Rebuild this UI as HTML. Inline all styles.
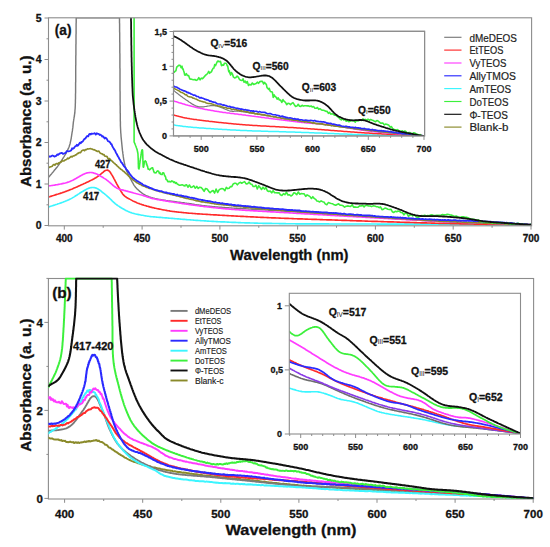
<!DOCTYPE html>
<html><head><meta charset="utf-8"><style>
html,body{margin:0;padding:0;background:#fff;}
svg{display:block;font-family:"Liberation Sans",sans-serif;}
</style></head><body>
<svg width="550" height="547" viewBox="0 0 550 547">
<rect width="550" height="547" fill="#fff"/>
<clipPath id="ca"><rect x="48.5" y="17.8" width="483.1" height="208.0"/></clipPath>
<clipPath id="cai"><rect x="173.5" y="31.3" width="251" height="104.6"/></clipPath>
<clipPath id="cb"><rect x="48.4" y="277.4" width="485.2" height="221.3"/></clipPath>
<clipPath id="cbi"><rect x="289.3" y="293.3" width="231.2" height="140.4"/></clipPath>
<g clip-path="url(#ca)">
<path d="M48.6,177.2 49.2,176.4 49.9,175.7 50.5,174.9 51.2,174.2 51.9,173.4 52.5,172.6 53.2,171.9 53.8,171.1 54.4,170.3 55.1,169.6 55.7,168.8 56.3,168.0 57.0,167.2 57.6,166.4 58.2,165.6 58.7,164.8 59.3,164.0 59.9,163.1 60.4,162.3 61.0,161.5 61.5,160.6 62.1,159.8 62.6,158.9 63.1,158.1 63.7,157.2 64.2,156.4 64.7,155.5 65.2,154.6 65.7,153.8 66.2,152.9 66.7,152.0 67.1,151.1 67.6,150.2 68.0,149.3 68.4,148.4 68.8,147.5 69.2,146.5 69.5,145.6 69.8,144.6 70.1,143.7 70.3,142.7 70.5,141.7 70.7,140.8 70.9,139.8 71.1,138.8 71.3,137.8 71.4,136.8 71.6,135.8 71.7,134.8 71.9,133.8 72.0,132.8 72.2,131.9 72.4,130.9 72.5,129.9 72.6,128.9 72.8,127.9 72.9,126.9 73.0,125.9 73.1,124.9 73.2,123.9 73.3,122.9 73.4,121.9 73.6,120.9 73.7,119.9 73.9,118.9 74.0,117.9 74.2,117.0 74.4,116.0 74.5,115.0 74.6,114.0 74.8,113.0 74.9,112.0 74.9,111.0 75.0,110.0 75.1,109.0 75.2,108.0 75.2,107.0 75.3,106.0 75.3,105.0 75.3,104.0 75.4,103.0 75.4,102.0 75.4,101.0 75.4,100.0 75.5,99.0 75.5,98.0 75.5,97.0 75.5,96.0 75.5,95.0 75.5,94.0 75.6,93.0 75.6,92.0 75.6,91.0 75.6,90.0 75.6,89.0 75.6,88.0 75.6,87.0 75.6,85.9 75.6,84.9 75.6,83.9 75.6,82.9 75.7,81.9 75.7,80.9 75.7,79.9 75.7,78.9 75.7,77.9 75.7,76.9 75.7,75.9 75.7,74.9 75.7,73.9 75.7,72.9 75.7,71.9 75.7,70.9 75.7,69.9 75.7,68.9 75.7,67.9 75.7,66.9 75.7,65.9 75.8,64.9 75.8,63.9 75.8,62.9 75.8,61.9 75.8,60.9 75.8,59.9 75.8,58.9 75.8,57.9 75.8,56.9 75.8,55.9 75.9,54.9 75.9,53.9 75.9,52.9 75.9,51.9 75.9,50.9 75.9,49.9 75.9,48.9 75.9,47.9 75.9,46.9 75.9,45.9 75.9,44.9 76.0,43.9 76.0,42.9 76.0,41.9 76.0,40.9 76.0,39.8 76.0,38.8 76.0,37.8 76.0,36.8 76.0,35.8 76.0,34.8 76.1,33.8 76.1,32.8 76.1,31.8 76.1,30.8 76.1,29.8 76.1,28.8 76.1,27.8 76.1,26.8 76.1,25.8 76.1,24.8 76.1,23.8 76.2,22.8 76.2,21.8 76.2,20.8 76.2,19.8 76.2,18.8 76.2,17.8 L119.5,17.8 119.5,18.8 119.5,19.8 119.5,20.8 119.5,21.8 119.5,22.8 119.6,23.8 119.6,24.8 119.6,25.8 119.6,26.8 119.6,27.8 119.6,28.8 119.6,29.8 119.6,30.8 119.6,31.8 119.7,32.8 119.7,33.8 119.7,34.8 119.7,35.8 119.7,36.8 119.7,37.8 119.7,38.8 119.7,39.8 119.7,40.8 119.7,41.8 119.8,42.8 119.8,43.8 119.8,44.8 119.8,45.8 119.8,46.8 119.8,47.8 119.8,48.8 119.8,49.8 119.8,50.8 119.8,51.8 119.8,52.8 119.9,53.9 119.9,54.9 119.9,55.9 119.9,56.9 119.9,57.9 119.9,58.9 119.9,59.9 119.9,60.9 119.9,61.9 119.9,62.9 119.9,63.9 119.9,64.9 119.9,65.9 119.9,66.9 119.9,67.9 120.0,68.9 120.0,69.9 120.0,70.9 120.0,71.9 120.0,72.9 120.0,73.9 120.0,74.9 120.0,75.9 120.0,76.9 120.0,77.9 120.0,78.9 120.0,79.9 120.0,80.9 120.0,81.9 120.0,82.9 120.0,83.9 120.0,84.9 120.0,85.9 120.0,86.9 120.0,87.9 120.0,88.9 120.0,89.9 120.0,90.9 120.1,91.9 120.1,92.9 120.1,93.9 120.1,94.9 120.1,95.9 120.1,96.9 120.1,97.9 120.1,98.9 120.1,99.9 120.1,100.9 120.1,101.9 120.1,102.9 120.1,103.9 120.1,104.9 120.2,105.9 120.2,106.9 120.2,107.9 120.2,108.9 120.2,109.9 120.2,110.9 120.2,111.9 120.2,112.9 120.3,113.9 120.3,114.9 120.3,115.9 120.3,116.9 120.3,117.9 120.3,118.9 120.3,119.9 120.3,120.9 120.4,121.9 120.4,123.0 120.4,124.0 120.4,125.0 120.4,126.0 120.5,127.0 120.5,128.0 120.6,129.0 120.6,130.0 120.7,131.0 120.7,132.0 120.8,133.0 120.9,134.0 121.0,135.0 121.0,136.0 121.1,136.9 121.2,137.9 121.3,138.9 121.4,139.9 121.5,140.9 121.6,141.9 121.7,142.9 121.8,143.9 121.9,144.9 122.0,145.9 122.1,146.9 122.2,147.9 122.3,148.9 122.4,149.9 122.5,150.9 122.7,151.9 122.8,152.9 122.9,153.9 123.1,154.9 123.2,155.9 123.3,156.9 123.5,157.8 123.6,158.8 123.8,159.8 124.0,160.8 124.2,161.8 124.4,162.8 124.6,163.8 124.8,164.7 125.0,165.7 125.3,166.7 125.6,167.6 125.9,168.6 126.2,169.5 126.5,170.5 126.9,171.4 127.3,172.3 127.7,173.2 128.1,174.1 128.6,175.0 129.0,175.9 129.5,176.8 130.0,177.7 130.4,178.6 130.9,179.5 131.4,180.4 131.8,181.3 132.3,182.1 132.8,183.0 133.3,183.9 133.8,184.8 134.3,185.6 134.9,186.4 135.5,187.2 136.2,187.9 136.9,188.7 137.6,189.4 138.3,190.0 139.1,190.7 139.8,191.4 140.6,192.0 141.4,192.6 142.2,193.2 143.0,193.8 143.9,194.3 144.8,194.8 145.6,195.3 146.5,195.7 147.5,196.1 148.4,196.5 149.3,196.9 150.3,197.2 151.2,197.5 152.2,197.8 153.1,198.1 154.1,198.3 155.1,198.6 156.1,198.8 157.0,199.0 158.0,199.2 159.0,199.4 160.0,199.5 161.0,199.7 162.0,199.9 162.9,200.0 163.9,200.2 164.9,200.3 165.9,200.5 166.9,200.6 167.9,200.8 168.9,200.9 169.9,201.0 170.9,201.2 171.9,201.3 172.9,201.4 173.9,201.5 174.9,201.7 175.8,201.8 176.8,201.9 177.8,202.1 178.8,202.2 179.8,202.3 180.8,202.4 181.8,202.6 182.8,202.7 183.8,202.8 184.8,203.0 185.8,203.1 186.8,203.3 187.8,203.4 188.7,203.5 189.7,203.7 190.7,203.8 191.7,204.0 192.7,204.2 193.7,204.3 194.7,204.5 195.7,204.6 196.7,204.8 197.7,204.9 198.7,205.0 199.6,205.2 200.6,205.3 201.6,205.4 202.6,205.6 203.6,205.7 204.6,205.8 205.6,205.9 206.6,206.0 207.6,206.1 208.6,206.2 209.6,206.3 210.6,206.4 211.6,206.5 212.6,206.6 213.6,206.7 214.6,206.8 215.6,206.9 216.6,206.9 217.6,207.0 218.6,207.1 219.6,207.2 220.6,207.3 221.6,207.3 222.6,207.4 223.6,207.5 224.6,207.5 225.6,207.6 226.6,207.7 227.6,207.7 228.6,207.8 229.6,207.9 230.6,207.9 231.6,208.0 232.6,208.1 233.6,208.1 234.6,208.2 235.6,208.3 236.6,208.3 237.6,208.4 238.6,208.4 239.6,208.5 240.6,208.5 241.6,208.6 242.6,208.7 243.6,208.7 244.6,208.8 245.6,208.8 246.6,208.9 247.6,208.9 248.6,209.0 249.6,209.1 250.6,209.1 251.6,209.2 252.6,209.2 253.6,209.3 254.6,209.3 255.6,209.4 256.6,209.5 257.6,209.5 258.6,209.6 259.6,209.6 260.6,209.7 261.6,209.7 262.6,209.8 263.6,209.9 264.6,209.9 265.6,210.0 266.6,210.0 267.6,210.1 268.6,210.2 269.6,210.2 270.5,210.3 271.5,210.3 272.5,210.4 273.5,210.5 274.5,210.5 275.5,210.6 276.5,210.6 277.5,210.7 278.5,210.8 279.5,210.8 280.5,210.9 281.5,211.0 282.5,211.0 283.5,211.1 284.5,211.1 285.5,211.2 286.5,211.3 287.5,211.3 288.5,211.4 289.5,211.5 290.5,211.5 291.5,211.6 292.5,211.7 293.5,211.7 294.5,211.8 295.5,211.9 296.5,211.9 297.5,212.0 298.5,212.1 299.5,212.1 300.5,212.2 301.5,212.3 302.5,212.3 303.5,212.4 304.5,212.5 305.5,212.5 306.5,212.6 307.5,212.7 308.5,212.7 309.5,212.8 310.5,212.9 311.5,212.9 312.5,213.0 313.5,213.1 314.5,213.2 315.5,213.2 316.5,213.3 317.5,213.4 318.5,213.4 319.5,213.5 320.5,213.6 321.5,213.6 322.5,213.7 323.5,213.8 324.5,213.8 325.5,213.9 326.5,214.0 327.5,214.1 328.5,214.1 329.5,214.2 330.5,214.3 331.5,214.3 332.5,214.4 333.5,214.5 334.5,214.5 335.5,214.6 336.5,214.7 337.5,214.7 338.5,214.8 339.5,214.9 340.5,215.0 341.5,215.0 342.5,215.1 343.5,215.2 344.5,215.2 345.5,215.3 346.5,215.4 347.5,215.4 348.5,215.5 349.5,215.6 350.5,215.7 351.5,215.7 352.5,215.8 353.5,215.9 354.5,215.9 355.5,216.0 356.5,216.1 357.5,216.1 358.5,216.2 359.5,216.3 360.5,216.3 361.5,216.4 362.5,216.5 363.5,216.6 364.5,216.6 365.5,216.7 366.5,216.8 367.5,216.8 368.5,216.9 369.5,217.0 370.5,217.0 371.5,217.1 372.5,217.2 373.5,217.2 374.5,217.3 375.5,217.4 376.5,217.4 377.5,217.5 378.5,217.6 379.5,217.6 380.5,217.7 381.5,217.8 382.5,217.9 383.5,217.9 384.5,218.0 385.5,218.1 386.5,218.1 387.5,218.2 388.5,218.3 389.5,218.3 390.5,218.4 391.5,218.5 392.5,218.5 393.4,218.6 394.4,218.7 395.4,218.7 396.4,218.8 397.4,218.9 398.4,218.9 399.4,219.0 400.4,219.1 401.4,219.1 402.4,219.2 403.4,219.3 404.4,219.3 405.4,219.4 406.4,219.5 407.4,219.5 408.4,219.6 409.4,219.6 410.4,219.7 411.4,219.8 412.4,219.8 413.4,219.9 414.4,220.0 415.4,220.0 416.4,220.1 417.4,220.2 418.4,220.2 419.4,220.3 420.4,220.3 421.4,220.4 422.4,220.5 423.4,220.5 424.4,220.6 425.4,220.7 426.4,220.7 427.4,220.8 428.4,220.8 429.4,220.9 430.4,221.0 431.4,221.0 432.4,221.1 433.4,221.1 434.4,221.2 435.4,221.2 436.4,221.3 437.4,221.4 438.4,221.4 439.4,221.5 440.4,221.5 441.4,221.6 442.4,221.6 443.4,221.7 444.4,221.7 445.4,221.8 446.4,221.8 447.4,221.9 448.4,221.9 449.4,222.0 450.4,222.0 451.4,222.1 452.4,222.1 453.4,222.2 454.4,222.2 455.4,222.3 456.4,222.3 457.4,222.4 458.4,222.4 459.4,222.5 460.4,222.5 461.4,222.5 462.4,222.6 463.4,222.6 464.4,222.7 465.4,222.7 466.4,222.8 467.4,222.8 468.4,222.8 469.4,222.9 470.4,222.9 471.4,222.9 472.4,223.0 473.4,223.0 474.4,223.1 475.4,223.1 476.4,223.1 477.4,223.2 478.4,223.2 479.4,223.2 480.4,223.3 481.4,223.3 482.4,223.3 483.4,223.4 484.5,223.4 485.5,223.4 486.5,223.5 487.5,223.5 488.5,223.5 489.5,223.6 490.5,223.6 491.5,223.6 492.5,223.7 493.5,223.7 494.5,223.7 495.5,223.7 496.5,223.8 497.5,223.8 498.5,223.8 499.5,223.9 500.5,223.9 501.5,223.9 502.5,223.9 503.5,224.0 504.5,224.0 505.5,224.0 506.5,224.1 507.5,224.1 508.5,224.1 509.5,224.1 510.5,224.2 511.5,224.2 512.5,224.2 513.5,224.2 514.5,224.3 515.5,224.3 516.5,224.3 517.5,224.3 518.5,224.4 519.5,224.4 520.5,224.4 521.5,224.4 522.5,224.5 523.5,224.5 524.5,224.5 525.5,224.5 526.5,224.6 527.5,224.6 528.5,224.6 529.5,224.7 530.5,224.7" fill="none" stroke="#7a7a7a" stroke-width="1.43" stroke-linejoin="round" stroke-linecap="round" />
<path d="M48.6,206.9 49.6,206.6 50.5,206.3 51.5,206.0 52.4,205.7 53.4,205.4 54.3,205.1 55.3,204.8 56.2,204.5 57.2,204.2 58.1,203.8 59.1,203.5 60.0,203.2 61.0,202.9 61.9,202.5 62.8,202.2 63.8,201.8 64.7,201.5 65.6,201.1 66.6,200.7 67.5,200.3 68.4,199.9 69.3,199.5 70.2,199.1 71.1,198.6 72.0,198.1 72.8,197.6 73.7,197.1 74.5,196.6 75.4,196.0 76.2,195.5 77.1,195.0 77.9,194.4 78.8,193.9 79.6,193.3 80.4,192.8 81.3,192.3 82.1,191.7 83.0,191.2 83.8,190.7 84.7,190.2 85.6,189.7 86.5,189.3 87.4,188.8 88.3,188.4 89.2,188.1 90.2,187.8 91.2,187.6 92.2,187.5 93.2,187.5 94.2,187.6 95.2,187.8 96.1,188.1 97.0,188.5 97.9,188.9 98.8,189.5 99.6,190.0 100.4,190.6 101.2,191.2 101.9,191.9 102.7,192.5 103.5,193.1 104.3,193.7 105.1,194.3 105.9,195.0 106.6,195.6 107.4,196.3 108.1,197.0 108.9,197.6 109.6,198.3 110.3,199.0 111.0,199.7 111.7,200.4 112.4,201.1 113.2,201.8 113.9,202.5 114.7,203.1 115.4,203.8 116.2,204.4 117.0,205.0 117.8,205.6 118.7,206.1 119.5,206.7 120.3,207.2 121.2,207.8 122.0,208.3 122.9,208.8 123.8,209.3 124.7,209.8 125.5,210.2 126.4,210.7 127.3,211.1 128.2,211.5 129.2,211.9 130.1,212.3 131.0,212.6 132.0,213.0 132.9,213.2 133.9,213.5 134.9,213.8 135.8,214.0 136.8,214.2 137.8,214.4 138.8,214.6 139.8,214.8 140.7,215.0 141.7,215.2 142.7,215.3 143.7,215.5 144.7,215.7 145.7,215.9 146.7,216.0 147.6,216.2 148.6,216.3 149.6,216.5 150.6,216.6 151.6,216.7 152.6,216.8 153.6,216.9 154.6,216.9 155.6,217.0 156.6,217.1 157.6,217.2 158.6,217.3 159.6,217.3 160.6,217.4 161.6,217.5 162.6,217.6 163.6,217.7 164.6,217.8 165.6,217.8 166.6,217.9 167.6,218.0 168.6,218.1 169.6,218.2 170.5,218.3 171.5,218.4 172.5,218.4 173.5,218.5 174.5,218.6 175.5,218.7 176.5,218.8 177.5,218.9 178.5,218.9 179.5,219.0 180.5,219.1 181.5,219.2 182.5,219.3 183.5,219.3 184.5,219.4 185.5,219.5 186.5,219.6 187.5,219.7 188.5,219.7 189.5,219.8 190.5,219.9 191.5,220.0 192.5,220.0 193.5,220.1 194.5,220.2 195.5,220.3 196.5,220.3 197.5,220.4 198.5,220.5 199.5,220.5 200.5,220.6 201.5,220.7 202.5,220.7 203.5,220.8 204.5,220.9 205.5,220.9 206.5,221.0 207.5,221.1 208.5,221.1 209.5,221.2 210.5,221.2 211.5,221.3 212.4,221.3 213.4,221.4 214.4,221.5 215.4,221.5 216.4,221.6 217.4,221.6 218.4,221.7 219.4,221.7 220.4,221.8 221.4,221.8 222.4,221.8 223.4,221.9 224.4,221.9 225.4,222.0 226.4,222.0 227.4,222.1 228.4,222.1 229.4,222.2 230.4,222.2 231.4,222.3 232.4,222.3 233.4,222.3 234.4,222.4 235.4,222.4 236.4,222.5 237.4,222.5 238.4,222.6 239.4,222.6 240.4,222.6 241.4,222.7 242.4,222.7 243.4,222.7 244.4,222.8 245.4,222.8 246.4,222.8 247.4,222.9 248.4,222.9 249.4,222.9 250.4,223.0 251.4,223.0 252.4,223.0 253.4,223.0 254.4,223.1 255.4,223.1 256.4,223.1 257.4,223.1 258.4,223.2 259.4,223.2 260.4,223.2 261.4,223.2 262.4,223.3 263.4,223.3 264.4,223.3 265.4,223.3 266.4,223.3 267.4,223.4 268.4,223.4 269.4,223.4 270.4,223.4 271.4,223.4 272.4,223.5 273.4,223.5 274.4,223.5 275.4,223.5 276.4,223.5 277.4,223.5 278.4,223.5 279.4,223.6 280.4,223.6 281.4,223.6 282.4,223.6 283.4,223.6 284.4,223.6 285.4,223.6 286.4,223.7 287.4,223.7 288.4,223.7 289.4,223.7 290.4,223.7 291.4,223.7 292.4,223.7 293.4,223.7 294.4,223.7 295.4,223.8 296.4,223.8 297.4,223.8 298.4,223.8 299.4,223.8 300.4,223.8 301.4,223.8 302.4,223.8 303.4,223.8 304.4,223.8 305.4,223.8 306.4,223.8 307.4,223.8 308.4,223.9 309.4,223.9 310.4,223.9 311.4,223.9 312.4,223.9 313.4,223.9 314.4,223.9 315.4,223.9 316.4,223.9 317.4,223.9 318.4,223.9 319.4,223.9 320.4,223.9 321.4,223.9 322.4,223.9 323.4,223.9 324.4,223.9 325.4,223.9 326.4,223.9 327.4,223.9 328.4,223.9 329.4,224.0 330.4,224.0 331.4,224.0 332.4,224.0 333.4,224.0 334.4,224.0 335.4,224.0 336.4,224.0 337.4,224.0 338.4,224.0 339.4,224.0 340.4,224.0 341.4,224.0 342.4,224.0 343.4,224.0 344.4,224.0 345.4,224.0 346.4,224.0 347.4,224.0 348.4,224.0 349.4,224.0 350.4,224.0 351.4,224.0 352.4,224.0 353.4,224.0 354.4,224.0 355.4,224.0 356.4,224.0 357.5,224.0 358.5,224.0 359.5,224.0 360.5,224.0 361.5,224.0 362.5,224.0 363.5,224.0 364.5,224.0 365.5,224.0 366.5,224.0 367.5,224.0 368.5,224.0 369.5,224.0 370.5,224.0 371.5,224.0 372.5,224.0 373.5,224.0 374.5,224.0 375.5,224.0 376.5,224.0 377.5,224.1 378.5,224.1 379.5,224.1 380.5,224.1 381.5,224.1 382.5,224.1 383.5,224.1 384.5,224.1 385.5,224.1 386.5,224.1 387.5,224.1 388.5,224.1 389.5,224.1 390.5,224.1 391.5,224.1 392.5,224.1 393.5,224.1 394.5,224.1 395.5,224.1 396.5,224.1 397.5,224.1 398.5,224.1 399.5,224.1 400.5,224.1 401.5,224.1 402.5,224.1 403.5,224.1 404.5,224.1 405.5,224.1 406.5,224.1 407.5,224.1 408.5,224.1 409.5,224.1 410.5,224.1 411.5,224.1 412.5,224.1 413.5,224.1 414.5,224.1 415.5,224.1 416.5,224.1 417.5,224.1 418.5,224.1 419.5,224.1 420.5,224.1 421.5,224.1 422.5,224.1 423.5,224.1 424.5,224.1 425.5,224.1 426.5,224.1 427.5,224.1 428.5,224.2 429.5,224.2 430.5,224.2 431.5,224.2 432.5,224.2 433.5,224.2 434.5,224.2 435.5,224.2 436.5,224.2 437.5,224.2 438.5,224.2 439.5,224.2 440.5,224.2 441.5,224.2 442.5,224.2 443.5,224.2 444.5,224.2 445.5,224.2 446.5,224.2 447.5,224.2 448.5,224.2 449.5,224.3 450.5,224.3 451.5,224.3 452.5,224.3 453.5,224.3 454.5,224.3 455.5,224.3 456.5,224.3 457.5,224.3 458.5,224.3 459.5,224.3 460.5,224.3 461.5,224.3 462.5,224.3 463.5,224.4 464.5,224.4 465.5,224.4 466.5,224.4 467.5,224.4 468.5,224.4 469.5,224.4 470.5,224.4 471.5,224.4 472.5,224.4 473.5,224.4 474.5,224.4 475.5,224.5 476.5,224.5 477.5,224.5 478.5,224.5 479.5,224.5 480.5,224.5 481.5,224.5 482.5,224.5 483.5,224.5 484.5,224.5 485.5,224.5 486.5,224.6 487.5,224.6 488.5,224.6 489.5,224.6 490.5,224.6 491.5,224.6 492.5,224.6 493.5,224.6 494.5,224.6 495.5,224.6 496.5,224.6 497.5,224.7 498.5,224.7 499.5,224.7 500.5,224.7 501.5,224.7 502.5,224.7 503.5,224.7 504.5,224.7 505.5,224.7 506.5,224.8 507.5,224.8 508.5,224.8 509.5,224.8 510.5,224.8 511.5,224.8 512.5,224.8 513.5,224.8 514.5,224.8 515.5,224.8 516.5,224.9 517.5,224.9 518.5,224.9 519.5,224.9 520.5,224.9 521.5,224.9 522.5,224.9 523.5,224.9 524.5,224.9 525.5,225.0 526.5,225.0 527.5,225.0 528.5,225.0 529.5,225.0 530.5,225.0" fill="none" stroke="#3cf5ff" stroke-width="1.65" stroke-linejoin="round" stroke-linecap="round" />
<path d="M48.6,197.0 49.6,196.7 50.5,196.4 51.5,196.1 52.4,195.8 53.4,195.5 54.3,195.2 55.3,194.9 56.2,194.6 57.2,194.3 58.2,194.0 59.1,193.7 60.1,193.4 61.0,193.1 62.0,192.8 62.9,192.4 63.9,192.1 64.8,191.8 65.7,191.4 66.7,191.1 67.6,190.7 68.6,190.4 69.5,190.0 70.4,189.6 71.3,189.3 72.3,188.9 73.2,188.5 74.1,188.1 75.0,187.7 76.0,187.3 76.9,186.9 77.8,186.5 78.7,186.1 79.6,185.7 80.5,185.3 81.4,184.8 82.3,184.4 83.3,184.0 84.2,183.6 85.1,183.2 86.0,182.7 86.9,182.3 87.8,181.9 88.7,181.5 89.6,181.0 90.5,180.6 91.4,180.1 92.3,179.7 93.2,179.2 94.1,178.7 94.9,178.2 95.8,177.7 96.6,177.2 97.5,176.6 98.3,176.0 99.1,175.4 99.9,174.8 100.7,174.2 101.4,173.6 102.2,172.9 103.0,172.3 103.7,171.6 104.5,171.0 105.4,170.5 106.3,170.2 107.3,170.1 108.2,170.4 109.1,171.0 109.8,171.7 110.4,172.5 110.9,173.4 111.5,174.2 112.0,175.1 112.5,175.9 113.0,176.8 113.5,177.7 113.9,178.6 114.4,179.4 114.9,180.3 115.3,181.2 115.8,182.1 116.3,183.0 116.7,183.9 117.2,184.7 117.7,185.6 118.2,186.5 118.7,187.4 119.2,188.2 119.7,189.1 120.2,190.0 120.7,190.8 121.2,191.7 121.8,192.5 122.3,193.4 122.9,194.2 123.5,194.9 124.2,195.7 125.0,196.3 125.8,196.9 126.6,197.5 127.5,198.0 128.4,198.5 129.3,198.9 130.1,199.4 131.0,199.9 131.9,200.4 132.8,200.9 133.7,201.3 134.6,201.7 135.5,202.1 136.4,202.5 137.3,202.9 138.3,203.3 139.2,203.6 140.1,204.0 141.1,204.3 142.0,204.6 143.0,204.9 143.9,205.2 144.9,205.5 145.9,205.8 146.8,206.1 147.8,206.3 148.8,206.6 149.7,206.9 150.7,207.1 151.7,207.4 152.6,207.6 153.6,207.8 154.6,208.1 155.6,208.3 156.5,208.5 157.5,208.7 158.5,208.9 159.5,209.1 160.5,209.3 161.5,209.5 162.4,209.7 163.4,209.9 164.4,210.0 165.4,210.2 166.4,210.4 167.4,210.6 168.4,210.7 169.3,210.9 170.3,211.1 171.3,211.2 172.3,211.4 173.3,211.5 174.3,211.6 175.3,211.8 176.3,211.9 177.3,212.0 178.3,212.1 179.3,212.2 180.3,212.3 181.3,212.4 182.3,212.5 183.3,212.6 184.3,212.7 185.2,212.8 186.2,212.9 187.2,213.0 188.2,213.1 189.2,213.2 190.2,213.2 191.2,213.3 192.2,213.4 193.2,213.5 194.2,213.5 195.2,213.6 196.2,213.7 197.2,213.8 198.2,213.8 199.2,213.9 200.2,214.0 201.2,214.0 202.2,214.1 203.2,214.2 204.2,214.2 205.2,214.3 206.2,214.4 207.2,214.4 208.2,214.5 209.2,214.5 210.2,214.6 211.2,214.7 212.2,214.7 213.2,214.8 214.2,214.8 215.2,214.9 216.2,214.9 217.2,215.0 218.2,215.1 219.2,215.1 220.2,215.2 221.2,215.2 222.2,215.3 223.2,215.3 224.2,215.4 225.2,215.5 226.2,215.5 227.2,215.6 228.2,215.6 229.2,215.7 230.2,215.7 231.2,215.8 232.2,215.8 233.2,215.9 234.2,216.0 235.2,216.0 236.2,216.1 237.2,216.1 238.2,216.2 239.2,216.2 240.2,216.3 241.2,216.3 242.2,216.4 243.2,216.4 244.2,216.5 245.2,216.5 246.2,216.6 247.2,216.6 248.2,216.7 249.2,216.7 250.2,216.8 251.2,216.8 252.2,216.9 253.2,216.9 254.2,217.0 255.2,217.0 256.2,217.1 257.2,217.1 258.2,217.2 259.2,217.2 260.2,217.3 261.2,217.3 262.2,217.4 263.2,217.4 264.2,217.5 265.2,217.5 266.2,217.5 267.2,217.6 268.2,217.6 269.2,217.7 270.2,217.7 271.2,217.8 272.2,217.8 273.2,217.8 274.2,217.9 275.2,217.9 276.2,218.0 277.2,218.0 278.2,218.0 279.2,218.1 280.2,218.1 281.2,218.2 282.2,218.2 283.2,218.2 284.2,218.3 285.2,218.3 286.2,218.4 287.2,218.4 288.2,218.4 289.2,218.5 290.2,218.5 291.2,218.5 292.2,218.6 293.2,218.6 294.2,218.7 295.2,218.7 296.2,218.7 297.2,218.8 298.2,218.8 299.2,218.8 300.2,218.9 301.2,218.9 302.2,218.9 303.3,219.0 304.3,219.0 305.3,219.1 306.3,219.1 307.3,219.1 308.3,219.2 309.3,219.2 310.3,219.2 311.3,219.3 312.3,219.3 313.3,219.3 314.3,219.4 315.3,219.4 316.3,219.4 317.3,219.5 318.3,219.5 319.3,219.5 320.3,219.6 321.3,219.6 322.3,219.6 323.3,219.7 324.3,219.7 325.3,219.7 326.3,219.8 327.3,219.8 328.3,219.8 329.3,219.9 330.3,219.9 331.3,219.9 332.3,220.0 333.3,220.0 334.3,220.0 335.3,220.1 336.3,220.1 337.3,220.1 338.3,220.2 339.3,220.2 340.3,220.2 341.3,220.3 342.3,220.3 343.3,220.3 344.3,220.4 345.3,220.4 346.3,220.4 347.3,220.5 348.3,220.5 349.3,220.5 350.3,220.6 351.3,220.6 352.3,220.6 353.3,220.7 354.3,220.7 355.3,220.7 356.3,220.8 357.3,220.8 358.3,220.8 359.3,220.9 360.3,220.9 361.3,220.9 362.3,221.0 363.3,221.0 364.3,221.0 365.3,221.1 366.3,221.1 367.3,221.1 368.3,221.2 369.3,221.2 370.3,221.2 371.3,221.3 372.3,221.3 373.3,221.3 374.3,221.4 375.3,221.4 376.3,221.4 377.3,221.4 378.3,221.5 379.3,221.5 380.3,221.5 381.3,221.6 382.3,221.6 383.3,221.6 384.3,221.7 385.3,221.7 386.3,221.7 387.3,221.8 388.3,221.8 389.3,221.8 390.3,221.9 391.3,221.9 392.3,221.9 393.3,221.9 394.3,222.0 395.3,222.0 396.3,222.0 397.3,222.1 398.3,222.1 399.3,222.1 400.3,222.2 401.3,222.2 402.3,222.2 403.3,222.2 404.3,222.3 405.3,222.3 406.3,222.3 407.3,222.4 408.3,222.4 409.3,222.4 410.4,222.5 411.4,222.5 412.4,222.5 413.4,222.5 414.4,222.6 415.4,222.6 416.4,222.6 417.4,222.7 418.4,222.7 419.4,222.7 420.4,222.8 421.4,222.8 422.4,222.8 423.4,222.8 424.4,222.9 425.4,222.9 426.4,222.9 427.4,223.0 428.4,223.0 429.4,223.0 430.4,223.0 431.4,223.1 432.4,223.1 433.4,223.1 434.4,223.1 435.4,223.2 436.4,223.2 437.4,223.2 438.4,223.3 439.4,223.3 440.4,223.3 441.4,223.3 442.4,223.4 443.4,223.4 444.4,223.4 445.4,223.4 446.4,223.5 447.4,223.5 448.4,223.5 449.4,223.5 450.4,223.6 451.4,223.6 452.4,223.6 453.4,223.6 454.4,223.7 455.4,223.7 456.4,223.7 457.4,223.7 458.4,223.7 459.4,223.8 460.4,223.8 461.4,223.8 462.4,223.8 463.4,223.9 464.4,223.9 465.4,223.9 466.4,223.9 467.4,223.9 468.4,224.0 469.4,224.0 470.4,224.0 471.4,224.0 472.4,224.0 473.4,224.0 474.4,224.1 475.4,224.1 476.4,224.1 477.4,224.1 478.4,224.1 479.4,224.2 480.4,224.2 481.4,224.2 482.4,224.2 483.4,224.2 484.4,224.2 485.4,224.3 486.4,224.3 487.4,224.3 488.4,224.3 489.4,224.3 490.4,224.3 491.4,224.4 492.4,224.4 493.4,224.4 494.5,224.4 495.5,224.4 496.5,224.4 497.5,224.4 498.5,224.5 499.5,224.5 500.5,224.5 501.5,224.5 502.5,224.5 503.5,224.5 504.5,224.5 505.5,224.6 506.5,224.6 507.5,224.6 508.5,224.6 509.5,224.6 510.5,224.6 511.5,224.6 512.5,224.6 513.5,224.7 514.5,224.7 515.5,224.7 516.5,224.7 517.5,224.7 518.5,224.7 519.5,224.7 520.5,224.8 521.5,224.8 522.5,224.8 523.5,224.8 524.5,224.8 525.5,224.8 526.5,224.8 527.5,224.9 528.5,224.9 529.5,224.9 530.5,224.9" fill="none" stroke="#ff2a2a" stroke-width="1.65" stroke-linejoin="round" stroke-linecap="round" />
<path d="M48.6,186.0 49.6,185.8 50.6,185.7 51.6,185.5 52.6,185.4 53.5,185.2 54.5,185.1 55.5,184.9 56.5,184.7 57.5,184.6 58.5,184.4 59.5,184.2 60.5,184.0 61.4,183.9 62.4,183.6 63.4,183.4 64.4,183.2 65.4,183.0 66.3,182.7 67.3,182.4 68.2,182.1 69.2,181.8 70.1,181.4 71.0,181.0 72.0,180.6 72.8,180.2 73.7,179.7 74.6,179.2 75.5,178.7 76.4,178.2 77.2,177.7 78.1,177.2 79.0,176.7 79.8,176.2 80.7,175.7 81.6,175.3 82.5,174.8 83.4,174.3 84.3,173.9 85.2,173.5 86.1,173.2 87.1,172.9 88.1,172.7 89.1,172.6 90.1,172.5 91.1,172.5 92.1,172.6 93.1,172.8 94.0,173.1 95.0,173.4 95.9,173.7 96.8,174.1 97.7,174.5 98.6,175.0 99.5,175.5 100.4,176.0 101.2,176.5 102.1,177.0 103.0,177.5 103.8,178.1 104.7,178.6 105.5,179.1 106.3,179.7 107.1,180.3 107.9,180.9 108.7,181.6 109.5,182.2 110.2,182.9 111.0,183.5 111.7,184.2 112.5,184.9 113.2,185.5 114.0,186.1 114.8,186.8 115.6,187.3 116.5,187.9 117.3,188.3 118.3,188.7 119.2,189.1 120.1,189.4 121.1,189.7 122.1,189.9 123.1,190.1 124.0,190.4 125.0,190.6 126.0,190.9 126.9,191.1 127.9,191.4 128.9,191.7 129.8,191.9 130.8,192.2 131.8,192.4 132.8,192.7 133.7,193.0 134.7,193.2 135.7,193.5 136.6,193.7 137.6,194.0 138.6,194.2 139.5,194.5 140.5,194.8 141.5,195.0 142.4,195.3 143.4,195.6 144.3,195.9 145.3,196.2 146.2,196.5 147.2,196.9 148.1,197.2 149.1,197.5 150.0,197.8 151.0,198.1 152.0,198.4 152.9,198.6 153.9,198.8 154.9,199.0 155.9,199.2 156.9,199.4 157.8,199.6 158.8,199.8 159.8,199.9 160.8,200.1 161.8,200.3 162.8,200.4 163.8,200.6 164.8,200.8 165.7,200.9 166.7,201.1 167.7,201.2 168.7,201.4 169.7,201.6 170.7,201.7 171.7,201.9 172.7,202.0 173.7,202.2 174.7,202.4 175.6,202.5 176.6,202.7 177.6,202.8 178.6,203.0 179.6,203.1 180.6,203.3 181.6,203.4 182.6,203.6 183.6,203.7 184.6,203.9 185.5,204.0 186.5,204.1 187.5,204.3 188.5,204.4 189.5,204.6 190.5,204.7 191.5,204.9 192.5,205.0 193.5,205.1 194.5,205.3 195.5,205.4 196.5,205.5 197.5,205.7 198.4,205.8 199.4,205.9 200.4,206.1 201.4,206.2 202.4,206.3 203.4,206.4 204.4,206.6 205.4,206.7 206.4,206.8 207.4,206.9 208.4,207.0 209.4,207.1 210.4,207.3 211.4,207.4 212.4,207.5 213.4,207.6 214.4,207.7 215.4,207.8 216.4,207.9 217.4,208.0 218.4,208.1 219.4,208.2 220.3,208.3 221.3,208.4 222.3,208.5 223.3,208.6 224.3,208.7 225.3,208.8 226.3,208.8 227.3,208.9 228.3,209.0 229.3,209.1 230.3,209.2 231.3,209.3 232.3,209.3 233.3,209.4 234.3,209.5 235.3,209.6 236.3,209.7 237.3,209.7 238.3,209.8 239.3,209.9 240.3,209.9 241.3,210.0 242.3,210.1 243.3,210.1 244.3,210.2 245.3,210.3 246.3,210.3 247.3,210.4 248.3,210.5 249.3,210.5 250.3,210.6 251.3,210.6 252.3,210.7 253.3,210.8 254.3,210.8 255.3,210.9 256.3,210.9 257.3,211.0 258.3,211.1 259.3,211.1 260.3,211.2 261.3,211.2 262.3,211.3 263.3,211.3 264.3,211.4 265.3,211.5 266.3,211.5 267.3,211.6 268.3,211.6 269.3,211.7 270.3,211.8 271.3,211.8 272.3,211.9 273.3,211.9 274.3,212.0 275.3,212.0 276.3,212.1 277.3,212.2 278.3,212.2 279.3,212.3 280.3,212.3 281.3,212.4 282.3,212.4 283.3,212.5 284.3,212.6 285.3,212.6 286.3,212.7 287.3,212.7 288.3,212.8 289.3,212.9 290.3,212.9 291.3,213.0 292.3,213.0 293.3,213.1 294.3,213.2 295.3,213.2 296.3,213.3 297.3,213.3 298.3,213.4 299.3,213.5 300.3,213.5 301.3,213.6 302.3,213.6 303.3,213.7 304.3,213.8 305.3,213.8 306.3,213.9 307.3,213.9 308.3,214.0 309.3,214.0 310.3,214.1 311.3,214.2 312.3,214.2 313.3,214.3 314.3,214.3 315.3,214.4 316.3,214.5 317.3,214.5 318.3,214.6 319.3,214.6 320.3,214.7 321.3,214.7 322.3,214.8 323.3,214.9 324.3,214.9 325.3,215.0 326.3,215.0 327.3,215.1 328.3,215.2 329.3,215.2 330.3,215.3 331.3,215.3 332.3,215.4 333.3,215.4 334.3,215.5 335.3,215.6 336.3,215.6 337.3,215.7 338.3,215.7 339.3,215.8 340.3,215.8 341.3,215.9 342.3,216.0 343.3,216.0 344.3,216.1 345.3,216.1 346.3,216.2 347.3,216.3 348.3,216.3 349.3,216.4 350.3,216.4 351.3,216.5 352.3,216.5 353.3,216.6 354.3,216.7 355.3,216.7 356.3,216.8 357.3,216.8 358.3,216.9 359.3,216.9 360.3,217.0 361.3,217.0 362.3,217.1 363.3,217.2 364.3,217.2 365.3,217.3 366.4,217.3 367.4,217.4 368.4,217.4 369.4,217.5 370.4,217.6 371.4,217.6 372.4,217.7 373.4,217.7 374.4,217.8 375.4,217.8 376.4,217.9 377.4,218.0 378.4,218.0 379.4,218.1 380.4,218.1 381.4,218.2 382.4,218.2 383.4,218.3 384.4,218.3 385.4,218.4 386.4,218.5 387.4,218.5 388.4,218.6 389.4,218.6 390.4,218.7 391.4,218.7 392.4,218.8 393.4,218.8 394.4,218.9 395.4,219.0 396.4,219.0 397.4,219.1 398.4,219.1 399.4,219.2 400.4,219.2 401.4,219.3 402.4,219.3 403.4,219.4 404.4,219.4 405.4,219.5 406.4,219.6 407.4,219.6 408.4,219.7 409.4,219.7 410.4,219.8 411.4,219.8 412.4,219.9 413.4,219.9 414.4,220.0 415.4,220.0 416.4,220.1 417.4,220.1 418.4,220.2 419.4,220.2 420.4,220.3 421.4,220.4 422.4,220.4 423.4,220.5 424.4,220.5 425.4,220.6 426.4,220.6 427.4,220.7 428.4,220.7 429.4,220.8 430.4,220.8 431.4,220.9 432.4,220.9 433.4,221.0 434.4,221.0 435.4,221.1 436.4,221.1 437.4,221.2 438.4,221.2 439.4,221.3 440.4,221.3 441.4,221.4 442.4,221.4 443.4,221.5 444.4,221.5 445.4,221.6 446.4,221.6 447.4,221.7 448.4,221.7 449.4,221.7 450.4,221.8 451.4,221.8 452.4,221.9 453.4,221.9 454.4,222.0 455.4,222.0 456.4,222.1 457.4,222.1 458.4,222.1 459.4,222.2 460.4,222.2 461.4,222.3 462.4,222.3 463.4,222.4 464.4,222.4 465.4,222.4 466.4,222.5 467.4,222.5 468.4,222.6 469.4,222.6 470.4,222.6 471.4,222.7 472.4,222.7 473.4,222.8 474.4,222.8 475.4,222.8 476.4,222.9 477.4,222.9 478.4,222.9 479.4,223.0 480.4,223.0 481.4,223.1 482.4,223.1 483.4,223.1 484.4,223.2 485.4,223.2 486.4,223.2 487.4,223.3 488.4,223.3 489.4,223.3 490.4,223.4 491.4,223.4 492.4,223.5 493.4,223.5 494.4,223.5 495.5,223.6 496.5,223.6 497.5,223.6 498.5,223.7 499.5,223.7 500.5,223.7 501.5,223.8 502.5,223.8 503.5,223.8 504.5,223.9 505.5,223.9 506.5,223.9 507.5,223.9 508.5,224.0 509.5,224.0 510.5,224.0 511.5,224.1 512.5,224.1 513.5,224.1 514.5,224.2 515.5,224.2 516.5,224.2 517.5,224.3 518.5,224.3 519.5,224.3 520.5,224.4 521.5,224.4 522.5,224.4 523.5,224.5 524.5,224.5 525.5,224.5 526.5,224.6 527.5,224.6 528.5,224.6 529.5,224.7 530.5,224.7" fill="none" stroke="#ff3cff" stroke-width="1.65" stroke-linejoin="round" stroke-linecap="round" />
<path d="M48.6,167.3 49.5,167.3 50.4,166.7 51.3,166.6 52.2,166.2 53.1,164.9 54.0,164.4 54.9,165.2 55.8,163.9 56.7,163.5 57.7,164.1 58.6,162.9 59.5,163.0 60.4,162.1 61.3,161.9 62.2,160.8 63.1,161.0 64.0,160.9 64.9,160.0 65.8,159.9 66.7,159.4 67.6,158.1 68.5,158.7 69.4,158.0 70.3,157.1 71.2,156.3 72.1,157.0 73.0,156.0 73.9,155.9 74.7,155.6 75.6,154.9 76.5,154.7 77.4,153.4 78.2,153.5 79.1,152.5 80.0,152.8 80.9,152.2 81.8,150.7 82.7,150.3 83.6,150.0 84.6,150.7 85.5,149.6 86.5,149.6 87.4,148.9 88.4,149.0 89.4,148.7 90.4,148.6 91.4,149.0 92.4,149.1 93.4,149.8 94.3,149.7 95.3,150.4 96.2,150.7 97.1,151.3 98.0,151.3 98.9,151.1 99.7,152.6 100.6,153.3 101.4,153.7 102.2,153.9 103.0,154.6 103.9,154.5 104.7,156.0 105.5,156.2 106.3,156.4 107.1,156.6 107.9,158.3 108.7,159.1 109.5,158.5 110.3,159.8 111.1,160.3 111.8,160.8 112.6,161.6 113.3,162.4 114.1,163.1 114.8,163.5 115.5,164.4 116.3,164.8 117.0,165.8 117.7,166.3 118.5,167.2 119.2,167.9 120.0,168.4 120.7,169.2 121.5,169.6 122.3,170.2 123.0,171.0 123.8,171.4 124.6,172.2 125.3,172.9 126.1,173.6 126.8,174.1 127.5,174.8 128.3,175.8 129.0,176.2 129.8,177.2 130.5,177.8 131.3,178.3 132.0,178.9 132.8,179.6 133.6,180.3 134.4,180.9 135.2,181.4 136.0,182.0 136.8,182.7 137.7,183.1 138.6,183.6 139.4,184.2 140.3,184.4 141.2,184.9 142.1,185.6 143.0,185.8 143.9,186.3 144.9,186.4 145.8,187.0 146.7,187.4 147.7,187.5 148.6,188.1 149.6,188.4 150.5,188.5 151.5,189.0 152.4,189.3 153.4,189.7 154.3,189.8 155.3,190.3 156.2,190.6 157.2,190.6 158.2,190.9 159.1,191.4 160.1,191.8 161.1,191.7 162.0,192.1 163.0,192.4 164.0,192.6 164.9,192.8 165.9,193.1 166.9,193.4 167.8,193.7 168.8,193.8 169.8,194.1 170.7,194.5 171.7,194.5 172.7,194.9 173.7,195.2 174.6,195.3 175.6,195.5 176.6,196.0 177.5,196.0 178.5,196.2 179.5,196.5 180.5,196.9 181.4,196.9 182.4,197.2 183.4,197.4 184.4,197.9 185.3,198.0 186.3,198.4 187.3,198.3 188.2,198.6 189.2,199.0 190.2,199.3 191.2,199.4 192.1,199.5 193.1,199.7 194.1,200.1 195.1,200.2 196.0,200.7 197.0,200.9 198.0,200.9 199.0,201.1 200.0,201.5 200.9,201.6 201.9,201.9 202.9,201.9 203.9,202.0 204.9,202.2 205.9,202.5 206.9,202.5 207.9,202.7 208.8,202.8 209.8,203.0 210.8,203.1 211.8,203.5 212.8,203.3 213.8,203.4 214.8,203.9 215.8,204.0 216.8,204.1 217.8,204.0 218.8,204.4 219.8,204.5 220.8,204.3 221.8,204.6 222.8,204.8 223.7,204.9 224.7,204.9 225.7,204.9 226.7,205.1 227.7,205.1 228.7,205.2 229.7,205.5 230.7,205.5 231.7,205.8 232.7,205.6 233.7,206.1 234.7,206.1 235.7,206.3 236.7,206.4 237.7,206.5 238.7,206.5 239.7,206.4 240.7,206.8 241.7,206.7 242.7,206.8 243.7,207.1 244.7,207.1 245.6,207.2 246.6,207.5 247.6,207.4 248.6,207.4 249.6,207.5 250.6,207.8 251.6,207.8 252.6,208.0 253.6,207.9 254.6,207.9 255.6,208.2 256.6,208.4 257.6,208.2 258.6,208.5 259.6,208.7 260.6,208.7 261.6,208.8 262.6,208.6 263.6,208.9 264.6,209.1 265.6,208.8 266.6,209.0 267.6,209.1 268.6,209.3 269.6,209.3 270.6,209.4 271.6,209.6 272.6,209.4 273.6,209.5 274.6,209.6 275.6,209.7 276.6,209.8 277.6,210.2 278.6,210.2 279.6,210.0 280.6,210.3 281.6,210.3 282.6,210.3 283.6,210.4 284.6,210.6 285.6,210.7 286.6,210.7 287.6,210.7 288.6,210.8 289.6,210.8 290.6,211.1 291.6,211.2 292.5,211.1 293.5,211.1 294.5,211.2 295.5,211.4 296.5,211.5 297.5,211.7 298.5,211.6 299.5,211.8 300.5,211.8 301.5,211.8 302.5,211.9 303.5,212.0 304.5,212.2 305.5,212.1 306.5,212.3 307.5,212.3 308.5,212.3 309.5,212.5 310.5,212.6 311.5,212.4 312.5,212.6 313.5,212.7 314.5,213.0 315.5,213.0 316.5,212.9 317.5,213.2 318.5,213.2 319.5,213.1 320.5,213.2 321.5,213.1 322.5,213.5 323.5,213.5 324.5,213.7 325.5,213.7 326.5,213.7 327.5,213.8 328.5,213.8 329.5,213.7 330.5,214.0 331.5,213.8 332.5,213.9 333.5,214.2 334.5,214.0 335.5,214.1 336.5,214.2 337.5,214.6 338.5,214.4 339.5,214.4 340.5,214.8 341.5,214.5 342.5,214.9 343.5,214.9 344.5,215.0 345.5,215.1 346.5,215.1 347.5,215.2 348.5,215.0 349.5,215.3 350.5,215.3 351.5,215.5 352.5,215.3 353.5,215.6 354.5,215.7 355.5,215.5 356.5,215.6 357.5,215.8 358.5,216.0 359.5,215.8 360.5,215.9 361.5,215.9 362.5,216.2 363.5,216.3 364.5,216.2 365.5,216.3 366.5,216.3 367.5,216.4 368.5,216.5 369.5,216.4 370.5,216.6 371.5,216.9 372.5,216.7 373.5,216.9 374.5,216.8 375.5,217.1 376.5,217.1 377.5,217.2 378.5,217.2 379.5,217.2 380.5,217.4 381.5,217.5 382.5,217.3 383.5,217.3 384.5,217.7 385.5,217.8 386.5,217.7 387.5,217.7 388.5,217.9 389.5,217.8 390.5,217.9 391.5,217.9 392.5,218.1 393.5,218.1 394.5,218.1 395.5,218.4 396.5,218.5 397.5,218.3 398.5,218.5 399.5,218.5 400.5,218.7 401.5,218.7 402.5,218.6 403.5,218.7 404.5,218.7 405.5,218.9 406.5,218.9 407.5,218.9 408.5,219.0 409.5,219.1 410.5,219.3 411.5,219.1 412.5,219.5 413.5,219.4 414.4,219.5 415.4,219.5 416.4,219.7 417.4,219.8 418.4,219.7 419.4,219.8 420.4,219.9 421.4,220.0 422.4,219.9 423.4,220.1 424.4,220.3 425.4,220.1 426.4,220.1 427.4,220.2 428.4,220.4 429.4,220.5 430.4,220.6 431.4,220.6 432.4,220.5 433.4,220.5 434.4,220.6 435.4,220.6 436.4,220.9 437.4,221.0 438.4,221.1 439.4,220.9 440.4,221.2 441.4,221.0 442.4,221.1 443.4,221.3 444.4,221.1 445.4,221.1 446.4,221.5 447.4,221.3 448.4,221.4 449.4,221.5 450.4,221.6 451.4,221.4 452.4,221.6 453.4,221.7 454.4,221.8 455.4,221.7 456.4,221.9 457.4,222.1 458.4,221.9 459.4,222.0 460.4,221.9 461.4,222.0 462.4,222.2 463.4,222.1 464.4,222.4 465.4,222.5 466.4,222.2 467.4,222.6 468.4,222.4 469.4,222.6 470.4,222.6 471.5,222.5 472.5,222.7 473.5,222.7 474.5,222.8 475.5,222.6 476.5,222.9 477.5,223.0 478.5,222.9 479.5,222.9 480.5,222.8 481.5,223.0 482.5,223.0 483.5,223.1 484.5,223.2 485.5,223.2 486.5,223.0 487.5,223.3 488.5,223.3 489.5,223.2 490.5,223.5 491.5,223.4 492.5,223.2 493.5,223.6 494.5,223.3 495.5,223.4 496.5,223.6 497.5,223.6 498.5,223.6 499.5,223.7 500.5,223.7 501.5,223.6 502.5,223.6 503.5,223.6 504.5,223.9 505.5,224.0 506.5,223.9 507.5,224.0 508.5,223.9 509.5,223.9 510.5,224.0 511.5,224.2 512.5,223.9 513.5,224.1 514.5,224.0 515.5,224.3 516.5,224.2 517.5,224.2 518.5,224.2 519.5,224.3 520.5,224.5 521.5,224.3 522.5,224.5 523.5,224.3 524.5,224.4 525.5,224.4 526.5,224.4 527.5,224.7 528.5,224.7 529.5,224.5 530.5,224.6" fill="none" stroke="#8a8a2a" stroke-width="1.65" stroke-linejoin="round" stroke-linecap="round" />
<path d="M48.6,157.0 49.6,156.4 50.5,156.7 51.5,156.0 52.4,155.5 53.4,155.9 54.4,156.6 55.3,156.1 56.3,155.8 57.2,154.4 58.2,154.8 59.2,153.9 60.1,153.4 61.1,153.0 62.0,152.9 63.0,154.0 63.9,153.5 64.9,153.1 65.8,152.8 66.7,151.2 67.7,151.1 68.6,151.3 69.5,151.1 70.4,150.8 71.2,150.4 72.1,148.3 72.9,148.8 73.7,148.3 74.5,147.4 75.3,146.1 76.1,146.1 76.9,144.7 77.6,145.7 78.4,145.0 79.2,143.7 80.0,142.6 80.8,143.2 81.5,141.9 82.3,141.8 83.0,141.1 83.8,139.8 84.5,138.9 85.2,138.6 86.0,137.6 86.7,136.4 87.5,136.0 88.3,136.4 89.1,134.3 90.0,133.8 90.9,134.5 91.8,133.5 92.8,133.8 93.8,133.5 94.8,133.2 95.8,134.6 96.8,133.2 97.7,133.9 98.7,133.8 99.6,135.0 100.5,134.7 101.4,135.4 102.3,136.6 103.1,136.3 103.9,137.4 104.7,138.6 105.5,137.7 106.3,138.2 107.0,139.2 107.8,141.0 108.5,141.4 109.2,141.4 109.8,142.3 110.4,142.8 111.0,144.1 111.6,144.1 112.2,146.0 112.7,146.9 113.2,147.8 113.7,148.5 114.2,149.5 114.7,149.9 115.2,150.9 115.7,152.2 116.1,152.9 116.6,153.7 117.1,154.8 117.5,155.5 118.0,156.5 118.5,157.1 118.9,158.0 119.4,159.0 119.9,159.7 120.4,160.7 120.9,161.8 121.4,162.4 122.0,163.0 122.6,163.9 123.1,164.8 123.7,165.9 124.3,166.5 124.9,167.2 125.5,167.9 126.1,169.2 126.7,169.7 127.3,170.4 127.9,171.1 128.5,171.9 129.1,172.8 129.6,173.9 130.2,174.4 130.8,175.2 131.5,176.2 132.1,176.8 132.9,177.8 133.6,178.1 134.4,178.9 135.2,179.6 136.0,180.0 136.8,180.9 137.7,181.2 138.5,181.6 139.3,182.3 140.2,182.6 141.0,183.3 141.9,183.7 142.7,184.6 143.6,185.0 144.5,185.3 145.4,185.6 146.3,186.1 147.2,186.5 148.1,186.9 149.0,187.3 149.9,188.0 150.9,188.0 151.8,188.3 152.8,189.1 153.7,189.2 154.7,189.8 155.6,189.8 156.6,190.3 157.5,190.4 158.5,190.8 159.5,191.0 160.4,191.1 161.4,191.2 162.4,191.5 163.4,192.0 164.3,192.3 165.3,192.5 166.3,192.4 167.3,192.8 168.2,193.1 169.2,193.2 170.2,193.5 171.2,193.6 172.2,193.8 173.1,194.0 174.1,194.0 175.1,194.6 176.1,194.8 177.1,194.5 178.0,195.2 179.0,195.4 180.0,195.4 181.0,195.3 182.0,196.0 182.9,195.8 183.9,196.4 184.9,196.5 185.9,196.4 186.8,196.6 187.8,197.1 188.8,197.2 189.8,197.5 190.8,197.8 191.7,197.7 192.7,197.8 193.7,198.5 194.7,198.2 195.7,198.8 196.6,198.7 197.6,199.2 198.6,199.4 199.6,199.6 200.6,199.7 201.5,200.0 202.5,199.9 203.5,200.3 204.5,200.3 205.5,200.8 206.4,200.9 207.4,201.0 208.4,201.2 209.4,201.1 210.4,201.3 211.4,201.7 212.4,201.9 213.3,202.2 214.3,202.3 215.3,202.2 216.3,202.5 217.3,202.8 218.3,202.9 219.3,202.8 220.2,203.3 221.2,203.5 222.2,203.2 223.2,203.6 224.2,203.7 225.2,204.0 226.2,203.9 227.2,204.0 228.2,204.2 229.2,204.6 230.2,204.3 231.2,204.4 232.1,204.8 233.1,205.0 234.1,204.9 235.1,205.0 236.1,205.3 237.1,205.4 238.1,205.1 239.1,205.7 240.1,205.4 241.1,205.6 242.1,205.9 243.1,205.8 244.1,206.1 245.1,205.9 246.1,206.4 247.1,206.1 248.1,206.2 249.1,206.5 250.1,206.5 251.1,206.7 252.0,207.0 253.0,206.9 254.0,206.7 255.0,206.9 256.0,207.1 257.0,207.2 258.0,207.4 259.0,207.4 260.0,207.3 261.0,207.4 262.0,207.8 263.0,207.7 264.0,208.0 265.0,208.2 266.0,208.1 267.0,208.2 268.0,208.2 269.0,208.2 270.0,208.6 271.0,208.4 272.0,208.7 273.0,208.5 274.0,208.9 275.0,208.9 276.0,208.9 277.0,208.9 278.0,208.9 279.0,209.2 279.9,209.1 280.9,209.4 281.9,209.2 282.9,209.2 283.9,209.3 284.9,209.8 285.9,209.5 286.9,210.0 287.9,209.8 288.9,210.0 289.9,209.9 290.9,210.1 291.9,209.9 292.9,210.2 293.9,210.5 294.9,210.2 295.9,210.5 296.9,210.4 297.9,210.5 298.9,210.4 299.9,210.5 300.9,211.0 301.9,211.1 302.9,211.1 303.9,211.2 304.9,211.3 305.9,211.0 306.9,211.3 307.9,211.3 308.9,211.4 309.9,211.7 310.9,211.7 311.9,211.8 312.9,211.5 313.9,211.8 314.9,211.9 315.9,212.0 316.9,212.0 317.9,212.2 318.9,212.0 319.8,212.4 320.8,212.2 321.8,212.3 322.8,212.5 323.8,212.5 324.8,212.4 325.8,212.4 326.8,212.5 327.8,212.7 328.8,213.0 329.8,213.0 330.8,212.8 331.8,212.9 332.8,213.2 333.8,213.0 334.8,213.1 335.8,213.0 336.8,213.1 337.8,213.4 338.8,213.5 339.8,213.6 340.8,213.5 341.8,213.9 342.8,213.8 343.8,213.6 344.8,213.7 345.8,214.2 346.8,214.3 347.8,214.3 348.8,214.2 349.8,214.1 350.8,214.1 351.8,214.3 352.8,214.3 353.8,214.7 354.8,214.8 355.8,214.8 356.8,214.6 357.8,214.7 358.8,214.8 359.8,215.2 360.8,214.9 361.8,215.2 362.8,215.3 363.7,215.3 364.7,215.5 365.7,215.3 366.7,215.5 367.7,215.4 368.7,215.4 369.7,215.4 370.7,215.7 371.7,215.6 372.7,215.7 373.7,216.2 374.7,215.9 375.7,216.3 376.7,216.3 377.7,216.4 378.7,216.4 379.7,216.6 380.7,216.6 381.7,216.6 382.7,216.6 383.7,216.8 384.7,216.8 385.7,216.8 386.7,216.9 387.7,216.8 388.7,217.2 389.7,217.1 390.7,216.9 391.7,217.0 392.7,217.4 393.7,217.2 394.7,217.3 395.7,217.5 396.7,217.7 397.7,217.5 398.7,217.6 399.7,217.7 400.7,217.5 401.7,218.0 402.7,217.6 403.7,218.2 404.7,217.8 405.7,217.9 406.7,218.3 407.7,218.3 408.7,218.1 409.7,218.3 410.7,218.3 411.7,218.5 412.7,218.3 413.7,218.7 414.7,218.8 415.6,218.7 416.6,218.9 417.6,218.9 418.6,218.7 419.6,219.0 420.6,219.1 421.6,219.0 422.6,218.8 423.6,219.1 424.6,219.3 425.6,219.0 426.6,219.3 427.6,219.4 428.6,219.3 429.6,219.1 430.6,219.4 431.6,219.3 432.6,219.6 433.6,219.6 434.6,219.5 435.6,219.8 436.6,219.7 437.6,219.6 438.6,219.9 439.6,220.0 440.6,220.0 441.6,220.1 442.6,220.0 443.6,220.1 444.6,220.0 445.6,220.0 446.6,220.3 447.6,220.0 448.6,219.9 449.6,220.3 450.6,220.2 451.6,220.3 452.6,220.3 453.6,220.2 454.6,220.2 455.6,220.2 456.6,220.5 457.6,220.6 458.6,220.6 459.6,220.3 460.6,220.8 461.6,220.7 462.6,220.6 463.6,220.4 464.6,220.8 465.6,220.8 466.6,220.8 467.6,220.5 468.6,220.9 469.6,220.6 470.6,220.8 471.6,220.7 472.6,220.9 473.6,221.2 474.6,221.1 475.6,221.2 476.6,221.0 477.6,221.1 478.6,221.2 479.6,221.0 480.6,221.2 481.6,221.5 482.6,221.5 483.6,221.6 484.6,221.4 485.6,221.6 486.6,221.7 487.6,221.7 488.6,221.6 489.6,221.6 490.6,221.6 491.6,222.1 492.6,222.1 493.6,221.9 494.6,222.2 495.6,222.1 496.6,222.2 497.6,222.4 498.6,222.2 499.6,222.5 500.6,222.3 501.6,222.5 502.6,222.4 503.6,222.6 504.6,222.6 505.6,223.0 506.6,222.7 507.6,223.1 508.6,222.8 509.6,223.4 510.6,223.0 511.6,223.1 512.5,223.2 513.5,223.6 514.5,223.6 515.5,223.8 516.5,223.6 517.5,223.5 518.5,223.7 519.5,223.8 520.5,224.2 521.5,223.9 522.5,224.0 523.5,224.3 524.5,224.1 525.5,224.6 526.5,224.3 527.5,224.5 528.5,224.6 529.5,224.8 530.5,224.5" fill="none" stroke="#2a2aff" stroke-width="1.81" stroke-linejoin="round" stroke-linecap="round" />
<path d="M134.1,17.8 134.1,142.0 135.0,143.9 135.0,143.9 135.3,144.8 135.7,145.8 136.1,146.7 136.4,147.7 136.8,148.6 137.0,149.6 137.3,150.6 137.5,151.5 137.7,152.5 137.9,153.5 138.0,154.5 138.0,155.5 138.1,156.5 138.1,157.5 138.2,158.5 138.2,159.5 138.3,160.6 138.3,161.6 138.3,162.6 138.3,163.6 138.4,164.6 138.4,165.6 138.4,166.6 138.5,167.6 138.6,168.6 139.0,168.9 139.2,167.9 139.4,166.9 139.5,165.9 139.6,164.9 139.7,163.9 139.9,162.9 140.0,161.9 140.1,160.9 140.3,160.0 140.4,159.0 140.6,158.0 140.8,157.0 140.9,156.0 141.1,155.0 141.2,154.0 141.4,153.0 141.5,152.0 141.7,151.0 141.9,150.0 142.4,149.9 142.6,150.9 142.6,151.9 142.7,152.9 142.7,153.9 142.8,154.9 142.8,155.9 142.8,156.9 142.8,157.9 142.9,158.9 142.9,159.9 142.9,160.9 143.0,162.0 143.0,163.0 143.0,164.0 143.1,165.0 143.1,166.0 143.2,167.0 143.6,167.2 143.8,166.2 143.9,165.2 144.1,164.2 144.2,163.2 144.4,162.2 144.6,161.3 145.3,160.8 145.8,161.6 146.2,162.1 146.5,164.3 146.8,163.9 147.1,165.8 147.4,165.7 147.7,166.9 148.1,169.1 148.6,168.7 149.5,169.8 150.4,169.1 151.1,168.4 151.9,167.9 152.7,167.8 153.1,169.7 153.3,169.5 153.5,170.8 153.8,171.4 154.3,172.6 155.2,172.8 156.0,173.0 156.8,171.5 157.8,170.8 158.7,171.5 159.4,173.4 160.0,172.7 160.6,174.3 161.4,174.5 162.2,174.5 162.5,173.0 163.1,172.8 163.8,173.0 164.2,174.2 164.6,175.5 164.9,176.0 165.2,176.2 165.6,177.0 166.0,179.4 166.4,179.5 167.0,179.9 167.8,181.7 168.8,181.4 169.8,181.6 170.8,181.9 171.8,180.9 172.8,181.3 173.7,182.5 174.6,181.8 175.5,183.3 176.4,182.7 177.3,184.1 178.2,184.5 179.2,185.2 180.1,185.3 181.1,185.0 182.1,184.8 183.0,185.0 184.0,185.8 185.0,186.0 185.0,185.2 186.5,184.7 187.9,187.2 189.4,185.0 190.9,187.4 192.4,186.9 193.8,185.9 195.3,188.2 196.8,186.4 198.2,188.5 199.7,187.2 201.2,187.5 202.7,189.3 204.1,191.3 205.6,188.5 207.1,189.1 208.6,191.1 210.1,192.7 211.6,191.2 213.1,190.5 214.6,193.1 216.1,189.0 217.6,192.5 219.1,189.8 220.5,188.9 222.0,188.5 223.5,188.9 224.9,190.7 226.3,187.4 227.7,188.6 229.1,188.2 230.5,186.5 231.8,186.6 233.2,183.9 234.6,183.3 235.9,183.3 237.3,184.8 238.8,183.2 240.2,182.3 241.7,183.2 243.1,182.4 244.6,181.6 246.1,183.9 247.6,183.7 249.1,182.0 250.5,184.0 251.9,184.3 253.2,186.5 254.6,186.5 255.9,185.2 257.3,188.9 258.7,185.7 260.1,187.5 261.5,189.5 263.0,187.2 264.4,189.1 265.9,187.6 267.3,190.7 268.8,191.5 270.2,191.1 271.7,192.8 273.1,190.7 274.6,192.7 276.0,192.7 277.5,192.9 279.0,192.7 280.4,194.7 281.9,195.5 283.4,193.7 284.9,194.7 286.4,192.2 287.9,195.0 289.4,194.7 290.9,196.0 292.3,195.1 293.9,192.7 295.3,193.3 296.8,194.7 298.3,192.0 299.8,194.2 301.3,193.6 302.8,193.8 304.2,193.9 305.7,196.4 307.1,194.9 308.6,195.7 310.0,196.6 311.4,198.5 312.8,196.7 314.2,198.4 315.6,199.3 316.9,200.9 318.3,201.3 319.7,202.0 321.1,200.8 322.5,201.7 323.9,202.0 325.4,204.1 326.8,204.7 328.3,202.6 329.7,203.1 331.2,203.5 332.7,203.8 334.2,204.8 335.7,205.3 337.1,204.5 338.6,203.8 340.1,205.2 341.6,205.2 343.1,205.8 344.6,207.1 346.1,206.3 347.6,205.9 349.1,206.2 350.6,206.5 352.1,204.7 353.6,207.2 355.1,206.9 356.6,207.3 358.1,207.1 359.6,205.9 361.1,206.0 362.6,205.2 364.1,206.9 365.6,205.3 367.1,205.4 368.6,206.0 370.1,206.0 371.6,206.6 373.1,205.9 374.6,206.0 376.1,206.6 377.6,206.7 379.1,207.7 380.5,206.9 382.0,209.7 383.5,209.2 385.0,208.0 386.5,208.6 387.9,209.2 389.4,209.6 390.9,209.2 392.3,211.7 393.8,212.5 395.2,211.3 396.7,211.8 398.1,211.0 399.6,211.4 401.0,212.5 402.5,212.7 403.9,214.8 405.4,213.1 406.8,213.1 408.3,216.2 409.8,215.3 411.2,214.5 412.7,215.9 414.2,214.6 415.7,216.2 417.2,217.5 418.7,217.1 420.2,216.2 421.7,215.6 423.2,215.7 424.7,215.3 426.2,216.0 427.7,215.6 429.2,215.7 430.7,215.1 432.2,214.9 433.7,215.5 435.2,215.6 436.7,215.4 438.2,215.2 439.7,215.2 441.2,215.1 442.7,214.5 444.2,214.9 445.7,214.7 447.2,214.4 448.7,214.5 450.2,215.0 451.7,215.1 453.2,215.8 454.6,216.4 456.1,216.0 457.6,216.8 459.1,217.1 460.6,217.3 462.1,216.8 463.5,216.9 465.0,217.2 466.5,217.4 468.0,217.7 469.4,218.5 470.9,219.1 472.4,219.3 473.9,219.2 475.3,219.7 476.8,220.3 478.2,219.9 479.6,221.0 481.1,221.7 482.6,221.8 484.1,222.0 485.5,221.9 487.0,221.6 488.5,222.5 490.0,222.1 491.5,222.7 493.0,223.1 494.5,222.5 496.0,222.6 497.5,223.3 499.0,223.2 500.5,222.6 502.0,222.6 503.5,222.7 505.0,223.7 506.5,223.7 508.0,223.0 509.5,223.9 511.0,224.2 512.5,223.9 514.0,223.6 515.5,223.9 517.0,223.5 518.5,223.4 520.0,224.7 521.5,224.4 523.0,224.3 524.5,224.9 526.0,224.4 527.5,225.0 529.0,225.0 530.5,224.4" fill="none" stroke="#3cf03c" stroke-width="1.59" stroke-linejoin="round" stroke-linecap="round" />
<path d="M131.0,17.8 131.0,18.8 131.0,19.8 131.0,20.8 131.1,21.8 131.1,22.8 131.1,23.8 131.1,24.8 131.1,25.8 131.1,26.8 131.1,27.8 131.1,28.8 131.2,29.8 131.2,30.8 131.2,31.8 131.2,32.8 131.2,33.8 131.2,34.8 131.2,35.8 131.2,36.8 131.3,37.8 131.3,38.8 131.3,39.8 131.3,40.8 131.3,41.8 131.3,42.8 131.3,43.8 131.3,44.8 131.4,45.8 131.4,46.8 131.4,47.8 131.4,48.8 131.4,49.8 131.4,50.8 131.5,51.8 131.5,52.8 131.5,53.8 131.5,54.8 131.5,55.8 131.5,56.8 131.6,57.8 131.6,58.8 131.6,59.8 131.6,60.8 131.6,61.8 131.7,62.8 131.7,63.8 131.7,64.8 131.7,65.8 131.8,66.8 131.8,67.8 131.8,68.8 131.8,69.8 131.9,70.8 131.9,71.8 131.9,72.8 131.9,73.8 132.0,74.8 132.0,75.8 132.0,76.8 132.1,77.8 132.1,78.8 132.1,79.8 132.2,80.8 132.2,81.8 132.2,82.8 132.3,83.8 132.3,84.8 132.3,85.8 132.4,86.8 132.4,87.8 132.5,88.8 132.5,89.8 132.5,90.8 132.6,91.8 132.6,92.8 132.7,93.8 132.7,94.8 132.8,95.8 132.9,96.8 133.0,97.8 133.1,98.8 133.2,99.8 133.3,100.8 133.4,101.8 133.5,102.8 133.6,103.8 133.7,104.8 133.9,105.8 134.0,106.8 134.1,107.8 134.2,108.8 134.4,109.7 134.5,110.7 134.7,111.7 134.8,112.7 135.0,113.7 135.1,114.7 135.3,115.7 135.4,116.7 135.6,117.7 135.8,118.6 136.0,119.6 136.1,120.6 136.3,121.6 136.6,122.6 136.8,123.5 137.0,124.5 137.3,125.5 137.5,126.4 137.8,127.4 138.1,128.4 138.4,129.3 138.8,130.3 139.1,131.2 139.4,132.1 139.8,133.1 140.2,134.0 140.6,134.9 141.0,135.8 141.4,136.7 141.9,137.6 142.3,138.5 142.9,139.4 143.4,140.2 144.0,141.0 144.6,141.8 145.2,142.6 145.9,143.4 146.5,144.1 147.2,144.8 148.0,145.5 148.7,146.2 149.4,146.9 150.2,147.5 150.9,148.2 151.7,148.8 152.5,149.4 153.3,150.0 154.1,150.6 155.0,151.2 155.8,151.7 156.7,152.2 157.5,152.7 158.4,153.2 159.3,153.7 160.2,154.1 161.0,154.6 161.9,155.1 162.8,155.6 163.7,156.0 164.6,156.5 165.5,157.0 166.4,157.4 167.2,157.9 168.1,158.3 169.0,158.8 169.9,159.2 170.9,159.6 171.8,160.0 172.7,160.4 173.6,160.8 174.5,161.2 175.5,161.6 176.4,161.9 177.3,162.3 178.3,162.6 179.2,163.0 180.2,163.3 181.1,163.6 182.0,163.9 183.0,164.2 183.9,164.6 184.9,164.9 185.8,165.2 186.8,165.5 187.7,165.8 188.7,166.1 189.6,166.5 190.6,166.8 191.5,167.1 192.5,167.4 193.4,167.7 194.4,168.1 195.3,168.4 196.3,168.7 197.2,169.0 198.2,169.3 199.1,169.7 200.1,170.0 201.0,170.3 202.0,170.6 202.9,170.9 203.9,171.2 204.8,171.5 205.8,171.8 206.7,172.1 207.7,172.4 208.7,172.7 209.6,173.0 210.6,173.2 211.5,173.5 212.5,173.8 213.5,174.0 214.4,174.3 215.4,174.5 216.4,174.8 217.4,175.0 218.3,175.2 219.3,175.4 220.3,175.6 221.3,175.7 222.3,175.9 223.3,176.0 224.3,176.1 225.3,176.2 226.3,176.4 227.3,176.4 228.3,176.5 229.3,176.6 230.3,176.7 231.2,176.8 232.2,176.8 233.2,176.9 234.2,177.0 235.2,177.0 236.2,177.1 237.2,177.2 238.2,177.3 239.2,177.4 240.2,177.5 241.2,177.7 242.2,177.8 243.2,178.0 244.2,178.2 245.1,178.4 246.1,178.6 247.1,178.9 248.0,179.2 249.0,179.5 250.0,179.8 250.9,180.1 251.8,180.4 252.8,180.8 253.7,181.1 254.7,181.5 255.6,181.8 256.5,182.2 257.5,182.5 258.4,182.9 259.3,183.2 260.3,183.6 261.2,183.9 262.2,184.3 263.1,184.6 264.0,185.0 264.9,185.4 265.9,185.8 266.8,186.1 267.7,186.5 268.6,186.9 269.6,187.3 270.5,187.7 271.4,188.0 272.4,188.4 273.3,188.7 274.3,189.0 275.2,189.3 276.2,189.6 277.2,189.8 278.1,190.0 279.1,190.2 280.1,190.3 281.1,190.4 282.1,190.5 283.1,190.6 284.1,190.6 285.1,190.6 286.1,190.6 287.1,190.6 288.1,190.5 289.1,190.5 290.1,190.4 291.1,190.3 292.1,190.2 293.1,190.1 294.1,190.0 295.1,189.9 296.1,189.8 297.1,189.7 298.1,189.6 299.1,189.5 300.1,189.4 301.1,189.3 302.0,189.2 303.0,189.1 304.0,189.0 305.0,188.9 306.0,188.8 307.0,188.8 308.0,188.7 309.0,188.7 310.0,188.7 311.0,188.7 312.0,188.7 313.0,188.7 314.0,188.8 315.0,188.8 316.0,188.9 317.0,189.0 318.0,189.2 319.0,189.4 320.0,189.6 320.9,189.9 321.9,190.2 322.8,190.5 323.8,190.8 324.7,191.2 325.6,191.7 326.5,192.1 327.4,192.6 328.2,193.1 329.1,193.6 329.9,194.1 330.8,194.7 331.6,195.2 332.5,195.7 333.3,196.3 334.2,196.8 335.0,197.3 335.9,197.9 336.7,198.4 337.6,198.9 338.5,199.4 339.4,199.8 340.3,200.3 341.2,200.7 342.1,201.1 343.0,201.4 344.0,201.7 344.9,202.0 345.9,202.2 346.9,202.5 347.9,202.6 348.9,202.8 349.9,203.0 350.8,203.1 351.8,203.2 352.8,203.3 353.8,203.3 354.8,203.4 355.8,203.5 356.8,203.5 357.8,203.5 358.8,203.6 359.8,203.6 360.8,203.6 361.8,203.7 362.8,203.7 363.8,203.7 364.8,203.7 365.8,203.7 366.8,203.8 367.8,203.8 368.8,203.8 369.8,203.8 370.8,203.8 371.8,203.8 372.8,203.8 373.8,203.7 374.8,203.7 375.8,203.6 376.8,203.6 377.8,203.6 378.8,203.6 379.8,203.7 380.8,203.8 381.8,203.9 382.8,204.0 383.8,204.2 384.8,204.4 385.7,204.7 386.7,205.0 387.7,205.2 388.6,205.5 389.6,205.8 390.5,206.2 391.5,206.5 392.4,206.8 393.4,207.1 394.3,207.5 395.3,207.8 396.2,208.1 397.1,208.5 398.1,208.8 399.0,209.2 399.9,209.6 400.9,209.9 401.8,210.3 402.7,210.7 403.6,211.1 404.6,211.5 405.5,211.8 406.4,212.2 407.3,212.6 408.3,213.0 409.2,213.3 410.2,213.6 411.1,214.0 412.1,214.3 413.0,214.6 414.0,214.8 415.0,215.1 415.9,215.3 416.9,215.5 417.9,215.6 418.9,215.8 419.9,215.9 420.9,216.0 421.9,216.1 422.9,216.1 423.9,216.2 424.9,216.2 425.9,216.2 426.9,216.2 427.9,216.2 428.9,216.2 429.9,216.2 430.9,216.2 431.9,216.2 432.9,216.2 433.9,216.2 434.9,216.2 435.9,216.2 436.9,216.2 437.9,216.2 438.9,216.3 439.9,216.3 440.9,216.4 441.9,216.4 442.9,216.5 443.9,216.5 444.9,216.6 445.9,216.7 446.9,216.7 447.9,216.8 448.9,216.9 449.9,216.9 450.9,217.0 451.9,217.1 452.9,217.2 453.9,217.3 454.9,217.3 455.9,217.4 456.9,217.5 457.8,217.6 458.8,217.7 459.8,217.8 460.8,217.9 461.8,218.0 462.8,218.1 463.8,218.2 464.8,218.4 465.8,218.5 466.8,218.6 467.8,218.8 468.8,218.9 469.8,219.1 470.8,219.2 471.7,219.4 472.7,219.5 473.7,219.7 474.7,219.9 475.7,220.0 476.7,220.2 477.7,220.4 478.7,220.5 479.6,220.7 480.6,220.8 481.6,221.0 482.6,221.1 483.6,221.3 484.6,221.4 485.6,221.5 486.6,221.6 487.6,221.7 488.6,221.8 489.6,221.9 490.6,222.0 491.6,222.1 492.6,222.2 493.6,222.3 494.6,222.3 495.6,222.4 496.6,222.5 497.5,222.5 498.5,222.6 499.5,222.7 500.5,222.7 501.5,222.8 502.5,222.9 503.5,222.9 504.5,223.0 505.5,223.1 506.5,223.1 507.5,223.2 508.5,223.3 509.5,223.4 510.5,223.4 511.5,223.5 512.5,223.6 513.5,223.6 514.5,223.7 515.5,223.8 516.5,223.8 517.5,223.9 518.5,223.9 519.5,224.0 520.5,224.1 521.5,224.1 522.5,224.2 523.5,224.3 524.5,224.3 525.5,224.4 526.5,224.4 527.5,224.5 528.5,224.6 529.5,224.6 530.5,224.7" fill="none" stroke="#111111" stroke-width="1.76" stroke-linejoin="round" stroke-linecap="round" />
</g>
<rect x="48.5" y="17.8" width="483.1" height="208.0" fill="none" stroke="#8c8c8c" stroke-width="1.1"/>
<path d="M44.5,225.5H48.5 M46.5,204.8H48.5 M44.5,184.0H48.5 M46.5,163.2H48.5 M44.5,142.5H48.5 M46.5,121.8H48.5 M44.5,101.0H48.5 M46.5,80.2H48.5 M44.5,59.5H48.5 M46.5,38.8H48.5 M44.5,18.0H48.5 M64.3,225.8V229.60000000000002 M103.2,225.8V227.8 M142.1,225.8V229.60000000000002 M181.0,225.8V227.8 M219.9,225.8V229.60000000000002 M258.8,225.8V227.8 M297.6,225.8V229.60000000000002 M336.5,225.8V227.8 M375.4,225.8V229.60000000000002 M414.3,225.8V227.8 M453.2,225.8V229.60000000000002 M492.1,225.8V227.8 M531.0,225.8V229.60000000000002" stroke="#8c8c8c" stroke-width="1" fill="none"/>
<text x="41.7" y="229.2" font-size="10.5" font-weight="bold" text-anchor="end" fill="#111" stroke="#111" stroke-width="0.3" >0</text>
<text x="41.7" y="187.7" font-size="10.5" font-weight="bold" text-anchor="end" fill="#111" stroke="#111" stroke-width="0.3" >1</text>
<text x="41.7" y="146.2" font-size="10.5" font-weight="bold" text-anchor="end" fill="#111" stroke="#111" stroke-width="0.3" >2</text>
<text x="41.7" y="104.7" font-size="10.5" font-weight="bold" text-anchor="end" fill="#111" stroke="#111" stroke-width="0.3" >3</text>
<text x="41.7" y="63.2" font-size="10.5" font-weight="bold" text-anchor="end" fill="#111" stroke="#111" stroke-width="0.3" >4</text>
<text x="41.7" y="21.7" font-size="10.5" font-weight="bold" text-anchor="end" fill="#111" stroke="#111" stroke-width="0.3" >5</text>
<text x="64.3" y="241.8" font-size="10" font-weight="bold" text-anchor="middle" fill="#111" stroke="#111" stroke-width="0.3" >400</text>
<text x="142.1" y="241.8" font-size="10" font-weight="bold" text-anchor="middle" fill="#111" stroke="#111" stroke-width="0.3" >450</text>
<text x="219.9" y="241.8" font-size="10" font-weight="bold" text-anchor="middle" fill="#111" stroke="#111" stroke-width="0.3" >500</text>
<text x="297.6" y="241.8" font-size="10" font-weight="bold" text-anchor="middle" fill="#111" stroke="#111" stroke-width="0.3" >550</text>
<text x="375.4" y="241.8" font-size="10" font-weight="bold" text-anchor="middle" fill="#111" stroke="#111" stroke-width="0.3" >600</text>
<text x="453.2" y="241.8" font-size="10" font-weight="bold" text-anchor="middle" fill="#111" stroke="#111" stroke-width="0.3" >650</text>
<text x="531.0" y="241.8" font-size="10" font-weight="bold" text-anchor="middle" fill="#111" stroke="#111" stroke-width="0.3" >700</text>
<text x="138.5" y="190" font-size="10" font-weight="bold" text-anchor="start" fill="#111" stroke="#111" stroke-width="0.3" ></text>
<text transform="translate(31.3,187) rotate(-90)" font-size="13.8" font-weight="bold" fill="#111" stroke="#111" stroke-width="0.3" textLength="131.5" lengthAdjust="spacingAndGlyphs">Absorbance (a. u.)</text>
<text x="230" y="259.8" font-size="15" font-weight="bold" text-anchor="start" fill="#111" stroke="#111" stroke-width="0.3" textLength="118.5" lengthAdjust="spacingAndGlyphs" >Wavelength (nm)</text>
<text x="54.8" y="35.2" font-size="14" font-weight="bold" text-anchor="start" fill="#111" stroke="#111" stroke-width="0.3" textLength="16.7" lengthAdjust="spacingAndGlyphs" >(a)</text>
<text x="94.9" y="167.6" font-size="10" font-weight="bold" text-anchor="start" fill="#111" stroke="#111" stroke-width="0.3" textLength="15.4" lengthAdjust="spacingAndGlyphs" >427</text>
<text x="83" y="199.7" font-size="10" font-weight="bold" text-anchor="start" fill="#111" stroke="#111" stroke-width="0.3" textLength="16.2" lengthAdjust="spacingAndGlyphs" >417</text>
<path d="M444.2,37.3H461.5" stroke="#7a7a7a" stroke-width="1.15"/>
<text x="469.4" y="41.6" font-size="10.8" font-weight="normal" text-anchor="start" fill="#222" stroke="#222" stroke-width="0.2" textLength="47.5" lengthAdjust="spacingAndGlyphs" >dMeDEOS</text>
<path d="M444.2,50.1H461.5" stroke="#ff2a2a" stroke-width="1.15"/>
<text x="469.4" y="54.4" font-size="10.8" font-weight="normal" text-anchor="start" fill="#222" stroke="#222" stroke-width="0.2" textLength="34" lengthAdjust="spacingAndGlyphs" >EtTEOS</text>
<path d="M444.2,63.0H461.5" stroke="#ff3cff" stroke-width="1.15"/>
<text x="469.4" y="67.3" font-size="10.8" font-weight="normal" text-anchor="start" fill="#222" stroke="#222" stroke-width="0.2" textLength="37" lengthAdjust="spacingAndGlyphs" >VyTEOS</text>
<path d="M444.2,75.8H461.5" stroke="#2a2aff" stroke-width="1.15"/>
<text x="469.4" y="80.1" font-size="10.8" font-weight="normal" text-anchor="start" fill="#222" stroke="#222" stroke-width="0.2" textLength="46.5" lengthAdjust="spacingAndGlyphs" >AllyTMOS</text>
<path d="M444.2,88.6H461.5" stroke="#3cf5ff" stroke-width="1.15"/>
<text x="469.4" y="92.9" font-size="10.8" font-weight="normal" text-anchor="start" fill="#222" stroke="#222" stroke-width="0.2" textLength="41.7" lengthAdjust="spacingAndGlyphs" >AmTEOS</text>
<path d="M444.2,101.5H461.5" stroke="#3cf03c" stroke-width="1.15"/>
<text x="469.4" y="105.8" font-size="10.8" font-weight="normal" text-anchor="start" fill="#222" stroke="#222" stroke-width="0.2" textLength="39" lengthAdjust="spacingAndGlyphs" >DoTEOS</text>
<path d="M444.2,114.3H461.5" stroke="#111111" stroke-width="1.15"/>
<text x="469.4" y="118.6" font-size="10.8" font-weight="normal" text-anchor="start" fill="#222" stroke="#222" stroke-width="0.2" textLength="38.5" lengthAdjust="spacingAndGlyphs" >&#934;-TEOS</text>
<path d="M444.2,127.1H461.5" stroke="#8a8a2a" stroke-width="1.15"/>
<text x="469.4" y="131.4" font-size="10.8" font-weight="normal" text-anchor="start" fill="#222" stroke="#222" stroke-width="0.2" textLength="39" lengthAdjust="spacingAndGlyphs" >Blank-b</text>
<rect x="173.5" y="31.3" width="251.10000000000002" height="104.60000000000001" fill="#fff" stroke="#8c8c8c" stroke-width="1.1"/>
<g clip-path="url(#cai)">
<path d="M173.5,125.0 174.5,125.1 175.5,125.3 176.5,125.4 177.5,125.6 178.5,125.7 179.5,125.8 180.5,126.0 181.4,126.1 182.4,126.2 183.4,126.4 184.4,126.5 185.4,126.6 186.4,126.7 187.4,126.8 188.4,126.9 189.4,127.0 190.4,127.1 191.4,127.2 192.4,127.3 193.4,127.4 194.4,127.5 195.4,127.5 196.4,127.6 197.4,127.7 198.4,127.8 199.4,127.9 200.4,127.9 201.4,128.0 202.4,128.1 203.4,128.1 204.4,128.2 205.4,128.3 206.4,128.4 207.4,128.4 208.4,128.5 209.4,128.6 210.4,128.6 211.4,128.7 212.4,128.8 213.4,128.8 214.4,128.9 215.4,129.0 216.4,129.0 217.4,129.1 218.4,129.2 219.4,129.2 220.4,129.3 221.4,129.3 222.4,129.4 223.4,129.5 224.4,129.5 225.5,129.6 226.5,129.6 227.5,129.7 228.5,129.8 229.5,129.8 230.5,129.9 231.5,129.9 232.5,130.0 233.5,130.0 234.5,130.1 235.5,130.1 236.5,130.2 237.5,130.2 238.5,130.3 239.5,130.3 240.5,130.4 241.5,130.4 242.5,130.5 243.5,130.5 244.5,130.6 245.5,130.6 246.5,130.6 247.5,130.7 248.5,130.7 249.5,130.8 250.5,130.8 251.5,130.8 252.5,130.9 253.5,130.9 254.5,130.9 255.5,131.0 256.5,131.0 257.5,131.0 258.5,131.1 259.5,131.1 260.5,131.1 261.5,131.2 262.5,131.2 263.5,131.2 264.5,131.2 265.5,131.3 266.6,131.3 267.6,131.3 268.6,131.4 269.6,131.4 270.6,131.4 271.6,131.4 272.6,131.5 273.6,131.5 274.6,131.5 275.6,131.6 276.6,131.6 277.6,131.6 278.6,131.6 279.6,131.7 280.6,131.7 281.6,131.7 282.6,131.8 283.6,131.8 284.6,131.8 285.6,131.8 286.6,131.9 287.6,131.9 288.6,131.9 289.6,132.0 290.6,132.0 291.6,132.0 292.6,132.1 293.6,132.1 294.6,132.1 295.6,132.2 296.6,132.2 297.6,132.2 298.6,132.3 299.6,132.3 300.6,132.3 301.7,132.4 302.7,132.4 303.7,132.4 304.7,132.5 305.7,132.5 306.7,132.5 307.7,132.6 308.7,132.6 309.7,132.7 310.7,132.7 311.7,132.7 312.7,132.8 313.7,132.8 314.7,132.9 315.7,132.9 316.7,132.9 317.7,133.0 318.7,133.0 319.7,133.1 320.7,133.1 321.7,133.1 322.7,133.2 323.7,133.2 324.7,133.3 325.7,133.3 326.7,133.3 327.7,133.4 328.7,133.4 329.7,133.5 330.7,133.5 331.7,133.5 332.7,133.6 333.7,133.6 334.7,133.7 335.7,133.7 336.7,133.7 337.7,133.8 338.7,133.8 339.7,133.9 340.8,133.9 341.8,133.9 342.8,134.0 343.8,134.0 344.8,134.1 345.8,134.1 346.8,134.1 347.8,134.2 348.8,134.2 349.8,134.2 350.8,134.3 351.8,134.3 352.8,134.4 353.8,134.4 354.8,134.4 355.8,134.5 356.8,134.5 357.8,134.5 358.8,134.6 359.8,134.6 360.8,134.6 361.8,134.7 362.8,134.7 363.8,134.7 364.8,134.8 365.8,134.8 366.8,134.8 367.8,134.9 368.8,134.9 369.8,134.9 370.8,135.0 371.8,135.0 372.8,135.0 373.8,135.0 374.8,135.1 375.8,135.1 376.9,135.1 377.9,135.1 378.9,135.2 379.9,135.2 380.9,135.2 381.9,135.2 382.9,135.3 383.9,135.3 384.9,135.3 385.9,135.3 386.9,135.4 387.9,135.4 388.9,135.4 389.9,135.4 390.9,135.4 391.9,135.5 392.9,135.5 393.9,135.5 394.9,135.5 395.9,135.5 396.9,135.5 397.9,135.6 398.9,135.6 399.9,135.6 400.9,135.6 401.9,135.6 402.9,135.7 403.9,135.7 404.9,135.7 405.9,135.7 406.9,135.7 407.9,135.7 409.0,135.8 410.0,135.8 411.0,135.8 412.0,135.8 413.0,135.8 414.0,135.8 415.0,135.8 416.0,135.9 417.0,135.9 418.0,135.9 419.0,135.9 420.0,135.9 421.0,135.9 422.0,136.0 423.0,136.0 424.0,136.0" fill="none" stroke="#3cf5ff" stroke-width="1.54" stroke-linejoin="round" stroke-linecap="round" />
<path d="M173.5,115.1 174.5,115.3 175.4,115.6 176.4,115.8 177.4,116.1 178.4,116.3 179.3,116.6 180.3,116.8 181.3,117.0 182.3,117.2 183.2,117.5 184.2,117.7 185.2,117.9 186.2,118.1 187.2,118.3 188.2,118.4 189.1,118.6 190.1,118.8 191.1,118.9 192.1,119.1 193.1,119.2 194.1,119.4 195.1,119.5 196.1,119.6 197.1,119.8 198.1,119.9 199.1,120.0 200.1,120.2 201.1,120.3 202.1,120.4 203.0,120.5 204.0,120.7 205.0,120.8 206.0,120.9 207.0,121.0 208.0,121.1 209.0,121.3 210.0,121.4 211.0,121.5 212.0,121.6 213.0,121.7 214.0,121.8 215.0,122.0 216.0,122.1 217.0,122.2 218.0,122.3 219.0,122.4 220.0,122.5 221.0,122.6 222.0,122.7 223.0,122.8 224.0,122.9 225.0,123.0 226.0,123.1 227.0,123.2 227.9,123.3 228.9,123.4 229.9,123.5 230.9,123.6 231.9,123.7 232.9,123.8 233.9,123.9 234.9,124.0 235.9,124.1 236.9,124.2 237.9,124.2 238.9,124.3 239.9,124.4 240.9,124.5 241.9,124.6 242.9,124.7 243.9,124.7 244.9,124.8 245.9,124.9 246.9,125.0 247.9,125.0 248.9,125.1 249.9,125.2 250.9,125.2 251.9,125.3 252.9,125.4 253.9,125.4 254.9,125.5 255.9,125.6 256.9,125.6 257.9,125.7 258.9,125.7 259.9,125.8 260.9,125.9 261.9,125.9 262.9,126.0 263.9,126.0 264.9,126.1 265.9,126.1 266.9,126.2 267.9,126.2 268.9,126.3 269.9,126.4 270.9,126.4 271.9,126.5 272.9,126.5 273.9,126.6 274.9,126.6 275.9,126.7 276.9,126.7 277.9,126.8 278.9,126.8 279.9,126.9 280.9,127.0 281.9,127.0 282.9,127.1 284.0,127.1 285.0,127.2 286.0,127.2 287.0,127.3 288.0,127.4 289.0,127.4 290.0,127.5 291.0,127.5 292.0,127.6 293.0,127.6 294.0,127.7 295.0,127.8 296.0,127.8 297.0,127.9 298.0,128.0 299.0,128.0 300.0,128.1 301.0,128.2 302.0,128.2 303.0,128.3 304.0,128.4 305.0,128.4 306.0,128.5 307.0,128.6 308.0,128.7 309.0,128.7 310.0,128.8 311.0,128.9 312.0,128.9 313.0,129.0 314.0,129.1 315.0,129.2 316.0,129.2 317.0,129.3 318.0,129.4 319.0,129.5 320.0,129.5 321.0,129.6 322.0,129.7 323.0,129.8 324.0,129.8 325.0,129.9 326.0,130.0 327.0,130.1 328.0,130.1 329.0,130.2 330.0,130.3 331.0,130.4 332.0,130.4 332.9,130.5 333.9,130.6 334.9,130.7 335.9,130.8 336.9,130.8 337.9,130.9 338.9,131.0 339.9,131.1 340.9,131.1 341.9,131.2 342.9,131.3 343.9,131.4 344.9,131.4 345.9,131.5 346.9,131.6 347.9,131.7 348.9,131.7 349.9,131.8 350.9,131.9 351.9,131.9 352.9,132.0 353.9,132.1 354.9,132.2 355.9,132.2 356.9,132.3 357.9,132.4 358.9,132.4 359.9,132.5 360.9,132.6 361.9,132.7 362.9,132.7 363.9,132.8 364.9,132.9 365.9,132.9 366.9,133.0 367.9,133.1 368.9,133.1 369.9,133.2 370.9,133.2 371.9,133.3 372.9,133.4 373.9,133.4 374.9,133.5 375.9,133.5 376.9,133.6 377.9,133.7 378.9,133.7 379.9,133.8 381.0,133.8 382.0,133.9 383.0,133.9 384.0,134.0 385.0,134.1 386.0,134.1 387.0,134.2 388.0,134.2 389.0,134.3 390.0,134.3 391.0,134.4 392.0,134.4 393.0,134.5 394.0,134.5 395.0,134.6 396.0,134.6 397.0,134.7 398.0,134.7 399.0,134.8 400.0,134.8 401.0,134.9 402.0,134.9 403.0,135.0 404.0,135.0 405.0,135.1 406.0,135.1 407.0,135.2 408.0,135.2 409.0,135.3 410.0,135.3 411.0,135.4 412.0,135.4 413.0,135.5 414.0,135.5 415.0,135.6 416.0,135.6 417.0,135.7 418.0,135.7 419.0,135.8 420.0,135.8 421.0,135.8 422.0,135.9 423.0,135.9 424.0,136.0" fill="none" stroke="#ff2a2a" stroke-width="1.54" stroke-linejoin="round" stroke-linecap="round" />
<path d="M173.5,100.9 174.5,101.2 175.4,101.5 176.4,101.8 177.3,102.1 178.3,102.4 179.2,102.7 180.2,103.0 181.2,103.3 182.1,103.6 183.1,103.9 184.0,104.1 185.0,104.4 185.9,104.7 186.9,105.0 187.9,105.3 188.8,105.5 189.8,105.8 190.8,106.1 191.7,106.3 192.7,106.6 193.7,106.8 194.7,107.0 195.6,107.3 196.6,107.5 197.6,107.7 198.6,107.9 199.5,108.1 200.5,108.4 201.5,108.6 202.5,108.8 203.5,109.0 204.4,109.2 205.4,109.4 206.4,109.5 207.4,109.7 208.4,109.9 209.4,110.1 210.3,110.3 211.3,110.5 212.3,110.6 213.3,110.8 214.3,111.0 215.3,111.2 216.3,111.3 217.2,111.5 218.2,111.6 219.2,111.8 220.2,112.0 221.2,112.1 222.2,112.2 223.2,112.4 224.2,112.5 225.2,112.6 226.2,112.8 227.2,112.9 228.2,113.0 229.1,113.1 230.1,113.3 231.1,113.4 232.1,113.5 233.1,113.6 234.1,113.7 235.1,113.9 236.1,114.0 237.1,114.1 238.1,114.2 239.1,114.4 240.1,114.5 241.1,114.6 242.1,114.8 243.1,114.9 244.1,115.0 245.0,115.1 246.0,115.3 247.0,115.4 248.0,115.5 249.0,115.7 250.0,115.8 251.0,115.9 252.0,116.1 253.0,116.2 254.0,116.3 255.0,116.4 256.0,116.6 257.0,116.7 258.0,116.8 258.9,117.0 259.9,117.1 260.9,117.2 261.9,117.4 262.9,117.5 263.9,117.6 264.9,117.8 265.9,117.9 266.9,118.0 267.9,118.1 268.9,118.3 269.9,118.4 270.9,118.5 271.9,118.7 272.8,118.8 273.8,118.9 274.8,119.0 275.8,119.2 276.8,119.3 277.8,119.4 278.8,119.6 279.8,119.7 280.8,119.8 281.8,119.9 282.8,120.1 283.8,120.2 284.8,120.3 285.8,120.5 286.7,120.6 287.7,120.7 288.7,120.8 289.7,121.0 290.7,121.1 291.7,121.2 292.7,121.3 293.7,121.4 294.7,121.6 295.7,121.7 296.7,121.8 297.7,121.9 298.7,122.0 299.7,122.2 300.7,122.3 301.7,122.4 302.7,122.5 303.7,122.6 304.6,122.7 305.6,122.8 306.6,122.9 307.6,123.0 308.6,123.1 309.6,123.2 310.6,123.2 311.6,123.3 312.6,123.4 313.6,123.5 314.6,123.5 315.6,123.6 316.6,123.7 317.6,123.8 318.6,123.8 319.6,123.9 320.6,124.0 321.6,124.0 322.6,124.1 323.6,124.2 324.6,124.3 325.6,124.4 326.6,124.5 327.6,124.6 328.6,124.7 329.6,124.8 330.6,125.0 331.6,125.1 332.6,125.2 333.6,125.4 334.5,125.5 335.5,125.7 336.5,125.8 337.5,126.0 338.5,126.1 339.5,126.3 340.5,126.5 341.5,126.6 342.5,126.8 343.4,127.0 344.4,127.2 345.4,127.3 346.4,127.5 347.4,127.7 348.4,127.9 349.4,128.1 350.3,128.2 351.3,128.4 352.3,128.6 353.3,128.7 354.3,128.9 355.3,129.1 356.3,129.2 357.2,129.4 358.2,129.6 359.2,129.7 360.2,129.9 361.2,130.0 362.2,130.2 363.2,130.3 364.2,130.4 365.2,130.6 366.2,130.7 367.2,130.8 368.2,130.9 369.1,131.1 370.1,131.2 371.1,131.3 372.1,131.4 373.1,131.5 374.1,131.6 375.1,131.7 376.1,131.8 377.1,131.9 378.1,132.0 379.1,132.1 380.1,132.2 381.1,132.3 382.1,132.4 383.1,132.5 384.1,132.6 385.1,132.7 386.1,132.8 387.1,132.9 388.1,132.9 389.1,133.0 390.1,133.1 391.1,133.2 392.1,133.3 393.1,133.4 394.1,133.5 395.1,133.6 396.1,133.7 397.1,133.7 398.1,133.8 399.1,133.9 400.1,134.0 401.0,134.1 402.0,134.2 403.0,134.2 404.0,134.3 405.0,134.4 406.0,134.5 407.0,134.6 408.0,134.7 409.0,134.7 410.0,134.8 411.0,134.9 412.0,135.0 413.0,135.1 414.0,135.2 415.0,135.2 416.0,135.3 417.0,135.4 418.0,135.5 419.0,135.6 420.0,135.7 421.0,135.7 422.0,135.8 423.0,135.9 424.0,136.0" fill="none" stroke="#ff3cff" stroke-width="1.54" stroke-linejoin="round" stroke-linecap="round" />
<path d="M173.5,90.3 174.3,90.9 175.1,91.6 175.8,92.2 176.6,92.8 177.4,93.4 178.2,94.1 179.0,94.7 179.8,95.3 180.6,95.9 181.4,96.5 182.2,97.1 183.0,97.7 183.8,98.2 184.6,98.8 185.5,99.4 186.3,100.0 187.1,100.5 187.9,101.1 188.7,101.7 189.6,102.3 190.4,102.8 191.2,103.4 192.1,103.9 192.9,104.4 193.8,104.9 194.7,105.3 195.6,105.8 196.6,106.1 197.5,106.4 198.5,106.7 199.5,106.8 200.5,106.9 201.5,106.9 202.5,106.9 203.5,106.8 204.5,106.7 205.4,106.5 206.4,106.4 207.4,106.2 208.4,106.0 209.4,105.9 210.4,105.7 211.4,105.6 212.4,105.6 213.4,105.6 214.4,105.7 215.4,105.8 216.4,106.0 217.3,106.2 218.3,106.5 219.3,106.8 220.2,107.1 221.1,107.5 222.1,107.8 223.0,108.2 223.9,108.6 224.8,109.0 225.8,109.4 226.7,109.8 227.6,110.1 228.6,110.5 229.5,110.8 230.5,111.1 231.5,111.2 232.5,111.3 233.5,111.3 234.5,111.2 235.5,111.1 236.5,111.1 237.5,111.2 238.5,111.2 239.4,111.3 240.4,111.5 241.4,111.6 242.4,111.7 243.4,111.9 244.4,112.0 245.4,112.2 246.4,112.3 247.4,112.5 248.4,112.6 249.4,112.8 250.3,112.9 251.3,113.1 252.3,113.3 253.3,113.4 254.3,113.6 255.3,113.8 256.3,113.9 257.3,114.1 258.2,114.2 259.2,114.4 260.2,114.6 261.2,114.7 262.2,114.9 263.2,115.1 264.2,115.2 265.2,115.4 266.2,115.6 267.1,115.7 268.1,115.9 269.1,116.0 270.1,116.2 271.1,116.4 272.1,116.5 273.1,116.7 274.1,116.9 275.0,117.0 276.0,117.2 277.0,117.4 278.0,117.5 279.0,117.7 280.0,117.8 281.0,118.0 282.0,118.2 282.9,118.3 283.9,118.5 284.9,118.6 285.9,118.8 286.9,119.0 287.9,119.1 288.9,119.3 289.9,119.4 290.9,119.6 291.8,119.8 292.8,119.9 293.8,120.1 294.8,120.2 295.8,120.4 296.8,120.5 297.8,120.7 298.8,120.8 299.8,121.0 300.8,121.1 301.7,121.3 302.7,121.4 303.7,121.6 304.7,121.7 305.7,121.8 306.7,122.0 307.7,122.1 308.7,122.3 309.7,122.4 310.7,122.6 311.7,122.7 312.6,122.9 313.6,123.0 314.6,123.2 315.6,123.3 316.6,123.4 317.6,123.6 318.6,123.7 319.6,123.9 320.6,124.0 321.6,124.2 322.6,124.3 323.5,124.4 324.5,124.6 325.5,124.7 326.5,124.9 327.5,125.0 328.5,125.1 329.5,125.3 330.5,125.4 331.5,125.6 332.5,125.7 333.5,125.8 334.5,126.0 335.4,126.1 336.4,126.3 337.4,126.4 338.4,126.5 339.4,126.7 340.4,126.8 341.4,127.0 342.4,127.1 343.4,127.2 344.4,127.4 345.4,127.5 346.4,127.6 347.3,127.8 348.3,127.9 349.3,128.0 350.3,128.2 351.3,128.3 352.3,128.4 353.3,128.6 354.3,128.7 355.3,128.8 356.3,128.9 357.3,129.1 358.3,129.2 359.3,129.3 360.3,129.5 361.2,129.6 362.2,129.7 363.2,129.8 364.2,130.0 365.2,130.1 366.2,130.2 367.2,130.3 368.2,130.4 369.2,130.6 370.2,130.7 371.2,130.8 372.2,130.9 373.2,131.0 374.2,131.1 375.2,131.3 376.2,131.4 377.2,131.5 378.1,131.6 379.1,131.7 380.1,131.8 381.1,131.9 382.1,132.0 383.1,132.1 384.1,132.2 385.1,132.3 386.1,132.4 387.1,132.5 388.1,132.6 389.1,132.7 390.1,132.8 391.1,132.9 392.1,133.0 393.1,133.1 394.1,133.2 395.1,133.3 396.1,133.4 397.1,133.5 398.1,133.6 399.1,133.7 400.1,133.8 401.1,133.9 402.1,134.0 403.1,134.1 404.1,134.2 405.1,134.3 406.1,134.3 407.0,134.4 408.0,134.5 409.0,134.6 410.0,134.7 411.0,134.8 412.0,134.9 413.0,135.0 414.0,135.1 415.0,135.2 416.0,135.3 417.0,135.3 418.0,135.4 419.0,135.5 420.0,135.6 421.0,135.7 422.0,135.8 423.0,135.9 424.0,136.0" fill="none" stroke="#7a7a7a" stroke-width="1.21" stroke-linejoin="round" stroke-linecap="round" />
<path d="M173.5,87.9 174.4,88.4 175.2,89.2 176.1,89.3 177.0,89.9 177.9,90.4 178.7,90.6 179.6,91.4 180.5,92.0 181.3,92.6 182.2,92.5 183.1,93.2 184.0,93.5 184.9,94.5 185.7,94.9 186.6,94.8 187.5,96.1 188.4,96.5 189.3,96.7 190.2,97.1 191.1,97.1 192.1,97.4 193.0,98.2 193.9,98.2 194.8,98.7 195.8,99.1 196.7,99.3 197.7,100.0 198.6,100.3 199.6,100.9 200.5,101.0 201.5,101.4 202.4,101.5 203.4,102.0 204.3,102.1 205.3,102.2 206.3,103.1 207.2,103.3 208.2,103.5 209.2,103.6 210.1,103.6 211.1,103.8 212.1,104.1 213.0,104.2 214.0,105.0 215.0,104.9 216.0,105.5 216.9,105.4 217.9,106.1 218.9,106.3 219.8,105.9 220.8,106.3 221.8,107.1 222.7,107.0 223.7,107.6 224.7,107.4 225.7,107.4 226.6,108.0 227.6,108.4 228.6,108.2 229.6,108.3 230.6,108.7 231.5,109.4 232.5,109.4 233.5,109.1 234.5,109.4 235.5,109.5 236.5,109.6 237.4,110.4 238.4,110.1 239.4,110.6 240.4,110.7 241.4,110.6 242.4,111.3 243.4,111.0 244.3,111.6 245.3,111.3 246.3,111.7 247.3,111.8 248.3,112.0 249.3,112.7 250.3,112.8 251.2,112.6 252.2,113.2 253.2,112.8 254.2,113.2 255.2,113.7 256.2,113.7 257.2,113.5 258.1,114.4 259.1,113.9 260.1,114.1 261.1,114.7 262.1,114.5 263.1,114.7 264.1,114.7 265.0,114.9 266.0,115.4 267.0,115.3 268.0,115.8 269.0,115.8 270.0,116.0 271.0,116.6 272.0,116.4 272.9,116.6 273.9,117.1 274.9,116.7 275.9,116.8 276.9,117.6 277.9,117.7 278.9,117.4 279.9,117.5 280.8,118.1 281.8,118.5 282.8,118.0 283.8,118.8 284.8,118.9 285.8,118.8 286.8,118.9 287.8,118.8 288.8,118.9 289.7,119.8 290.7,119.3 291.7,119.9 292.7,119.7 293.7,120.3 294.7,120.3 295.7,120.2 296.7,120.2 297.7,120.8 298.7,120.4 299.6,120.7 300.6,121.1 301.6,121.5 302.6,121.5 303.6,121.4 304.6,122.0 305.6,121.6 306.6,121.6 307.6,121.9 308.6,122.2 309.6,122.0 310.6,122.3 311.5,122.6 312.5,122.9 313.5,122.7 314.5,123.0 315.5,123.5 316.5,123.7 317.5,123.6 318.5,123.8 319.5,123.8 320.5,123.6 321.5,123.7 322.5,123.8 323.5,124.6 324.5,124.6 325.4,124.9 326.4,124.3 327.4,124.9 328.4,125.0 329.4,125.3 330.4,125.1 331.4,125.8 332.4,125.1 333.4,125.7 334.4,125.9 335.4,126.2 336.4,126.2 337.4,126.3 338.4,126.5 339.4,126.7 340.4,126.4 341.4,126.8 342.3,127.1 343.3,127.2 344.3,126.9 345.3,127.4 346.3,127.6 347.3,127.4 348.3,127.6 349.3,127.5 350.3,127.8 351.3,128.0 352.3,127.7 353.3,128.2 354.3,128.6 355.3,128.7 356.3,128.7 357.3,128.5 358.3,128.9 359.3,128.9 360.2,128.9 361.2,129.4 362.2,128.9 363.2,129.5 364.2,129.1 365.2,129.7 366.2,129.7 367.2,129.6 368.2,130.1 369.2,130.1 370.2,130.3 371.2,130.6 372.2,130.2 373.2,130.2 374.2,130.5 375.2,130.9 376.2,130.7 377.2,130.7 378.2,131.4 379.2,131.4 380.2,131.3 381.1,131.8 382.1,131.4 383.1,131.8 384.1,131.5 385.1,131.8 386.1,132.3 387.1,132.5 388.1,132.5 389.1,132.2 390.1,132.5 391.1,132.4 392.1,132.4 393.1,132.8 394.1,133.1 395.1,133.3 396.1,133.3 397.1,133.6 398.1,133.1 399.1,133.1 400.1,133.5 401.1,133.4 402.1,133.5 403.1,133.8 404.1,134.0 405.1,134.0 406.1,134.0 407.1,134.5 408.1,134.7 409.0,134.4 410.0,134.2 411.0,134.3 412.0,135.1 413.0,134.5 414.0,135.1 415.0,135.1 416.0,135.0 417.0,135.5 418.0,135.0 419.0,135.2 420.0,135.5 421.0,135.3 422.0,136.1 423.0,135.7 424.0,135.7" fill="none" stroke="#8a8a2a" stroke-width="1.54" stroke-linejoin="round" stroke-linecap="round" />
<path d="M173.5,86.0 174.4,86.5 175.3,87.0 176.2,87.0 177.1,87.3 178.0,88.0 179.0,88.4 179.9,89.2 180.8,89.5 181.7,89.9 182.6,90.3 183.5,90.8 184.4,90.8 185.3,91.4 186.2,91.6 187.2,92.6 188.1,92.3 189.0,93.3 189.9,93.1 190.8,94.0 191.8,94.1 192.7,94.6 193.6,95.3 194.6,95.0 195.5,95.4 196.4,96.4 197.4,96.5 198.3,96.5 199.2,97.6 200.2,97.9 201.1,97.6 202.1,98.1 203.0,98.3 204.0,98.7 204.9,99.3 205.8,99.3 206.8,100.0 207.7,99.9 208.7,100.3 209.6,101.1 210.6,101.1 211.5,101.4 212.5,101.9 213.5,102.1 214.4,102.3 215.4,102.3 216.3,103.2 217.3,103.7 218.2,104.0 219.2,104.0 220.2,104.0 221.1,104.3 222.1,104.8 223.1,105.1 224.0,104.9 225.0,105.3 226.0,105.6 226.9,106.0 227.9,106.5 228.9,106.5 229.9,106.4 230.8,107.2 231.8,107.1 232.8,107.4 233.8,107.4 234.7,107.8 235.7,108.0 236.7,108.5 237.7,108.2 238.7,108.8 239.6,108.7 240.6,109.3 241.6,108.9 242.6,109.3 243.6,109.6 244.6,110.0 245.6,109.6 246.5,110.1 247.5,110.1 248.5,110.3 249.5,110.6 250.5,111.1 251.5,110.8 252.5,111.3 253.5,110.8 254.5,111.6 255.5,111.2 256.5,111.2 257.5,111.8 258.5,112.1 259.5,111.5 260.5,111.9 261.4,112.4 262.4,112.2 263.4,112.3 264.4,112.3 265.4,112.5 266.4,113.2 267.4,113.6 268.3,113.8 269.3,113.6 270.3,113.5 271.3,113.9 272.3,114.5 273.3,114.7 274.2,114.8 275.2,114.7 276.2,115.1 277.2,115.3 278.2,115.6 279.1,115.6 280.1,116.3 281.1,116.5 282.1,116.1 283.1,116.4 284.0,117.1 285.0,116.8 286.0,117.6 287.0,117.4 288.0,117.8 288.9,118.0 289.9,117.8 290.9,118.0 291.9,118.2 292.9,118.7 293.9,118.9 294.9,118.6 295.9,119.3 296.9,119.1 297.8,119.1 298.8,119.4 299.8,119.9 300.8,119.7 301.8,119.8 302.8,120.2 303.8,120.3 304.8,120.2 305.8,120.0 306.8,120.2 307.8,120.6 308.8,120.6 309.8,120.5 310.8,120.4 311.8,120.5 312.8,120.8 313.8,120.8 314.8,120.4 315.8,121.1 316.8,121.4 317.8,121.4 318.8,121.6 319.8,121.8 320.8,121.6 321.8,122.0 322.8,121.9 323.7,121.8 324.7,122.2 325.7,122.4 326.7,123.1 327.7,123.1 328.7,123.2 329.6,123.5 330.6,123.3 331.6,123.8 332.6,124.2 333.6,124.1 334.5,124.2 335.5,124.6 336.5,124.7 337.5,125.2 338.5,125.0 339.4,125.1 340.4,125.5 341.4,126.0 342.4,126.2 343.4,126.3 344.4,126.7 345.4,126.4 346.4,126.3 347.4,126.8 348.3,126.9 349.3,126.8 350.3,127.3 351.3,127.2 352.3,127.2 353.3,127.4 354.3,128.0 355.3,127.3 356.3,127.7 357.3,127.8 358.3,127.8 359.3,128.1 360.3,128.0 361.3,128.7 362.3,128.5 363.3,128.7 364.3,128.4 365.3,128.8 366.3,129.0 367.3,129.3 368.3,129.0 369.3,129.2 370.3,129.7 371.3,129.8 372.3,129.4 373.2,129.8 374.2,130.1 375.2,129.9 376.2,130.3 377.2,130.4 378.2,130.8 379.2,130.5 380.2,130.8 381.2,130.6 382.2,131.0 383.2,130.8 384.2,131.1 385.2,131.1 386.2,131.2 387.2,131.2 388.2,131.4 389.2,131.8 390.2,131.6 391.2,131.6 392.2,132.3 393.2,132.0 394.1,132.7 395.1,132.5 396.1,132.5 397.1,133.0 398.1,133.1 399.1,132.8 400.1,132.8 401.1,133.3 402.1,133.6 403.1,133.5 404.1,133.8 405.1,133.6 406.1,133.9 407.1,133.7 408.1,134.0 409.1,134.1 410.1,134.2 411.1,134.3 412.1,134.8 413.1,134.4 414.0,134.5 415.0,134.7 416.0,135.4 417.0,135.2 418.0,134.9 419.0,135.7 420.0,135.8 421.0,135.9 422.0,135.6 423.0,136.1 424.0,135.8" fill="none" stroke="#2a2aff" stroke-width="1.65" stroke-linejoin="round" stroke-linecap="round" />
<path d="M173.5,71.5 174.3,72.2 175.1,71.2 175.9,70.8 176.7,67.2 177.6,66.4 178.7,65.3 179.9,65.2 181.1,67.7 182.0,66.2 182.6,69.0 183.1,68.9 183.5,70.5 184.1,72.2 184.7,75.0 185.4,75.1 186.3,73.7 187.4,75.5 188.6,75.6 189.8,78.9 191.0,79.1 192.3,79.4 193.6,79.7 194.9,79.5 196.2,80.4 197.5,79.8 198.8,77.6 200.1,79.8 201.3,78.1 202.5,78.7 203.7,77.4 204.8,76.1 205.8,75.0 206.8,74.4 207.7,73.1 208.7,71.4 209.6,73.3 210.5,72.2 211.4,72.0 212.2,69.9 213.1,68.3 213.9,68.1 214.7,64.6 215.5,65.7 216.3,63.8 217.2,61.7 218.1,61.0 219.3,61.8 220.4,61.3 221.0,63.3 221.3,65.2 221.7,65.6 222.7,64.8 223.6,65.2 224.5,63.2 225.7,63.2 226.6,64.0 227.2,65.8 227.7,65.8 228.3,69.4 228.8,71.8 229.3,70.7 229.9,73.2 230.6,75.1 231.4,72.6 232.4,73.9 233.5,77.2 234.6,77.9 235.9,77.5 237.1,76.0 238.4,77.4 239.6,79.6 240.8,80.2 242.0,80.5 243.0,78.8 244.1,82.2 245.2,81.0 246.2,83.1 247.3,81.5 248.5,85.4 249.7,84.4 251.0,85.0 252.3,83.0 253.6,84.4 254.9,83.9 256.1,83.5 257.3,82.2 258.6,83.3 259.9,81.6 261.2,81.4 262.4,81.2 263.6,83.9 264.6,82.4 265.5,83.8 266.3,84.2 267.0,87.6 267.8,88.3 268.5,89.3 269.3,88.4 270.1,91.0 270.8,91.7 271.6,91.7 272.4,92.4 273.2,97.4 274.1,94.8 275.1,96.5 276.1,97.2 277.1,99.2 278.2,97.8 279.4,100.0 280.6,100.1 281.8,102.5 283.0,99.6 284.2,101.4 285.5,102.4 286.7,104.7 288.0,103.3 289.2,103.5 290.5,104.6 291.8,103.4 293.0,102.6 294.3,104.7 295.6,106.5 296.9,106.1 298.2,104.3 299.5,106.2 300.8,106.4 302.1,105.3 303.4,106.1 304.7,105.8 306.0,105.7 307.3,105.9 308.6,105.9 309.8,106.4 311.1,106.0 312.4,107.0 313.7,106.6 314.9,108.3 316.2,108.3 317.4,107.5 318.7,109.4 319.9,108.7 321.2,109.7 322.4,110.3 323.6,110.3 324.8,110.7 326.0,111.4 327.2,111.3 328.4,113.3 329.6,112.3 330.8,114.2 332.0,113.6 333.2,114.3 334.4,115.1 335.5,115.0 336.6,115.8 337.8,116.9 338.9,117.7 340.1,119.1 341.3,119.9 342.5,118.5 343.7,120.0 345.0,119.5 346.2,121.2 347.5,120.5 348.8,121.8 350.1,121.3 351.4,120.6 352.7,120.4 354.0,120.9 355.3,122.1 356.6,120.5 357.9,121.0 359.1,120.4 360.4,120.0 361.6,120.5 362.9,118.9 364.1,119.7 365.4,119.4 366.7,119.9 368.0,119.2 369.3,120.2 370.6,119.5 371.9,120.0 373.1,120.4 374.4,121.2 375.6,121.7 376.9,120.5 378.1,121.0 379.4,122.2 380.6,123.2 381.8,123.1 383.0,123.1 384.2,124.9 385.4,124.1 386.6,124.3 387.8,124.8 388.9,125.3 390.1,127.2 391.3,126.5 392.5,128.3 393.7,129.1 394.9,129.8 396.1,129.9 397.4,129.6 398.6,130.4 399.9,131.2 401.1,131.3 402.4,130.8 403.6,132.0 404.9,131.0 406.2,131.7 407.4,133.4 408.7,132.6 410.0,132.5 411.3,133.8 412.5,133.4 413.8,132.8 415.1,133.2 416.3,133.9 417.6,134.3 418.9,135.8 420.2,134.7 421.5,136.1 422.7,136.4 424.0,135.8" fill="none" stroke="#3cf03c" stroke-width="1.59" stroke-linejoin="round" stroke-linecap="round" />
<path d="M173.5,35.9 174.4,36.4 175.3,36.9 176.1,37.3 177.0,37.8 177.9,38.3 178.8,38.8 179.6,39.3 180.5,39.8 181.3,40.3 182.2,40.9 183.0,41.5 183.8,42.0 184.7,42.6 185.5,43.2 186.3,43.8 187.1,44.4 187.9,45.0 188.7,45.6 189.5,46.1 190.3,46.7 191.2,47.3 192.0,47.8 192.8,48.4 193.7,48.9 194.5,49.4 195.4,49.9 196.3,50.4 197.1,50.9 198.0,51.4 198.9,51.9 199.8,52.3 200.7,52.8 201.6,53.2 202.5,53.6 203.4,54.0 204.4,54.3 205.3,54.7 206.3,54.9 207.3,55.2 208.3,55.3 209.3,55.5 210.2,55.6 211.2,55.7 212.2,55.8 213.2,55.9 214.2,56.0 215.2,56.2 216.2,56.3 217.2,56.6 218.2,56.8 219.1,57.1 220.1,57.4 221.0,57.7 222.0,58.1 222.9,58.5 223.8,58.9 224.6,59.4 225.5,60.0 226.3,60.5 227.1,61.2 227.8,61.9 228.5,62.6 229.2,63.3 229.8,64.1 230.5,64.9 231.1,65.7 231.7,66.4 232.3,67.2 233.0,68.0 233.6,68.8 234.3,69.5 235.0,70.2 235.7,70.9 236.5,71.5 237.3,72.2 238.1,72.8 238.9,73.3 239.7,73.9 240.6,74.4 241.4,74.9 242.3,75.4 243.2,75.8 244.2,76.2 245.1,76.5 246.1,76.8 247.1,77.0 248.0,77.2 249.0,77.3 250.0,77.3 251.0,77.3 252.0,77.2 253.0,77.1 254.0,77.0 255.0,76.8 256.0,76.7 257.0,76.5 258.0,76.3 259.0,76.2 260.0,76.0 261.0,75.8 261.9,75.7 262.9,75.6 263.9,75.5 264.9,75.5 265.9,75.5 266.9,75.6 267.9,75.8 268.9,76.0 269.8,76.4 270.7,76.9 271.6,77.4 272.4,78.0 273.1,78.6 273.9,79.3 274.6,80.0 275.3,80.7 276.0,81.4 276.7,82.2 277.4,82.9 278.1,83.6 278.8,84.3 279.5,85.1 280.2,85.8 280.9,86.5 281.6,87.2 282.3,87.9 283.0,88.6 283.7,89.3 284.4,90.0 285.1,90.7 285.8,91.4 286.6,92.1 287.3,92.8 288.0,93.5 288.8,94.2 289.5,94.8 290.3,95.5 291.1,96.1 291.9,96.7 292.8,97.2 293.6,97.7 294.5,98.1 295.5,98.5 296.4,98.9 297.3,99.2 298.3,99.4 299.3,99.6 300.3,99.8 301.3,100.0 302.3,100.2 303.2,100.3 304.2,100.4 305.2,100.5 306.2,100.5 307.2,100.5 308.2,100.5 309.2,100.5 310.2,100.4 311.2,100.4 312.2,100.3 313.3,100.3 314.3,100.3 315.3,100.4 316.2,100.5 317.2,100.7 318.2,100.9 319.2,101.2 320.1,101.5 321.0,101.9 321.9,102.3 322.8,102.8 323.7,103.3 324.6,103.8 325.4,104.4 326.2,105.0 327.0,105.6 327.8,106.2 328.5,106.9 329.2,107.6 329.9,108.3 330.6,109.1 331.2,109.8 331.9,110.6 332.6,111.3 333.3,112.0 334.0,112.8 334.7,113.5 335.4,114.1 336.2,114.7 337.0,115.3 337.9,115.9 338.7,116.4 339.6,116.9 340.5,117.3 341.4,117.7 342.3,118.1 343.3,118.5 344.2,118.8 345.2,119.1 346.1,119.4 347.1,119.6 348.1,119.8 349.1,120.0 350.1,120.1 351.1,120.2 352.1,120.3 353.1,120.3 354.1,120.3 355.1,120.2 356.1,120.2 357.1,120.1 358.1,120.1 359.1,120.0 360.1,120.0 361.1,120.0 362.1,120.1 363.1,120.1 364.1,120.3 365.1,120.5 366.0,120.8 367.0,121.1 367.9,121.5 368.8,121.8 369.7,122.2 370.7,122.6 371.6,123.0 372.5,123.4 373.5,123.8 374.4,124.1 375.3,124.4 376.3,124.7 377.2,125.1 378.2,125.4 379.1,125.7 380.1,126.0 381.1,126.3 382.0,126.6 383.0,126.9 383.9,127.2 384.9,127.5 385.8,127.8 386.8,128.1 387.7,128.4 388.7,128.7 389.7,129.0 390.6,129.3 391.6,129.5 392.6,129.8 393.5,130.1 394.5,130.3 395.5,130.6 396.4,130.8 397.4,131.0 398.4,131.2 399.4,131.4 400.4,131.7 401.3,131.9 402.3,132.1 403.3,132.2 404.3,132.4 405.3,132.6 406.2,132.8 407.2,133.0 408.2,133.2 409.2,133.4 410.2,133.6 411.2,133.7 412.2,133.9 413.1,134.1 414.1,134.3 415.1,134.5 416.1,134.6 417.1,134.8 418.1,135.0 419.1,135.2 420.0,135.3 421.0,135.5 422.0,135.7 423.0,135.8 424.0,136.0" fill="none" stroke="#111111" stroke-width="1.76" stroke-linejoin="round" stroke-linecap="round" />
</g>
<rect x="173.5" y="31.3" width="251.10000000000002" height="104.60000000000001" fill="none" stroke="#8c8c8c" stroke-width="1.1"/>
<path d="M169.5,135.9H173.5 M171.5,128.9H173.5 M171.5,122.0H173.5 M171.5,115.0H173.5 M171.5,108.1H173.5 M169.5,101.1H173.5 M171.5,94.1H173.5 M171.5,87.2H173.5 M171.5,80.2H173.5 M171.5,73.3H173.5 M169.5,66.3H173.5 M171.5,59.3H173.5 M171.5,52.4H173.5 M171.5,45.4H173.5 M171.5,38.5H173.5 M169.5,31.5H173.5 M178.9,135.9V137.9 M190.1,135.9V137.9 M201.2,135.9V139.9 M212.3,135.9V137.9 M223.5,135.9V137.9 M234.6,135.9V137.9 M245.8,135.9V137.9 M256.9,135.9V139.9 M268.0,135.9V137.9 M279.2,135.9V137.9 M290.3,135.9V137.9 M301.5,135.9V137.9 M312.6,135.9V139.9 M323.7,135.9V137.9 M334.9,135.9V137.9 M346.0,135.9V137.9 M357.2,135.9V137.9 M368.3,135.9V139.9 M379.4,135.9V137.9 M390.6,135.9V137.9 M401.7,135.9V137.9 M412.9,135.9V137.9 M424.0,135.9V139.9" stroke="#8c8c8c" stroke-width="1" fill="none"/>
<text x="167" y="139.2" font-size="9" font-weight="bold" text-anchor="end" fill="#111" stroke="#111" stroke-width="0.3" >0</text>
<text x="167" y="104.4" font-size="9" font-weight="bold" text-anchor="end" fill="#111" stroke="#111" stroke-width="0.3" >0,5</text>
<text x="167" y="69.6" font-size="9" font-weight="bold" text-anchor="end" fill="#111" stroke="#111" stroke-width="0.3" >1</text>
<text x="167" y="34.8" font-size="9" font-weight="bold" text-anchor="end" fill="#111" stroke="#111" stroke-width="0.3" >1,5</text>
<text x="201.2" y="152.2" font-size="9" font-weight="bold" text-anchor="middle" fill="#111" stroke="#111" stroke-width="0.3" >500</text>
<text x="256.9" y="152.2" font-size="9" font-weight="bold" text-anchor="middle" fill="#111" stroke="#111" stroke-width="0.3" >550</text>
<text x="312.6" y="152.2" font-size="9" font-weight="bold" text-anchor="middle" fill="#111" stroke="#111" stroke-width="0.3" >600</text>
<text x="368.3" y="152.2" font-size="9" font-weight="bold" text-anchor="middle" fill="#111" stroke="#111" stroke-width="0.3" >650</text>
<text x="424.0" y="152.2" font-size="9" font-weight="bold" text-anchor="middle" fill="#111" stroke="#111" stroke-width="0.3" >700</text>
<text x="210.4" y="47.3" font-size="10.2" font-weight="bold" fill="#111" stroke="#111" stroke-width="0.3">Q<tspan font-size="6.2" font-weight="normal" stroke-width="0" dy="0.8">IV</tspan><tspan dy="-0.8">=516</tspan></text>
<text x="252.6" y="69.6" font-size="10.2" font-weight="bold" fill="#111" stroke="#111" stroke-width="0.3">Q<tspan font-size="6.2" font-weight="normal" stroke-width="0" dy="0.8">III</tspan><tspan dy="-0.8">=560</tspan></text>
<text x="301.8" y="91.3" font-size="10.2" font-weight="bold" fill="#111" stroke="#111" stroke-width="0.3">Q<tspan font-size="6.2" font-weight="normal" stroke-width="0" dy="0.8">II</tspan><tspan dy="-0.8">=603</tspan></text>
<text x="358" y="113.6" font-size="10.2" font-weight="bold" fill="#111" stroke="#111" stroke-width="0.3">Q<tspan font-size="6.2" font-weight="normal" stroke-width="0" dy="0.8">I</tspan><tspan dy="-0.8">=650</tspan></text>
<rect x="48.4" y="278.5" width="485.20000000000005" height="220.5" fill="none" stroke="#8c8c8c" stroke-width="1.1"/>
<g clip-path="url(#cb)">
<path d="M48.5,437.6 49.5,438.3 50.5,438.4 51.4,438.5 52.4,438.4 53.4,439.2 54.4,439.4 55.4,439.4 56.3,439.6 57.3,439.5 58.3,439.5 59.3,440.0 60.3,440.4 61.2,440.1 62.2,441.0 63.2,440.7 64.2,440.9 65.2,440.8 66.1,442.0 67.1,441.9 68.1,442.2 69.1,442.1 70.1,441.6 71.1,442.1 72.1,442.3 73.1,442.1 74.1,443.0 75.1,442.5 76.1,442.3 77.1,443.0 78.1,442.3 79.1,443.1 80.1,442.5 81.1,442.5 82.1,442.2 83.1,442.2 84.0,441.8 85.0,441.5 86.0,442.1 87.0,441.3 88.0,441.6 89.0,440.9 89.9,441.5 90.9,441.2 91.9,440.9 92.9,440.8 93.9,440.5 94.9,440.6 95.9,440.0 96.9,440.5 97.9,441.0 98.9,440.6 99.8,441.6 100.7,441.9 101.6,441.9 102.5,442.4 103.4,443.0 104.2,443.5 105.0,444.7 105.8,444.7 106.6,444.9 107.4,445.6 108.2,446.8 109.0,447.6 109.9,447.7 110.7,448.2 111.5,448.8 112.3,449.5 113.2,449.8 114.0,450.5 114.8,451.1 115.6,451.7 116.5,452.1 117.3,452.6 118.1,453.2 119.0,454.0 119.8,454.3 120.6,455.0 121.5,455.4 122.3,455.8 123.2,456.3 124.1,457.1 124.9,457.6 125.8,457.9 126.7,458.5 127.6,459.0 128.5,459.5 129.4,460.0 130.3,460.2 131.2,460.8 132.2,461.2 133.1,461.4 134.0,461.9 135.0,462.0 135.9,462.3 136.8,462.6 137.8,463.2 138.7,463.2 139.7,463.5 140.6,464.1 141.6,464.4 142.6,464.5 143.5,464.9 144.5,464.9 145.4,465.3 146.4,465.5 147.4,465.8 148.3,466.0 149.3,466.2 150.3,466.5 151.3,467.0 152.2,467.3 153.2,467.4 154.2,467.5 155.2,467.6 156.1,468.1 157.1,468.2 158.1,468.4 159.1,468.4 160.1,468.6 161.0,469.1 162.0,469.3 163.0,469.5 164.0,469.6 165.0,469.7 165.9,469.9 166.9,470.2 167.9,470.2 168.9,470.4 169.9,470.5 170.9,470.9 171.9,470.7 172.8,471.2 173.8,471.4 174.8,471.2 175.8,471.6 176.8,471.8 177.8,472.0 178.8,472.0 179.8,472.0 180.8,472.2 181.8,472.6 182.7,472.7 183.7,472.6 184.7,472.7 185.7,472.8 186.7,472.9 187.7,473.2 188.7,473.2 189.7,473.7 190.7,473.7 191.7,473.6 192.7,473.9 193.6,474.0 194.6,474.2 195.6,474.2 196.6,474.3 197.6,474.4 198.6,474.6 199.6,474.9 200.6,474.9 201.6,474.8 202.6,475.2 203.6,475.4 204.6,475.5 205.6,475.6 206.6,475.4 207.5,475.7 208.5,475.7 209.5,476.1 210.5,476.0 211.5,476.3 212.5,476.3 213.5,476.6 214.5,476.5 215.5,476.5 216.5,476.8 217.5,476.9 218.5,477.2 219.5,477.1 220.5,477.3 221.5,477.4 222.4,477.7 223.4,477.5 224.4,477.8 225.4,477.8 226.4,478.0 227.4,478.2 228.4,478.1 229.4,478.3 230.4,478.3 231.4,478.4 232.4,478.3 233.4,478.7 234.4,478.9 235.4,478.7 236.4,478.8 237.4,479.2 238.4,478.9 239.4,479.0 240.4,479.1 241.4,479.5 242.4,479.5 243.4,479.5 244.4,479.7 245.4,479.5 246.3,479.9 247.3,479.9 248.3,480.0 249.3,480.1 250.3,480.2 251.3,480.2 252.3,480.3 253.3,480.5 254.3,480.6 255.3,480.8 256.3,481.0 257.3,481.1 258.3,481.1 259.3,481.1 260.3,481.3 261.3,481.4 262.3,481.6 263.3,481.8 264.3,481.6 265.2,481.8 266.2,482.0 267.2,482.2 268.2,482.3 269.2,482.4 270.2,482.5 271.2,482.6 272.2,482.7 273.2,482.9 274.2,482.9 275.2,483.0 276.2,483.0 277.2,483.3 278.2,483.2 279.2,483.4 280.2,483.6 281.2,483.8 282.2,483.9 283.1,483.6 284.1,483.8 285.1,483.9 286.1,484.1 287.1,484.1 288.1,484.3 289.1,484.2 290.1,484.4 291.1,484.8 292.1,484.8 293.1,484.8 294.1,484.7 295.1,485.2 296.1,485.1 297.1,485.0 298.1,485.2 299.1,485.4 300.1,485.5 301.1,485.4 302.1,485.8 303.1,485.6 304.1,485.6 305.1,486.0 306.1,485.8 307.1,486.1 308.1,485.9 309.1,486.2 310.0,486.1 311.0,486.2 312.0,486.5 313.0,486.4 314.0,486.5 315.0,486.6 316.0,486.5 317.0,486.5 318.0,486.7 319.0,486.7 320.0,486.7 321.0,487.1 322.0,486.8 323.0,487.1 324.0,487.2 325.0,487.2 326.0,487.0 327.0,487.2 328.0,487.1 329.0,487.4 330.0,487.5 331.0,487.3 332.0,487.3 333.0,487.6 334.0,487.5 335.0,487.6 336.0,487.7 337.0,487.9 338.0,487.8 339.0,487.7 340.0,488.1 341.0,488.1 342.0,488.1 343.0,487.9 344.0,488.0 345.0,488.2 346.0,488.3 347.0,488.2 348.0,488.5 349.0,488.6 350.0,488.7 351.0,488.7 352.0,488.4 353.0,488.7 354.0,488.6 355.0,488.9 356.0,488.9 357.0,489.0 358.0,488.8 359.0,488.8 360.0,489.2 361.0,489.2 362.0,489.2 363.0,489.2 364.0,489.4 365.0,489.3 366.0,489.3 367.0,489.4 368.0,489.4 369.0,489.6 370.0,489.8 371.0,489.5 372.0,489.5 373.0,489.8 374.0,489.9 375.0,489.8 376.0,489.8 377.0,489.8 378.0,489.9 379.0,490.1 380.0,490.2 381.0,490.3 382.0,490.1 383.0,490.2 384.0,490.5 385.0,490.4 386.0,490.4 387.0,490.6 388.0,490.7 389.0,490.6 390.0,490.5 391.0,490.9 392.0,490.7 393.0,490.7 393.9,490.8 394.9,491.0 395.9,491.1 396.9,490.9 397.9,491.2 398.9,491.2 399.9,491.1 400.9,491.4 401.9,491.5 402.9,491.6 403.9,491.5 404.9,491.4 405.9,491.7 406.9,491.8 407.9,491.7 408.9,491.9 409.9,492.0 410.9,491.8 411.9,492.1 412.9,492.1 413.9,492.1 414.9,491.8 415.9,492.0 416.9,492.2 417.9,492.3 418.9,492.4 419.9,492.4 420.9,492.2 421.9,492.6 422.9,492.5 423.9,492.7 424.9,492.5 425.9,492.8 426.9,492.7 427.9,492.9 428.9,492.9 429.9,493.0 430.9,492.9 431.9,492.8 432.9,493.0 433.9,492.9 434.9,493.1 435.9,493.3 436.9,493.2 437.9,493.1 438.9,493.2 439.9,493.4 440.9,493.5 441.9,493.3 442.9,493.6 443.9,493.5 444.9,493.5 445.9,493.9 446.9,493.8 447.9,494.0 448.9,493.9 449.9,493.8 450.9,493.9 451.9,494.0 452.9,494.2 453.9,494.3 454.9,494.3 455.9,494.3 456.9,494.2 457.9,494.3 458.9,494.4 459.9,494.5 460.9,494.4 461.9,494.6 462.9,494.6 463.9,494.5 464.9,494.9 465.9,494.8 466.9,495.0 467.9,495.0 468.9,495.0 469.9,495.2 470.9,495.0 471.9,495.1 472.9,495.0 473.9,495.3 474.9,495.3 475.9,495.4 476.9,495.6 477.9,495.3 478.9,495.4 479.9,495.6 480.9,495.7 481.9,495.6 482.9,495.5 483.9,495.7 484.9,495.9 485.9,495.9 486.8,495.9 487.8,495.9 488.8,496.1 489.8,496.1 490.8,496.2 491.8,496.3 492.8,496.3 493.8,496.3 494.8,496.3 495.8,496.5 496.8,496.6 497.8,496.7 498.8,496.4 499.8,496.8 500.8,496.8 501.8,496.6 502.8,496.7 503.8,496.9 504.8,496.8 505.8,497.1 506.8,496.9 507.8,497.1 508.8,497.0 509.8,497.0 510.8,497.1 511.8,497.3 512.8,497.4 513.8,497.3 514.8,497.5 515.8,497.4 516.8,497.6 517.8,497.5 518.8,497.5 519.8,497.6 520.8,497.6 521.8,497.9 522.8,497.8 523.8,497.8 524.8,498.1 525.8,498.1 526.8,497.9 527.8,498.2 528.8,498.2 529.8,498.2 530.8,498.3 531.8,498.5 532.8,498.3" fill="none" stroke="#8a8a2a" stroke-width="1.98" stroke-linejoin="round" stroke-linecap="round" />
<path d="M48.5,430.8 49.5,430.7 50.5,430.6 51.5,430.5 52.5,430.5 53.5,430.4 54.5,430.3 55.5,430.3 56.5,430.2 57.5,430.1 58.5,430.0 59.5,429.8 60.4,429.7 61.4,429.5 62.4,429.4 63.4,429.1 64.4,428.9 65.3,428.6 66.3,428.3 67.2,427.9 68.1,427.4 68.9,426.9 69.8,426.4 70.6,425.8 71.4,425.1 72.1,424.5 72.8,423.8 73.5,423.1 74.2,422.3 74.8,421.5 75.4,420.8 76.1,420.0 76.7,419.2 77.3,418.4 77.9,417.6 78.4,416.8 79.0,415.9 79.6,415.1 80.2,414.3 80.8,413.5 81.3,412.7 81.9,411.9 82.5,411.1 83.1,410.3 83.7,409.4 84.2,408.6 84.8,407.8 85.3,406.9 85.8,406.0 86.3,405.2 86.8,404.3 87.3,403.4 87.8,402.6 88.3,401.7 88.8,400.8 89.3,400.0 89.8,399.1 90.4,398.3 91.0,397.6 91.8,396.9 92.6,396.3 93.6,396.1 94.6,396.2 95.4,396.7 96.2,397.4 96.8,398.2 97.3,399.0 97.8,399.9 98.3,400.8 98.7,401.7 99.1,402.6 99.5,403.5 99.9,404.4 100.3,405.3 100.7,406.3 101.1,407.2 101.5,408.1 102.0,409.0 102.3,409.9 102.7,410.8 103.1,411.8 103.5,412.7 103.8,413.6 104.1,414.6 104.5,415.5 104.8,416.5 105.1,417.4 105.5,418.4 105.8,419.3 106.1,420.3 106.4,421.2 106.8,422.1 107.1,423.1 107.4,424.0 107.8,425.0 108.2,425.9 108.5,426.8 108.9,427.7 109.3,428.7 109.7,429.6 110.2,430.5 110.6,431.4 111.0,432.3 111.5,433.2 111.9,434.1 112.3,435.0 112.8,435.9 113.2,436.8 113.7,437.6 114.2,438.5 114.7,439.4 115.2,440.3 115.7,441.1 116.3,441.9 116.8,442.8 117.4,443.6 118.0,444.4 118.7,445.1 119.3,445.9 120.0,446.7 120.7,447.4 121.4,448.1 122.1,448.8 122.8,449.5 123.6,450.1 124.3,450.8 125.1,451.5 125.8,452.1 126.6,452.7 127.4,453.3 128.2,453.9 129.0,454.5 129.8,455.1 130.6,455.7 131.5,456.3 132.3,456.8 133.1,457.4 134.0,457.9 134.8,458.5 135.6,459.0 136.5,459.5 137.4,460.0 138.2,460.5 139.1,461.0 140.0,461.5 140.8,462.0 141.7,462.5 142.6,462.9 143.5,463.4 144.4,463.8 145.3,464.3 146.2,464.7 147.1,465.2 148.0,465.6 148.9,466.0 149.8,466.4 150.7,466.9 151.6,467.3 152.5,467.6 153.5,468.0 154.4,468.4 155.3,468.7 156.3,469.1 157.2,469.4 158.2,469.8 159.1,470.1 160.1,470.4 161.0,470.7 162.0,470.9 162.9,471.2 163.9,471.5 164.9,471.7 165.9,472.0 166.8,472.2 167.8,472.4 168.8,472.6 169.8,472.8 170.7,473.0 171.7,473.2 172.7,473.4 173.7,473.5 174.7,473.7 175.7,473.8 176.7,474.0 177.7,474.1 178.6,474.2 179.6,474.4 180.6,474.5 181.6,474.6 182.6,474.7 183.6,474.8 184.6,474.9 185.6,475.0 186.6,475.1 187.6,475.2 188.6,475.3 189.6,475.3 190.6,475.4 191.6,475.5 192.6,475.6 193.6,475.7 194.6,475.7 195.6,475.8 196.6,475.9 197.6,476.0 198.6,476.1 199.6,476.1 200.6,476.2 201.6,476.3 202.6,476.4 203.6,476.4 204.6,476.5 205.5,476.6 206.5,476.7 207.5,476.8 208.5,476.8 209.5,476.9 210.5,477.0 211.5,477.1 212.5,477.2 213.5,477.3 214.5,477.4 215.5,477.5 216.5,477.6 217.5,477.7 218.5,477.8 219.5,477.9 220.5,478.0 221.5,478.1 222.5,478.2 223.5,478.3 224.5,478.4 225.5,478.5 226.5,478.6 227.4,478.7 228.4,478.8 229.4,478.9 230.4,479.0 231.4,479.1 232.4,479.2 233.4,479.3 234.4,479.4 235.4,479.5 236.4,479.6 237.4,479.7 238.4,479.8 239.4,479.9 240.4,480.0 241.4,480.1 242.4,480.2 243.4,480.3 244.4,480.4 245.4,480.5 246.4,480.6 247.4,480.7 248.3,480.8 249.3,480.9 250.3,481.0 251.3,481.1 252.3,481.2 253.3,481.3 254.3,481.4 255.3,481.6 256.3,481.7 257.3,481.8 258.3,481.9 259.3,482.0 260.3,482.1 261.3,482.2 262.3,482.3 263.3,482.4 264.3,482.5 265.3,482.6 266.2,482.7 267.2,482.9 268.2,483.0 269.2,483.1 270.2,483.2 271.2,483.3 272.2,483.4 273.2,483.5 274.2,483.6 275.2,483.7 276.2,483.8 277.2,483.9 278.2,484.0 279.2,484.1 280.2,484.2 281.2,484.3 282.2,484.4 283.2,484.5 284.2,484.6 285.1,484.7 286.1,484.8 287.1,484.9 288.1,485.0 289.1,485.1 290.1,485.2 291.1,485.3 292.1,485.4 293.1,485.5 294.1,485.5 295.1,485.6 296.1,485.7 297.1,485.8 298.1,485.9 299.1,485.9 300.1,486.0 301.1,486.1 302.1,486.1 303.1,486.2 304.1,486.3 305.1,486.3 306.1,486.4 307.1,486.4 308.1,486.5 309.1,486.5 310.1,486.5 311.1,486.6 312.1,486.6 313.1,486.6 314.1,486.6 315.1,486.6 316.1,486.7 317.1,486.7 318.1,486.7 319.1,486.7 320.1,486.7 321.1,486.8 322.1,486.8 323.1,486.8 324.1,486.8 325.1,486.9 326.1,486.9 327.1,486.9 328.1,487.0 329.1,487.0 330.1,487.1 331.1,487.1 332.1,487.1 333.1,487.2 334.1,487.2 335.1,487.3 336.1,487.3 337.1,487.4 338.1,487.4 339.1,487.4 340.1,487.5 341.1,487.5 342.1,487.6 343.1,487.6 344.1,487.7 345.1,487.7 346.1,487.8 347.1,487.8 348.1,487.9 349.1,488.0 350.1,488.0 351.1,488.1 352.1,488.1 353.1,488.2 354.1,488.2 355.1,488.3 356.1,488.3 357.1,488.4 358.0,488.4 359.0,488.5 360.0,488.5 361.0,488.6 362.0,488.7 363.0,488.7 364.0,488.8 365.0,488.8 366.0,488.9 367.0,488.9 368.0,489.0 369.0,489.0 370.0,489.1 371.0,489.2 372.0,489.2 373.0,489.3 374.0,489.3 375.0,489.4 376.0,489.4 377.0,489.5 378.0,489.5 379.0,489.6 380.0,489.7 381.0,489.7 382.0,489.8 383.0,489.8 384.0,489.9 385.0,489.9 386.0,490.0 387.0,490.0 388.0,490.1 389.0,490.2 390.0,490.2 391.0,490.3 392.0,490.3 393.0,490.4 394.0,490.4 395.0,490.5 396.0,490.6 397.0,490.6 398.0,490.7 399.0,490.7 400.0,490.8 401.0,490.8 402.0,490.9 403.0,491.0 404.0,491.0 405.0,491.1 406.0,491.1 407.0,491.2 408.0,491.2 409.0,491.3 410.0,491.3 411.0,491.4 412.0,491.5 413.0,491.5 414.0,491.6 415.0,491.6 416.0,491.7 417.0,491.7 418.0,491.8 419.0,491.9 420.0,491.9 421.0,492.0 422.0,492.0 423.0,492.1 424.0,492.1 425.0,492.2 426.0,492.3 427.0,492.3 428.0,492.4 429.0,492.4 429.9,492.5 430.9,492.5 431.9,492.6 432.9,492.7 433.9,492.7 434.9,492.8 435.9,492.8 436.9,492.9 437.9,492.9 438.9,493.0 439.9,493.1 440.9,493.1 441.9,493.2 442.9,493.2 443.9,493.3 444.9,493.3 445.9,493.4 446.9,493.5 447.9,493.5 448.9,493.6 449.9,493.6 450.9,493.7 451.9,493.7 452.9,493.8 453.9,493.9 454.9,493.9 455.9,494.0 456.9,494.0 457.9,494.1 458.9,494.2 459.9,494.2 460.9,494.3 461.9,494.3 462.9,494.4 463.9,494.4 464.9,494.5 465.9,494.6 466.9,494.6 467.9,494.7 468.9,494.7 469.9,494.8 470.9,494.8 471.9,494.9 472.9,495.0 473.9,495.0 474.9,495.1 475.9,495.1 476.9,495.2 477.9,495.2 478.9,495.3 479.9,495.4 480.9,495.4 481.9,495.5 482.9,495.5 483.9,495.6 484.9,495.6 485.9,495.7 486.9,495.8 487.9,495.8 488.9,495.9 489.9,495.9 490.9,496.0 491.9,496.0 492.9,496.1 493.9,496.2 494.9,496.2 495.9,496.3 496.9,496.3 497.9,496.4 498.8,496.5 499.8,496.5 500.8,496.6 501.8,496.6 502.8,496.7 503.8,496.7 504.8,496.8 505.8,496.9 506.8,496.9 507.8,497.0 508.8,497.0 509.8,497.1 510.8,497.1 511.8,497.2 512.8,497.3 513.8,497.3 514.8,497.4 515.8,497.4 516.8,497.5 517.8,497.5 518.8,497.6 519.8,497.7 520.8,497.7 521.8,497.8 522.8,497.8 523.8,497.9 524.8,497.9 525.8,498.0 526.8,498.1 527.8,498.1 528.8,498.2 529.8,498.2 530.8,498.3 531.8,498.3 532.8,498.4" fill="none" stroke="#7a7a7a" stroke-width="1.87" stroke-linejoin="round" stroke-linecap="round" />
<path d="M48.5,433.4 49.3,432.5 50.2,431.9 51.0,431.8 51.9,430.9 52.7,430.4 53.6,430.0 54.4,429.4 55.3,429.1 56.1,428.2 56.9,428.0 57.7,427.2 58.6,426.7 59.4,426.3 60.2,425.6 61.0,425.1 61.8,424.3 62.5,423.4 63.3,423.1 64.0,422.3 64.8,421.6 65.5,420.8 66.2,420.4 66.9,419.5 67.6,419.0 68.3,418.2 68.9,417.5 69.6,416.6 70.3,415.9 70.9,415.1 71.6,414.2 72.2,413.7 72.8,412.7 73.5,412.1 74.1,411.4 74.7,410.5 75.3,408.9 76.0,409.5 76.6,408.4 77.2,406.6 77.7,405.5 78.3,405.7 78.9,403.8 79.4,404.8 80.0,403.1 80.5,402.3 81.0,401.2 81.4,400.8 81.9,400.4 82.4,398.3 82.8,397.6 83.3,397.1 83.8,395.7 84.2,395.4 84.8,394.4 85.3,393.3 85.9,393.0 86.6,392.0 87.3,390.5 88.2,391.7 89.1,390.1 90.1,390.1 91.1,390.2 92.0,391.6 92.9,392.2 93.6,391.9 94.3,392.4 95.0,392.6 95.6,395.0 96.1,394.4 96.6,396.0 97.1,396.5 97.6,397.3 98.0,398.3 98.4,398.9 98.8,399.5 99.2,401.4 99.6,402.8 100.0,403.5 100.4,404.0 100.7,405.1 101.1,405.8 101.4,406.9 101.8,408.0 102.1,408.9 102.5,409.7 102.8,410.8 103.2,411.6 103.5,412.5 103.9,413.5 104.2,414.6 104.6,415.4 104.9,416.3 105.3,417.3 105.7,418.2 106.0,419.0 106.4,420.1 106.8,421.0 107.2,421.9 107.5,422.9 107.9,423.5 108.3,424.6 108.7,425.6 109.0,426.4 109.4,427.3 109.8,428.4 110.1,429.2 110.5,430.1 110.9,430.9 111.3,432.2 111.7,432.9 112.1,433.7 112.6,434.6 113.0,435.6 113.4,436.7 113.9,437.3 114.4,438.2 114.9,439.0 115.4,440.0 116.0,440.8 116.5,441.6 117.1,442.6 117.6,443.5 118.2,444.3 118.8,444.8 119.4,445.7 120.0,446.7 120.6,447.2 121.3,448.0 121.9,448.9 122.5,449.6 123.2,450.5 123.9,451.3 124.5,451.9 125.2,452.6 125.9,453.3 126.6,454.0 127.3,454.6 128.1,455.5 128.8,456.0 129.6,456.9 130.3,457.5 131.1,457.9 131.9,458.6 132.7,459.3 133.5,459.6 134.4,460.3 135.2,460.7 136.1,461.5 137.0,461.7 137.8,462.4 138.7,463.0 139.6,463.4 140.5,463.6 141.4,464.2 142.3,464.4 143.2,464.9 144.2,465.5 145.1,465.9 146.0,466.0 146.9,466.5 147.8,467.0 148.7,467.3 149.7,467.9 150.6,468.3 151.5,468.6 152.4,469.0 153.3,469.6 154.2,469.9 155.1,470.2 155.9,470.8 156.8,471.2 157.6,472.0 158.5,472.5 159.3,473.1 160.2,473.7 161.0,474.2 161.9,474.4 162.8,474.9 163.7,475.5 164.6,475.9 165.6,476.0 166.5,476.4 167.5,476.5 168.5,476.8 169.4,477.0 170.4,477.3 171.4,477.5 172.4,477.8 173.4,478.1 174.4,478.0 175.3,478.3 176.3,478.6 177.3,478.6 178.3,478.7 179.3,478.9 180.3,478.8 181.3,479.3 182.3,479.3 183.3,479.5 184.3,479.6 185.3,479.4 186.2,479.5 187.2,479.7 188.2,479.9 189.2,480.2 190.2,480.3 191.2,480.2 192.2,480.4 193.2,480.6 194.2,480.5 195.2,480.9 196.2,481.0 197.2,481.0 198.2,481.1 199.2,481.2 200.2,481.2 201.2,481.2 202.2,481.3 203.2,481.3 204.2,481.4 205.2,481.8 206.2,481.6 207.1,481.6 208.1,481.8 209.1,481.8 210.1,482.1 211.1,482.1 212.1,482.1 213.1,482.3 214.1,482.4 215.1,482.5 216.1,482.7 217.1,482.6 218.1,482.8 219.1,483.0 220.1,483.1 221.1,482.9 222.1,482.9 223.1,483.3 224.1,483.2 225.1,483.1 226.1,483.2 227.1,483.3 228.1,483.3 229.1,483.3 230.1,483.3 231.1,483.8 232.1,483.8 233.1,483.5 234.1,483.7 235.1,483.9 236.1,483.8 237.1,483.7 238.1,483.8 239.1,483.9 240.1,484.2 241.1,484.1 242.1,484.1 243.1,484.2 244.1,484.0 245.1,484.3 246.1,484.4 247.1,484.4 248.1,484.3 249.1,484.4 250.1,484.3 251.1,484.4 252.1,484.5 253.1,484.7 254.1,484.8 255.1,484.7 256.1,484.8 257.1,484.9 258.1,485.0 259.1,484.8 260.1,485.2 261.1,485.2 262.1,485.1 263.1,485.1 264.1,485.4 265.1,485.5 266.1,485.3 267.1,485.4 268.0,485.5 269.0,485.4 270.0,485.6 271.0,485.8 272.0,485.7 273.0,485.9 274.0,485.7 275.0,486.0 276.0,486.1 277.0,485.9 278.0,486.1 279.0,486.2 280.0,486.2 281.0,486.3 282.0,486.2 283.0,486.4 284.0,486.3 285.0,486.6 286.0,486.4 287.0,486.7 288.0,486.6 289.0,486.6 290.0,486.7 291.0,486.6 292.0,486.9 293.0,486.7 294.0,487.0 295.0,486.9 296.0,487.2 297.0,487.0 298.0,487.3 299.0,487.3 300.0,487.2 301.0,487.2 302.0,487.4 303.0,487.5 304.0,487.5 305.0,487.4 306.0,487.7 307.0,487.9 308.0,487.7 309.0,488.1 310.0,488.0 311.0,487.9 312.0,488.0 313.0,488.2 314.0,488.3 315.0,488.3 316.0,488.3 317.0,488.5 318.0,488.5 319.0,488.7 320.0,488.7 321.0,488.9 322.0,488.9 323.0,488.8 324.0,488.9 325.0,489.2 325.9,489.0 326.9,489.0 327.9,489.1 328.9,489.4 329.9,489.4 330.9,489.6 331.9,489.5 332.9,489.5 333.9,489.6 334.9,489.7 335.9,489.6 336.9,489.9 337.9,489.8 338.9,489.7 339.9,489.8 340.9,490.0 341.9,489.9 342.9,490.2 343.9,490.3 344.9,490.2 345.9,490.4 346.9,490.3 347.9,490.3 348.9,490.2 349.9,490.6 350.9,490.6 351.9,490.5 352.9,490.5 353.9,490.4 354.9,490.7 355.9,490.8 356.9,490.7 357.9,490.7 358.9,490.9 359.9,491.0 360.9,490.8 361.9,490.9 362.9,491.1 363.9,490.9 364.9,491.2 365.9,491.1 366.9,491.3 367.9,491.2 368.9,491.1 369.9,491.1 370.9,491.2 371.9,491.3 372.9,491.6 373.9,491.6 374.9,491.6 375.9,491.5 376.9,491.7 377.9,491.8 378.9,491.7 379.9,491.6 380.9,491.8 381.9,491.7 382.9,491.8 383.9,491.9 384.9,491.8 385.9,492.2 386.9,492.0 387.9,492.3 388.9,492.3 389.9,492.0 390.9,492.4 391.9,492.4 392.9,492.4 393.9,492.5 394.9,492.4 395.9,492.3 396.9,492.4 397.9,492.5 398.9,492.7 399.9,492.8 400.9,492.5 401.9,492.7 402.9,492.6 403.9,492.7 404.9,492.8 405.9,492.9 406.9,492.8 407.9,493.1 408.9,492.9 409.9,493.2 410.9,493.1 411.9,493.1 412.9,493.3 413.9,493.2 414.9,493.2 415.9,493.2 416.9,493.3 417.9,493.3 418.9,493.6 419.9,493.5 420.9,493.7 421.9,493.5 422.9,493.5 423.9,493.6 424.9,493.7 425.9,493.9 426.9,493.7 427.9,493.8 428.9,493.8 429.9,493.9 430.9,494.2 431.9,494.2 432.9,494.0 433.9,494.0 434.9,494.2 435.9,494.3 436.9,494.1 437.9,494.3 438.9,494.5 439.9,494.2 440.9,494.5 441.9,494.6 442.9,494.6 443.9,494.6 444.9,494.6 445.9,494.7 446.9,494.5 447.9,494.7 448.9,494.7 449.9,494.8 450.9,494.7 451.9,494.8 452.9,494.8 453.9,495.0 454.9,494.9 455.8,495.1 456.8,495.1 457.8,495.1 458.8,495.1 459.8,495.3 460.8,495.4 461.8,495.4 462.8,495.4 463.8,495.5 464.8,495.3 465.8,495.4 466.8,495.7 467.8,495.6 468.8,495.5 469.8,495.7 470.8,495.9 471.8,495.6 472.8,495.7 473.8,495.9 474.8,496.1 475.8,495.9 476.8,495.9 477.8,496.1 478.8,495.9 479.8,496.0 480.8,496.2 481.8,496.3 482.8,496.4 483.8,496.2 484.8,496.2 485.8,496.3 486.8,496.3 487.8,496.4 488.8,496.6 489.8,496.7 490.8,496.5 491.8,496.5 492.8,496.8 493.8,496.9 494.8,496.9 495.8,496.8 496.8,496.9 497.8,497.0 498.8,497.0 499.8,497.0 500.8,497.2 501.8,497.2 502.8,497.0 503.8,497.1 504.8,497.0 505.8,497.2 506.8,497.4 507.8,497.3 508.8,497.4 509.8,497.5 510.8,497.3 511.8,497.4 512.8,497.5 513.8,497.6 514.8,497.7 515.8,497.8 516.8,497.8 517.8,497.8 518.8,497.9 519.8,497.9 520.8,498.1 521.8,498.0 522.8,498.0 523.8,498.0 524.8,498.0 525.8,498.2 526.8,498.1 527.8,498.3 528.8,498.3 529.8,498.5 530.8,498.4 531.8,498.4 532.8,498.3" fill="none" stroke="#3cf5ff" stroke-width="1.98" stroke-linejoin="round" stroke-linecap="round" />
<path d="M48.5,426.6 49.5,426.6 50.5,426.6 51.5,425.6 52.5,426.2 53.5,426.0 54.5,426.1 55.5,425.6 56.5,425.6 57.5,425.9 58.5,425.5 59.5,425.7 60.5,425.0 61.5,424.9 62.5,425.5 63.4,424.9 64.4,424.7 65.3,424.6 66.2,423.7 67.1,423.0 68.0,423.4 68.9,422.7 69.8,422.3 70.7,421.7 71.5,421.6 72.4,420.4 73.2,420.3 74.1,419.3 74.9,419.1 75.8,418.6 76.6,417.7 77.5,416.9 78.3,416.8 79.2,416.6 80.0,415.9 80.9,415.2 81.7,414.9 82.6,413.8 83.4,413.3 84.2,412.9 85.1,412.9 85.9,411.6 86.7,411.0 87.6,410.4 88.4,409.8 89.3,409.5 90.1,409.4 91.0,409.2 91.9,408.1 92.8,407.8 93.8,407.4 94.8,407.3 95.7,407.8 96.7,407.8 97.7,407.8 98.5,408.2 99.3,409.6 100.0,410.2 100.6,411.1 101.3,411.2 102.0,412.3 102.6,413.5 103.2,413.9 103.8,415.1 104.4,415.0 105.0,416.8 105.6,416.9 106.1,417.8 106.7,418.5 107.2,419.6 107.8,420.4 108.3,421.4 108.9,422.1 109.5,423.0 110.0,423.7 110.6,424.7 111.1,425.5 111.7,426.1 112.2,427.2 112.7,427.9 113.2,428.6 113.7,429.5 114.2,430.5 114.8,431.2 115.3,432.4 115.9,433.2 116.4,433.7 117.0,434.5 117.7,435.4 118.3,436.1 119.0,436.9 119.7,437.8 120.4,438.2 121.1,439.0 121.9,439.8 122.7,440.3 123.5,440.8 124.3,441.6 125.1,442.2 125.9,442.8 126.8,443.2 127.6,443.7 128.5,444.3 129.3,444.9 130.2,445.3 131.1,445.6 131.9,446.1 132.8,446.7 133.7,447.3 134.6,447.7 135.5,448.2 136.3,448.7 137.2,448.9 138.1,449.6 139.0,449.9 139.9,450.5 140.8,451.1 141.6,451.3 142.5,452.1 143.4,452.2 144.3,452.9 145.1,453.4 146.0,453.7 146.9,454.4 147.7,454.8 148.6,455.3 149.5,455.9 150.3,456.2 151.2,456.8 152.1,457.5 153.0,457.7 153.8,458.5 154.7,458.7 155.6,459.4 156.5,459.6 157.4,460.2 158.2,460.7 159.1,461.0 160.0,461.6 161.0,462.0 161.9,462.5 162.8,462.8 163.7,463.2 164.6,463.6 165.6,463.8 166.5,464.4 167.4,464.5 168.4,465.1 169.3,465.4 170.3,465.6 171.2,466.0 172.2,466.2 173.2,466.5 174.1,466.6 175.1,466.9 176.1,467.1 177.0,467.4 178.0,467.9 179.0,467.9 180.0,468.1 180.9,468.4 181.9,468.7 182.9,468.8 183.9,469.1 184.8,469.2 185.8,469.4 186.8,469.5 187.8,469.8 188.8,470.0 189.7,470.4 190.7,470.5 191.7,470.5 192.7,470.8 193.7,470.9 194.7,471.2 195.6,471.4 196.6,471.7 197.6,471.6 198.6,472.1 199.6,472.0 200.6,472.5 201.6,472.5 202.5,472.4 203.5,472.9 204.5,472.8 205.5,473.0 206.5,473.1 207.5,473.6 208.5,473.4 209.5,473.8 210.4,473.9 211.4,474.1 212.4,474.1 213.4,474.2 214.4,474.7 215.4,474.7 216.4,474.7 217.4,475.1 218.4,475.3 219.4,475.1 220.4,475.2 221.3,475.5 222.3,475.5 223.3,475.8 224.3,475.8 225.3,476.0 226.3,476.1 227.3,476.3 228.3,476.4 229.3,476.4 230.3,476.5 231.3,476.5 232.3,476.5 233.3,476.5 234.3,476.9 235.3,476.7 236.3,476.9 237.3,476.9 238.3,477.1 239.3,477.2 240.3,477.4 241.3,477.3 242.3,477.3 243.3,477.5 244.3,477.6 245.3,477.8 246.3,477.6 247.3,477.9 248.3,478.1 249.3,478.1 250.3,477.9 251.3,478.1 252.3,478.3 253.3,478.4 254.3,478.1 255.3,478.4 256.2,478.6 257.2,478.7 258.2,478.6 259.2,478.6 260.2,478.7 261.2,478.7 262.2,478.8 263.2,478.9 264.2,479.2 265.2,479.1 266.2,479.1 267.2,479.1 268.2,479.2 269.2,479.4 270.2,479.4 271.2,479.4 272.2,479.7 273.2,479.7 274.2,479.9 275.2,479.8 276.2,479.9 277.2,479.9 278.2,480.0 279.2,480.2 280.2,480.3 281.2,480.2 282.2,480.2 283.2,480.1 284.2,480.5 285.2,480.4 286.2,480.4 287.2,480.4 288.2,480.4 289.2,480.7 290.2,481.0 291.2,480.9 292.2,481.0 293.2,481.1 294.2,481.0 295.2,481.0 296.2,481.2 297.2,481.1 298.2,481.4 299.2,481.4 300.2,481.5 301.2,481.4 302.2,481.5 303.2,481.8 304.2,481.7 305.2,482.0 306.2,481.9 307.2,482.2 308.2,482.3 309.2,482.3 310.2,482.4 311.2,482.3 312.2,482.5 313.2,482.8 314.1,482.6 315.1,482.7 316.1,482.9 317.1,483.0 318.1,483.2 319.1,483.1 320.1,483.5 321.1,483.2 322.1,483.6 323.1,483.6 324.1,483.9 325.1,483.6 326.1,484.0 327.1,484.2 328.1,484.1 329.1,484.0 330.1,484.4 331.1,484.5 332.1,484.3 333.1,484.7 334.1,484.5 335.1,484.6 336.1,484.9 337.1,485.0 338.1,485.2 339.1,485.1 340.1,485.2 341.1,485.2 342.1,485.4 343.1,485.6 344.1,485.6 345.0,485.7 346.0,485.6 347.0,485.9 348.0,485.9 349.0,485.8 350.0,486.1 351.0,486.0 352.0,486.0 353.0,486.1 354.0,486.4 355.0,486.3 356.0,486.7 357.0,486.3 358.0,486.7 359.0,486.8 360.0,486.8 361.0,486.9 362.0,487.0 363.0,487.1 364.0,486.9 365.0,487.3 366.0,487.2 367.0,487.3 368.0,487.4 369.0,487.6 370.0,487.5 371.0,487.7 372.0,487.5 373.0,487.7 374.0,487.9 375.0,487.9 376.0,488.1 377.0,487.9 378.0,488.2 379.0,488.3 380.0,488.1 381.0,488.2 382.0,488.4 383.0,488.6 384.0,488.6 385.0,488.6 386.0,488.7 387.0,488.9 388.0,488.8 389.0,488.9 390.0,489.0 391.0,489.2 392.0,489.2 393.0,489.3 394.0,489.1 395.0,489.3 396.0,489.5 397.0,489.5 398.0,489.7 399.0,489.7 400.0,489.5 401.0,489.7 402.0,489.7 403.0,489.7 403.9,489.9 404.9,490.2 405.9,490.2 406.9,490.0 407.9,490.1 408.9,490.2 409.9,490.5 410.9,490.4 411.9,490.3 412.9,490.5 413.9,490.5 414.9,490.5 415.9,490.8 416.9,491.0 417.9,491.0 418.9,491.0 419.9,490.9 420.9,491.1 421.9,491.2 422.9,491.3 423.9,491.2 424.9,491.2 425.9,491.6 426.9,491.4 427.9,491.6 428.9,491.6 429.9,491.8 430.9,491.7 431.9,491.6 432.9,491.8 433.9,491.9 434.9,492.1 435.9,492.0 436.9,492.2 437.9,492.1 438.9,492.4 439.9,492.2 440.9,492.5 441.9,492.6 442.9,492.3 443.9,492.7 444.9,492.8 445.9,492.8 446.9,492.6 447.9,493.0 448.9,493.0 449.9,493.0 450.9,493.2 451.9,493.3 452.9,493.2 453.9,493.4 454.9,493.2 455.9,493.3 456.9,493.5 457.9,493.5 458.9,493.8 459.9,493.7 460.9,493.8 461.9,493.8 462.9,494.0 463.9,493.9 464.9,494.1 465.9,494.1 466.9,494.1 467.9,494.1 468.9,494.1 469.9,494.1 470.9,494.3 471.9,494.4 472.9,494.3 473.9,494.6 474.9,494.6 475.9,494.9 476.9,494.9 477.9,494.9 478.9,495.0 479.9,494.9 480.9,494.9 481.9,495.1 482.9,495.0 483.9,495.4 484.9,495.2 485.9,495.5 486.9,495.3 487.8,495.3 488.8,495.6 489.8,495.7 490.8,495.6 491.8,495.9 492.8,496.0 493.8,495.9 494.8,496.1 495.8,496.2 496.8,495.9 497.8,496.2 498.8,496.3 499.8,496.3 500.8,496.3 501.8,496.4 502.8,496.5 503.8,496.7 504.8,496.4 505.8,496.6 506.8,496.6 507.8,496.9 508.8,496.7 509.8,496.7 510.8,496.8 511.8,496.9 512.8,497.1 513.8,497.3 514.8,497.2 515.8,497.1 516.8,497.4 517.8,497.4 518.8,497.5 519.8,497.7 520.8,497.6 521.8,497.8 522.8,497.8 523.8,498.0 524.8,498.0 525.8,498.1 526.8,498.1 527.8,498.0 528.8,498.1 529.8,498.3 530.8,498.4 531.8,498.4 532.8,498.5" fill="none" stroke="#ff2a2a" stroke-width="1.98" stroke-linejoin="round" stroke-linecap="round" />
<path d="M48.5,397.1 49.2,398.1 50.0,397.0 50.7,399.8 51.5,398.4 52.3,400.2 53.1,399.3 54.0,401.5 54.9,400.3 55.9,402.0 56.9,402.2 57.9,402.4 58.9,401.7 59.9,402.8 60.9,403.3 61.8,401.2 62.8,402.5 63.7,404.0 64.6,403.9 65.4,403.7 66.2,404.0 66.9,406.4 67.6,404.8 68.3,407.3 69.1,408.1 70.0,406.8 71.0,407.5 72.0,407.5 73.0,408.0 73.9,407.3 74.9,408.3 75.8,407.9 76.6,405.8 77.5,406.8 78.3,404.1 79.1,403.6 79.9,404.4 80.7,404.1 81.4,403.5 82.1,403.3 82.8,402.2 83.5,399.9 84.2,400.4 84.9,400.1 85.5,397.2 86.1,397.5 86.8,395.8 87.4,395.0 88.1,395.1 88.7,394.9 89.3,394.9 90.0,391.9 90.6,392.1 91.2,392.6 91.9,391.2 92.6,389.9 93.4,388.6 94.3,389.3 95.3,388.3 96.3,389.6 97.2,390.1 98.0,390.0 98.7,391.8 99.4,391.5 100.0,392.4 100.6,394.2 101.1,393.5 101.6,394.2 102.1,396.1 102.5,396.7 102.9,398.7 103.3,398.0 103.7,399.3 104.0,399.4 104.4,401.4 104.7,401.9 105.0,403.4 105.4,404.4 105.7,405.1 106.0,406.4 106.4,407.2 106.7,408.2 107.0,409.1 107.4,410.0 107.7,410.9 108.1,411.8 108.5,412.7 108.9,413.6 109.3,414.5 109.8,415.4 110.3,416.5 110.8,417.4 111.3,418.2 111.8,418.7 112.4,419.7 112.9,420.6 113.5,421.5 114.1,422.2 114.7,423.1 115.3,424.0 116.0,424.5 116.6,425.3 117.3,426.2 117.9,426.8 118.6,427.7 119.3,428.3 120.0,428.9 120.6,429.8 121.3,430.4 122.0,431.4 122.7,432.1 123.4,432.7 124.1,433.5 124.9,434.0 125.6,434.7 126.4,435.2 127.2,435.8 128.0,436.7 128.8,437.0 129.7,437.8 130.5,438.2 131.4,438.8 132.3,439.0 133.2,439.8 134.1,440.1 135.0,440.3 135.9,440.7 136.9,441.1 137.8,441.6 138.7,441.8 139.7,442.4 140.6,442.6 141.5,443.0 142.5,443.2 143.4,443.7 144.4,444.0 145.3,444.4 146.2,444.6 147.2,445.2 148.1,445.5 149.1,445.9 150.0,446.1 150.9,446.4 151.8,446.8 152.7,447.2 153.6,447.9 154.5,448.1 155.4,448.8 156.3,449.1 157.1,449.7 158.0,450.1 158.8,450.7 159.6,451.5 160.4,452.0 161.2,452.7 162.1,453.0 162.9,453.6 163.7,454.1 164.6,454.7 165.4,455.5 166.3,455.8 167.2,456.2 168.1,456.6 169.0,457.2 170.0,457.5 170.9,457.6 171.8,457.9 172.8,458.3 173.8,458.8 174.7,459.1 175.7,459.1 176.7,459.4 177.6,459.7 178.6,460.0 179.6,460.3 180.6,460.3 181.5,460.6 182.5,460.8 183.5,461.3 184.5,461.3 185.4,461.7 186.4,461.6 187.4,461.9 188.4,462.1 189.4,462.5 190.4,462.4 191.3,462.6 192.3,463.0 193.3,463.2 194.3,463.3 195.3,463.4 196.3,463.5 197.2,463.8 198.2,464.2 199.2,464.2 200.2,464.4 201.2,464.6 202.1,464.7 203.1,464.8 204.1,465.2 205.1,465.6 206.1,465.7 207.1,465.7 208.1,466.0 209.0,466.2 210.0,466.3 211.0,466.4 212.0,466.5 213.0,466.9 214.0,467.0 215.0,467.0 215.9,467.2 216.9,467.3 217.9,467.8 218.9,468.0 219.9,468.0 220.9,468.2 221.9,468.4 222.9,468.3 223.9,468.6 224.8,468.7 225.8,469.1 226.8,468.9 227.8,469.4 228.8,469.2 229.8,469.6 230.8,469.8 231.8,469.7 232.8,470.0 233.8,469.9 234.7,470.2 235.7,470.4 236.7,470.7 237.7,470.6 238.7,470.9 239.7,471.0 240.7,471.1 241.7,471.0 242.7,471.1 243.7,471.4 244.7,471.3 245.7,471.7 246.7,471.6 247.7,471.9 248.7,472.1 249.6,472.3 250.6,472.2 251.6,472.3 252.6,472.5 253.6,472.9 254.6,472.8 255.6,473.0 256.6,473.1 257.6,473.1 258.6,473.5 259.6,473.5 260.6,473.7 261.5,474.0 262.5,474.1 263.5,474.1 264.5,474.4 265.5,474.5 266.5,474.7 267.5,474.6 268.5,474.9 269.5,475.2 270.5,475.3 271.4,475.4 272.4,475.5 273.4,475.7 274.4,475.9 275.4,476.1 276.4,476.2 277.4,476.4 278.4,476.4 279.4,476.4 280.4,476.6 281.4,477.0 282.3,477.1 283.3,477.2 284.3,477.1 285.3,477.3 286.3,477.6 287.3,477.6 288.3,477.7 289.3,478.1 290.3,478.0 291.3,478.4 292.3,478.4 293.3,478.6 294.3,478.7 295.3,478.6 296.2,478.7 297.2,479.1 298.2,479.1 299.2,479.2 300.2,479.4 301.2,479.5 302.2,479.6 303.2,479.7 304.2,479.7 305.2,480.0 306.2,479.8 307.2,480.2 308.2,480.3 309.2,480.1 310.2,480.2 311.2,480.6 312.2,480.5 313.2,480.7 314.2,480.7 315.2,480.7 316.2,480.9 317.2,480.9 318.2,481.3 319.2,481.3 320.2,481.4 321.2,481.2 322.2,481.4 323.1,481.4 324.1,481.8 325.1,481.9 326.1,482.0 327.1,482.0 328.1,482.0 329.1,482.0 330.1,482.0 331.1,482.0 332.1,482.3 333.1,482.6 334.1,482.6 335.1,482.5 336.1,482.6 337.1,482.9 338.1,482.7 339.1,483.0 340.1,483.0 341.1,483.0 342.1,483.1 343.1,483.1 344.1,483.1 345.1,483.3 346.1,483.7 347.1,483.7 348.1,483.4 349.1,483.8 350.1,483.7 351.1,483.9 352.1,484.2 353.1,484.2 354.1,484.3 355.1,484.5 356.1,484.4 357.1,484.3 358.1,484.4 359.1,484.7 360.1,484.7 361.1,485.0 362.1,484.8 363.1,485.1 364.1,485.1 365.1,485.2 366.1,485.1 367.1,485.3 368.1,485.4 369.1,485.6 370.0,485.7 371.0,485.8 372.0,485.9 373.0,485.8 374.0,485.9 375.0,486.3 376.0,486.2 377.0,486.3 378.0,486.5 379.0,486.6 380.0,486.6 381.0,486.8 382.0,486.7 383.0,487.0 384.0,486.9 385.0,487.0 386.0,487.0 387.0,487.0 388.0,487.4 389.0,487.5 390.0,487.4 391.0,487.7 392.0,487.5 393.0,487.7 394.0,488.0 395.0,487.9 396.0,487.8 397.0,488.1 398.0,488.0 399.0,488.3 400.0,488.4 401.0,488.5 402.0,488.6 403.0,488.4 404.0,488.8 405.0,488.9 406.0,489.0 407.0,488.8 408.0,488.9 409.0,489.2 410.0,489.3 411.0,489.3 412.0,489.2 412.9,489.4 413.9,489.4 414.9,489.6 415.9,489.9 416.9,489.8 417.9,489.7 418.9,490.1 419.9,490.1 420.9,490.0 421.9,489.9 422.9,490.3 423.9,490.2 424.9,490.2 425.9,490.6 426.9,490.5 427.9,490.5 428.9,490.6 429.9,490.9 430.9,490.7 431.9,490.9 432.9,490.8 433.9,490.8 434.9,490.9 435.9,491.0 436.9,491.2 437.9,491.3 438.9,491.4 439.9,491.5 440.9,491.6 441.9,491.4 442.9,491.6 443.9,491.5 444.9,491.6 445.9,491.7 446.9,491.8 447.9,492.1 448.9,491.9 449.9,491.9 450.9,492.1 451.9,492.1 452.9,492.4 453.9,492.1 454.9,492.2 455.9,492.2 456.9,492.4 457.9,492.6 458.9,492.4 459.9,492.7 460.9,492.9 461.9,492.7 462.9,492.9 463.9,493.0 464.9,493.2 465.9,493.2 466.9,493.2 467.9,493.1 468.9,493.2 469.9,493.1 470.9,493.2 471.9,493.5 472.9,493.4 473.9,493.4 474.9,493.6 475.9,493.6 476.9,493.8 477.9,494.0 478.9,493.9 479.9,493.8 480.9,493.9 481.9,494.1 482.9,494.4 483.9,494.5 484.9,494.4 485.9,494.4 486.9,494.4 487.9,494.7 488.9,494.5 489.9,494.7 490.9,494.9 491.9,495.0 492.9,494.9 493.9,495.3 494.9,495.2 495.9,495.3 496.9,495.2 497.9,495.5 498.9,495.3 499.9,495.6 500.9,495.5 501.9,495.9 502.9,495.9 503.9,495.9 504.9,495.9 505.9,496.2 506.9,496.0 507.9,496.1 508.9,496.1 509.8,496.5 510.8,496.3 511.8,496.4 512.8,496.8 513.8,496.7 514.8,496.8 515.8,497.1 516.8,497.0 517.8,497.2 518.8,497.4 519.8,497.1 520.8,497.3 521.8,497.3 522.8,497.4 523.8,497.7 524.8,497.9 525.8,497.9 526.8,498.0 527.8,497.8 528.8,498.2 529.8,498.1 530.8,498.3 531.8,498.2 532.8,498.6" fill="none" stroke="#ff3cff" stroke-width="1.98" stroke-linejoin="round" stroke-linecap="round" />
<path d="M48.5,423.7 49.5,423.9 50.5,423.9 51.5,423.6 52.5,423.9 53.5,423.8 54.5,423.5 55.5,423.7 56.5,423.2 57.4,423.0 58.4,422.7 59.3,422.4 60.2,421.7 61.1,421.5 62.0,421.0 62.8,420.4 63.7,420.0 64.5,419.3 65.3,418.8 66.1,418.0 66.9,417.4 67.7,416.8 68.4,416.0 69.1,415.7 69.9,414.9 70.6,413.9 71.2,413.4 71.9,412.5 72.5,411.7 73.1,410.9 73.7,410.2 74.2,409.2 74.8,408.5 75.3,407.6 75.8,406.6 76.3,406.0 76.7,404.8 77.2,404.0 77.6,403.3 78.0,402.2 78.5,401.4 78.9,400.5 79.3,399.5 79.7,398.6 80.1,397.7 80.4,396.8 80.8,395.7 81.2,395.1 81.6,393.9 81.9,392.9 82.3,392.1 82.6,391.3 82.9,390.3 83.3,389.3 83.6,388.3 83.9,387.3 84.2,386.5 84.4,385.4 84.7,384.3 84.9,383.4 85.1,381.8 85.3,381.9 85.5,381.2 85.6,380.0 85.8,378.1 85.9,376.9 86.0,377.4 86.1,375.4 86.3,374.0 86.4,373.7 86.5,372.8 86.6,371.7 86.8,370.5 87.0,369.3 87.2,368.7 87.4,367.6 87.7,367.1 88.0,365.7 88.2,364.5 88.5,364.7 88.9,362.2 89.2,362.4 89.5,360.9 89.9,360.6 90.3,359.5 90.7,358.4 91.1,357.5 91.7,356.0 92.3,354.9 93.2,355.6 94.1,354.7 95.0,354.9 95.7,356.9 96.3,357.3 96.8,357.2 97.2,358.9 97.6,359.2 98.0,361.4 98.3,361.3 98.7,363.4 99.0,363.8 99.3,363.8 99.5,365.3 99.8,367.3 100.0,367.5 100.2,368.3 100.4,369.4 100.6,370.3 100.7,371.2 100.9,372.4 101.0,373.5 101.2,374.3 101.3,375.4 101.5,376.5 101.6,377.5 101.8,378.2 101.9,379.2 102.1,380.5 102.3,381.2 102.5,382.1 102.6,383.4 102.9,384.2 103.1,385.3 103.3,386.3 103.5,387.1 103.8,388.1 104.0,389.0 104.3,390.2 104.5,391.0 104.8,391.9 105.0,393.1 105.3,393.9 105.5,394.9 105.8,395.9 106.1,396.7 106.3,397.7 106.6,398.9 106.9,400.0 107.1,400.7 107.4,401.7 107.7,402.5 108.0,403.6 108.2,404.5 108.5,405.5 108.8,406.4 109.1,407.4 109.4,408.6 109.7,409.5 109.9,410.3 110.2,411.1 110.5,412.1 110.8,413.1 111.1,414.0 111.4,415.2 111.6,416.1 111.9,416.9 112.2,418.2 112.5,419.1 112.8,420.0 113.1,421.1 113.4,421.8 113.7,423.0 114.0,423.9 114.4,424.9 114.7,425.5 115.1,426.7 115.4,427.7 115.8,428.3 116.2,429.5 116.6,430.4 117.1,431.0 117.5,432.1 117.9,433.1 118.4,434.0 118.8,434.6 119.3,435.8 119.8,436.4 120.2,437.3 120.7,438.5 121.2,439.2 121.7,439.9 122.2,440.8 122.8,441.8 123.3,442.5 123.9,443.6 124.5,444.3 125.1,444.9 125.8,445.7 126.4,446.3 127.1,447.4 127.9,447.8 128.6,448.7 129.5,449.1 130.3,449.6 131.2,450.0 132.1,450.5 133.0,450.7 134.0,451.2 134.9,451.6 135.9,452.0 136.8,452.0 137.8,452.3 138.7,452.9 139.7,452.9 140.6,453.3 141.6,453.8 142.5,454.1 143.4,454.8 144.3,454.8 145.2,455.6 146.1,455.9 147.0,456.2 147.9,456.7 148.8,457.4 149.7,457.6 150.6,458.2 151.4,458.5 152.3,459.1 153.2,459.7 154.1,460.1 155.0,460.4 155.9,460.9 156.8,461.5 157.7,462.0 158.6,462.2 159.5,462.5 160.4,463.2 161.3,463.4 162.3,463.8 163.2,464.0 164.1,464.4 165.1,464.8 166.0,465.3 167.0,465.5 167.9,466.0 168.9,466.0 169.9,466.5 170.8,466.5 171.8,466.9 172.8,467.4 173.7,467.3 174.7,467.6 175.7,467.7 176.7,468.2 177.6,468.3 178.6,468.4 179.6,468.7 180.6,468.8 181.6,469.2 182.6,469.2 183.6,469.2 184.5,469.5 185.5,469.6 186.5,470.0 187.5,469.9 188.5,470.2 189.5,470.4 190.5,470.4 191.5,470.7 192.5,470.9 193.4,471.1 194.4,471.3 195.4,471.4 196.4,471.4 197.4,471.5 198.4,471.6 199.4,471.7 200.4,472.0 201.4,472.3 202.4,472.2 203.4,472.5 204.4,472.4 205.4,472.5 206.4,472.7 207.3,473.0 208.3,472.9 209.3,473.2 210.3,473.1 211.3,473.4 212.3,473.4 213.3,473.8 214.3,473.5 215.3,473.7 216.3,474.1 217.3,474.0 218.3,474.0 219.3,474.3 220.3,474.3 221.3,474.5 222.3,474.5 223.3,474.4 224.3,474.4 225.3,474.8 226.3,474.9 227.3,474.7 228.3,475.1 229.3,475.0 230.3,475.0 231.3,475.1 232.3,475.1 233.3,474.9 234.3,475.1 235.3,475.2 236.3,475.4 237.3,475.2 238.3,475.5 239.3,475.5 240.3,475.4 241.3,475.6 242.3,475.7 243.3,475.8 244.3,475.7 245.3,476.1 246.3,476.1 247.3,475.9 248.3,476.3 249.3,476.3 250.3,476.5 251.3,476.3 252.3,476.6 253.2,476.7 254.2,476.7 255.2,476.8 256.2,477.0 257.2,477.3 258.2,477.3 259.2,477.4 260.2,477.5 261.2,477.7 262.2,477.7 263.2,477.9 264.2,477.8 265.2,478.2 266.2,478.4 267.2,478.4 268.2,478.5 269.2,478.8 270.2,478.7 271.1,479.0 272.1,479.0 273.1,479.1 274.1,479.4 275.1,479.5 276.1,479.5 277.1,479.6 278.1,479.7 279.1,479.8 280.1,479.9 281.1,480.0 282.1,480.1 283.1,480.2 284.1,480.6 285.1,480.5 286.1,480.9 287.0,480.8 288.0,481.1 289.0,481.1 290.0,481.1 291.0,481.2 292.0,481.3 293.0,481.4 294.0,481.5 295.0,481.6 296.0,481.8 297.0,481.7 298.0,482.2 299.0,482.2 300.0,482.1 301.0,482.4 302.0,482.2 303.0,482.5 304.0,482.6 305.0,482.8 306.0,482.9 307.0,482.8 308.0,483.0 309.0,483.0 310.0,482.8 311.0,482.9 312.0,483.0 313.0,483.3 314.0,483.3 315.0,483.3 316.0,483.4 317.0,483.7 318.0,483.5 319.0,483.7 320.0,483.6 321.0,483.8 322.0,483.9 323.0,483.7 324.0,484.1 325.0,483.8 326.0,483.9 327.0,484.2 328.0,484.0 329.0,484.1 330.0,484.4 331.0,484.2 332.0,484.4 333.0,484.5 334.0,484.3 335.0,484.3 336.0,484.8 337.0,484.7 338.0,484.7 339.0,484.8 340.0,484.8 341.0,485.0 342.0,484.7 343.0,484.9 344.0,484.9 345.0,485.1 346.0,485.3 347.0,485.1 348.0,485.1 349.0,485.2 350.0,485.5 351.0,485.5 352.0,485.4 353.0,485.7 354.0,485.6 355.0,485.5 356.0,485.7 357.0,486.0 358.0,486.1 359.0,485.9 360.0,486.2 361.0,486.3 362.0,486.0 363.0,486.1 364.0,486.2 365.0,486.3 366.0,486.5 367.0,486.7 368.0,486.5 369.0,486.5 370.0,486.7 371.0,486.9 372.0,486.7 373.0,486.9 374.0,487.0 375.0,487.1 376.0,487.0 377.0,487.1 378.0,487.3 379.0,487.2 380.0,487.3 381.0,487.5 382.0,487.7 383.0,487.8 384.0,487.5 385.0,487.7 386.0,487.8 387.0,487.8 388.0,487.8 389.0,487.9 389.9,488.0 390.9,488.0 391.9,488.1 392.9,488.4 393.9,488.3 394.9,488.2 395.9,488.3 396.9,488.4 397.9,488.7 398.9,488.4 399.9,488.5 400.9,488.9 401.9,488.8 402.9,488.7 403.9,489.0 404.9,488.8 405.9,489.2 406.9,489.3 407.9,489.0 408.9,489.3 409.9,489.5 410.9,489.3 411.9,489.4 412.9,489.7 413.9,489.4 414.9,489.5 415.9,489.8 416.9,489.9 417.9,489.9 418.9,490.0 419.9,490.0 420.9,490.2 421.9,490.1 422.9,490.2 423.9,490.1 424.9,490.2 425.9,490.4 426.9,490.3 427.9,490.6 428.9,490.5 429.9,490.8 430.9,490.6 431.9,490.8 432.9,490.8 433.9,490.8 434.9,491.1 435.9,491.1 436.9,491.1 437.9,491.2 438.9,491.2 439.9,491.4 440.9,491.2 441.9,491.2 442.9,491.5 443.9,491.4 444.9,491.8 445.9,491.8 446.9,491.6 447.9,491.7 448.9,492.0 449.9,491.8 450.9,492.0 451.9,491.9 452.9,492.3 453.9,492.2 454.9,492.3 455.9,492.2 456.9,492.5 457.9,492.6 458.9,492.3 459.9,492.4 460.9,492.6 461.9,492.7 462.9,492.6 463.9,492.9 464.9,492.7 465.9,493.0 466.9,493.2 467.9,493.0 468.9,493.1 469.9,493.4 470.9,493.5 471.9,493.5 472.9,493.3 473.9,493.5 474.9,493.6 475.9,493.7 476.9,493.9 477.9,494.0 478.9,494.0 479.9,493.8 480.9,493.9 481.9,494.1 482.9,494.4 483.9,494.1 484.9,494.6 485.9,494.3 486.9,494.3 487.9,494.6 488.9,494.5 489.9,494.7 490.9,495.0 491.9,495.1 492.9,495.1 493.9,495.2 494.9,495.1 495.9,495.2 496.9,495.3 497.9,495.4 498.9,495.6 499.9,495.5 500.9,495.7 501.9,495.7 502.9,495.7 503.9,495.8 504.9,496.0 505.9,496.0 506.9,496.1 507.9,496.4 508.8,496.3 509.8,496.4 510.8,496.5 511.8,496.8 512.8,496.9 513.8,496.9 514.8,496.7 515.8,496.9 516.8,497.2 517.8,497.0 518.8,497.3 519.8,497.4 520.8,497.4 521.8,497.6 522.8,497.5 523.8,497.8 524.8,497.6 525.8,497.9 526.8,498.0 527.8,498.0 528.8,498.0 529.8,498.0 530.8,498.2 531.8,498.5 532.8,498.4" fill="none" stroke="#2a2aff" stroke-width="2.09" stroke-linejoin="round" stroke-linecap="round" />
<path d="M48.5,387.0 52.0,380.0 52.0,380.0 52.4,379.1 52.9,378.2 53.3,377.3 53.8,376.4 54.2,375.5 54.7,374.6 55.1,373.7 55.5,372.8 55.9,371.8 56.3,370.9 56.6,370.0 57.0,369.0 57.3,368.1 57.7,367.2 58.0,366.2 58.3,365.3 58.7,364.3 59.0,363.4 59.3,362.4 59.6,361.5 59.9,360.5 60.2,359.5 60.4,358.6 60.6,357.6 60.9,356.6 61.0,355.6 61.2,354.6 61.4,353.6 61.5,352.6 61.7,351.6 61.8,350.7 61.9,349.7 62.1,348.7 62.2,347.7 62.3,346.7 62.4,345.7 62.5,344.7 62.5,343.7 62.6,342.7 62.7,341.7 62.8,340.7 62.9,339.7 62.9,338.7 63.0,337.7 63.1,336.7 63.1,335.7 63.2,334.7 63.2,333.6 63.3,332.6 63.4,331.6 63.4,330.6 63.5,329.6 63.5,328.6 63.6,327.6 63.7,326.6 63.7,325.6 63.8,324.6 63.8,323.6 63.9,322.6 63.9,321.6 64.0,320.6 64.0,319.6 64.1,318.6 64.2,317.6 64.2,316.6 64.2,315.6 64.3,314.6 64.3,313.6 64.4,312.6 64.4,311.6 64.5,310.6 64.5,309.6 64.6,308.6 64.6,307.6 64.7,306.6 64.7,305.6 64.7,304.6 64.8,303.6 64.8,302.6 64.9,301.6 64.9,300.6 65.0,299.6 65.0,298.6 65.0,297.6 65.1,296.6 65.1,295.6 65.2,294.5 65.2,293.5 65.2,292.5 65.3,291.5 65.3,290.5 65.4,289.5 65.4,288.5 65.4,287.5 65.5,286.5 65.5,285.5 65.6,284.5 65.6,283.5 65.6,282.5 65.7,281.5 65.7,280.5 65.8,279.5 65.8,278.5 L111.7,278.5 111.7,278.5 111.7,279.5 111.7,280.5 111.7,281.5 111.8,282.5 111.8,283.5 111.8,284.5 111.8,285.5 111.8,286.5 111.8,287.5 111.9,288.5 111.9,289.5 111.9,290.5 111.9,291.5 111.9,292.5 111.9,293.5 111.9,294.5 112.0,295.5 112.0,296.5 112.0,297.5 112.0,298.5 112.0,299.5 112.0,300.5 112.0,301.5 112.1,302.5 112.1,303.5 112.1,304.5 112.1,305.5 112.1,306.5 112.1,307.5 112.2,308.5 112.2,309.5 112.2,310.5 112.2,311.5 112.2,312.5 112.2,313.5 112.3,314.5 112.3,315.5 112.3,316.5 112.3,317.5 112.3,318.5 112.3,319.5 112.4,320.5 112.4,321.5 112.4,322.5 112.4,323.5 112.4,324.5 112.4,325.5 112.5,326.5 112.5,327.5 112.5,328.5 112.5,329.5 112.5,330.5 112.5,331.5 112.5,332.5 112.5,333.5 112.5,334.5 112.5,335.5 112.5,336.5 112.5,337.5 112.5,338.5 112.5,339.5 112.5,340.5 112.5,341.5 112.6,342.5 112.6,343.5 112.6,344.5 112.6,345.5 112.6,346.5 112.6,347.5 112.7,348.5 112.7,349.5 112.7,350.5 112.8,351.5 112.8,352.5 112.8,353.5 112.9,354.5 113.0,355.5 113.0,356.5 113.1,357.5 113.2,358.5 113.3,359.5 113.4,360.5 113.5,361.5 113.6,362.5 113.7,363.5 113.9,364.5 114.0,365.5 114.2,366.4 114.3,367.4 114.5,368.4 114.7,369.4 114.9,370.4 115.1,371.4 115.3,372.3 115.5,373.3 115.7,374.3 116.0,375.3 116.2,376.2 116.4,377.2 116.7,378.2 116.9,379.1 117.2,380.1 117.4,381.1 117.7,382.0 118.0,383.0 118.2,384.0 118.5,385.0 118.7,385.9 118.9,386.9 119.2,387.9 119.4,388.8 119.7,389.8 119.9,390.8 120.2,391.7 120.5,392.7 120.7,393.7 121.0,394.6 121.3,395.6 121.5,396.6 121.8,397.5 122.1,398.5 122.4,399.4 122.7,400.4 123.0,401.3 123.3,402.3 123.6,403.2 123.9,404.2 124.2,405.1 124.6,406.1 124.9,407.0 125.3,408.0 125.6,408.9 126.0,409.8 126.4,410.8 126.7,411.7 127.1,412.6 127.5,413.5 127.9,414.5 128.3,415.4 128.7,416.3 129.1,417.2 129.5,418.1 130.0,419.0 130.4,419.9 130.9,420.8 131.4,421.6 131.9,422.5 132.4,423.3 133.0,424.2 133.6,425.0 134.1,425.8 134.7,426.6 135.4,427.4 136.0,428.2 136.6,429.0 137.3,429.7 137.9,430.5 138.6,431.2 139.3,431.9 140.0,432.7 140.7,433.4 141.4,434.1 142.1,434.8 142.8,435.5 143.6,436.1 144.3,436.8 145.1,437.5 145.8,438.1 146.6,438.8 147.3,439.4 148.1,440.1 148.9,440.7 149.7,441.3 150.5,441.9 151.3,442.5 152.1,443.1 152.9,443.6 153.8,444.2 154.6,444.7 155.5,445.2 156.4,445.7 157.3,446.1 158.2,446.6 159.1,447.0 160.0,447.4 160.9,447.8 161.8,448.2 162.7,448.6 163.6,449.0 164.6,449.4 165.5,449.8 166.4,450.2 167.3,450.5 168.3,450.9 169.2,451.3 170.1,451.6 171.1,452.0 172.0,452.3 173.0,452.7 173.9,453.0 174.8,453.4 175.8,453.7 176.7,454.0 177.7,454.4 178.6,454.7 179.5,455.0 180.5,455.4 181.4,455.7 182.4,456.0 183.3,456.3 184.3,456.6 185.2,456.9 186.2,457.3 187.1,457.6 188.1,457.9 189.1,458.2 190.0,458.5 191.0,458.7 191.9,459.0 192.9,459.3 193.8,459.6 194.8,459.9 195.8,460.1 196.7,460.4 197.7,460.7 198.7,460.9 199.6,461.2 200.6,461.6 201.6,461.4 202.5,461.7 203.5,462.2 204.5,462.0 205.5,462.8 206.4,463.0 207.4,462.6 208.4,463.3 209.4,463.3 210.4,463.6 211.4,464.0 212.4,464.2 213.3,463.9 214.3,464.3 215.3,464.4 216.3,464.6 217.3,463.9 218.3,464.6 219.3,464.0 220.3,463.9 221.3,464.3 222.3,464.4 223.3,464.4 224.3,463.8 225.3,464.1 226.3,463.3 227.3,464.0 228.3,463.3 229.3,463.4 230.3,462.9 231.3,462.7 232.3,462.5 233.3,462.8 234.2,462.6 235.2,462.7 236.2,462.5 237.2,462.0 238.2,462.1 239.2,461.5 240.2,461.9 241.1,461.3 242.1,461.7 243.1,461.2 244.1,461.2 245.1,461.3 246.1,461.0 247.1,461.1 248.1,461.6 249.1,462.0 250.1,461.7 251.0,462.2 252.0,462.4 253.0,463.0 253.9,463.5 254.9,463.1 255.8,463.7 256.8,463.7 257.7,464.6 258.7,465.0 259.6,465.2 260.6,465.4 261.5,465.3 262.4,465.7 263.4,466.1 264.3,466.3 265.3,466.7 266.2,467.7 267.2,467.5 268.1,468.2 269.1,468.4 270.1,468.7 271.0,469.1 272.0,469.2 273.0,469.1 273.9,469.5 274.9,469.6 275.9,469.5 276.9,469.7 277.9,470.3 278.9,470.4 279.8,470.8 280.8,470.7 281.8,470.9 282.8,470.7 283.8,470.9 284.8,471.1 285.8,470.5 286.8,470.6 287.8,471.0 288.8,470.9 289.8,471.1 290.8,470.8 291.8,470.9 292.8,470.9 293.8,471.4 294.8,471.0 295.8,471.1 296.8,471.7 297.8,471.6 298.8,471.5 299.8,472.3 300.8,472.2 301.7,472.7 302.7,472.7 303.7,472.9 304.7,473.0 305.6,473.1 306.6,474.1 307.5,474.0 308.4,474.2 309.4,474.5 310.3,475.2 311.3,475.8 312.2,475.7 313.2,476.3 314.1,476.5 315.1,476.7 316.0,477.1 317.0,477.4 318.0,477.8 318.9,477.3 319.9,477.6 320.9,478.0 321.9,478.1 322.8,478.4 323.8,478.8 324.8,478.8 325.8,479.3 326.7,479.1 327.7,480.0 328.7,480.1 329.7,479.8 330.7,480.0 331.6,480.7 332.6,480.4 333.6,481.0 334.6,480.6 335.6,481.2 336.6,481.4 337.6,481.5 338.6,481.8 339.5,482.1 340.5,482.3 341.5,481.6 342.5,482.1 343.5,481.9 344.5,482.6 345.5,482.3 346.5,482.3 347.5,482.4 348.5,482.4 349.5,482.7 350.5,482.8 351.5,483.1 352.5,483.5 353.5,483.5 354.5,483.3 355.4,483.3 356.4,483.8 357.4,483.5 358.4,483.9 359.4,484.3 360.4,484.1 361.4,484.1 362.4,483.8 363.4,484.1 364.4,484.7 365.4,484.1 366.4,484.2 367.4,484.7 368.4,484.6 369.4,484.9 370.4,484.7 371.4,484.8 372.4,484.9 373.4,485.4 374.4,485.5 375.4,485.0 376.4,485.7 377.4,485.8 378.4,485.7 379.3,485.5 380.3,485.5 381.3,486.4 382.3,485.8 383.3,485.8 384.3,486.0 385.3,486.7 386.3,486.9 387.3,486.8 388.3,487.1 389.3,487.1 390.3,486.6 391.3,486.9 392.3,487.2 393.3,487.4 394.3,487.5 395.3,487.6 396.3,487.2 397.3,487.5 398.3,488.1 399.2,487.9 400.2,487.7 401.2,488.0 402.2,488.5 403.2,488.0 404.2,488.0 405.2,488.7 406.2,488.6 407.2,488.5 408.2,488.7 409.2,488.6 410.2,489.0 411.2,488.8 412.2,489.1 413.2,489.5 414.2,489.4 415.2,489.2 416.2,489.1 417.2,489.5 418.2,489.2 419.2,489.9 420.2,489.7 421.2,489.8 422.2,489.7 423.2,490.1 424.2,490.0 425.2,490.1 426.2,490.0 427.2,490.0 428.1,490.0 429.1,490.2 430.1,490.7 431.1,490.7 432.1,490.4 433.1,490.4 434.1,490.6 435.1,491.1 436.1,490.8 437.1,491.0 438.1,490.8 439.1,491.4 440.1,491.4 441.1,491.3 442.1,491.8 443.1,491.5 444.1,491.4 445.1,491.8 446.1,492.1 447.1,492.0 448.1,492.3 449.1,492.1 450.1,492.0 451.1,492.3 452.1,491.9 453.1,492.8 454.1,492.5 455.1,492.2 456.1,492.5 457.1,492.9 458.1,493.2 459.0,493.3 460.0,493.0 461.0,493.5 462.0,493.4 463.0,493.5 464.0,493.9 465.0,493.9 466.0,494.0 467.0,493.7 468.0,494.1 469.0,494.6 469.9,494.5 470.9,494.3 471.9,495.1 472.9,494.9 473.9,495.3 474.9,495.1 475.9,495.3 476.9,495.6 477.9,495.7 478.9,496.1 479.9,496.0 480.8,495.9 481.8,496.1 482.8,496.4 483.8,496.5 484.8,496.0 485.8,496.4 486.8,496.8 487.8,496.5 488.8,496.3 489.8,496.4 490.8,496.8 491.8,497.0 492.8,497.1 493.8,496.8 494.8,496.6 495.8,496.8 496.8,497.1 497.8,497.1 498.8,497.1 499.8,496.9 500.8,497.2 501.8,497.0 502.8,497.4 503.8,497.1 504.8,497.1 505.8,497.8 506.8,497.1 507.8,497.4 508.8,497.5 509.8,497.3 510.8,497.5 511.8,498.0 512.8,497.9 513.8,497.6 514.8,497.7 515.8,497.6 516.8,498.1 517.8,497.7 518.8,498.1 519.8,498.3 520.8,497.8 521.8,498.1 522.8,498.3 523.8,498.1 524.8,498.5 525.8,498.0 526.8,498.2 527.8,498.1 528.8,498.1 529.8,498.6 530.8,498.0 531.8,498.2 532.8,498.8" fill="none" stroke="#3cf03c" stroke-width="1.98" stroke-linejoin="round" stroke-linecap="round" />
<path d="M48.5,386.0 49.3,385.5 50.2,384.9 51.0,384.4 51.9,383.8 52.8,383.4 53.7,382.9 54.6,382.4 55.4,381.9 56.2,381.3 57.0,380.7 57.8,380.0 58.5,379.3 59.1,378.5 59.7,377.7 60.3,376.8 60.8,376.0 61.3,375.1 61.8,374.2 62.3,373.3 62.8,372.5 63.3,371.6 63.8,370.7 64.3,369.8 64.7,368.9 65.2,368.0 65.7,367.1 66.1,366.2 66.5,365.3 66.9,364.4 67.3,363.5 67.7,362.5 68.1,361.6 68.4,360.6 68.7,359.7 69.0,358.7 69.2,357.7 69.5,356.7 69.7,355.8 69.9,354.8 70.1,353.8 70.3,352.8 70.5,351.8 70.6,350.8 70.8,349.8 70.9,348.8 71.0,347.8 71.2,346.8 71.3,345.8 71.4,344.8 71.6,343.8 71.7,342.8 71.8,341.8 71.9,340.8 72.1,339.8 72.2,338.8 72.3,337.8 72.5,336.8 72.6,335.8 72.7,334.8 72.9,333.8 73.0,332.8 73.1,331.8 73.3,330.8 73.4,329.8 73.5,328.8 73.6,327.8 73.7,326.8 73.9,325.8 74.0,324.8 74.1,323.8 74.2,322.8 74.3,321.8 74.4,320.8 74.5,319.8 74.6,318.8 74.7,317.8 74.8,316.8 74.9,315.8 75.0,314.8 75.1,313.8 75.1,312.8 75.2,311.8 75.3,310.8 75.3,309.7 75.4,308.7 75.5,307.7 75.5,306.7 75.6,305.7 75.6,304.7 75.6,303.7 75.7,302.7 75.7,301.7 75.7,300.7 75.8,299.7 75.8,298.7 75.8,297.7 75.9,296.6 75.9,295.6 75.9,294.6 75.9,293.6 75.9,292.6 76.0,291.6 76.0,290.6 76.0,289.6 76.0,288.6 76.0,287.6 76.1,286.6 76.1,285.6 76.1,284.5 76.1,283.5 76.1,282.5 76.1,281.5 76.2,280.5 76.2,279.5 76.2,278.5 L117.1,278.5 117.1,278.5 117.2,279.5 117.2,280.5 117.3,281.5 117.3,282.5 117.4,283.5 117.4,284.5 117.5,285.5 117.5,286.5 117.5,287.5 117.6,288.5 117.6,289.5 117.7,290.5 117.7,291.5 117.8,292.5 117.8,293.5 117.9,294.5 117.9,295.5 118.0,296.5 118.0,297.5 118.1,298.5 118.1,299.5 118.2,300.5 118.2,301.5 118.3,302.5 118.4,303.5 118.4,304.5 118.5,305.5 118.5,306.5 118.6,307.5 118.6,308.5 118.7,309.5 118.7,310.5 118.8,311.5 118.9,312.5 118.9,313.5 119.0,314.5 119.0,315.4 119.1,316.4 119.2,317.4 119.2,318.4 119.3,319.4 119.4,320.4 119.4,321.4 119.5,322.4 119.6,323.4 119.7,324.4 119.7,325.4 119.8,326.4 119.9,327.4 120.0,328.4 120.0,329.4 120.1,330.4 120.2,331.4 120.3,332.4 120.3,333.4 120.4,334.4 120.5,335.4 120.6,336.4 120.7,337.4 120.7,338.4 120.8,339.4 120.9,340.4 121.0,341.4 121.1,342.4 121.2,343.4 121.3,344.4 121.4,345.4 121.5,346.4 121.6,347.3 121.7,348.3 121.8,349.3 121.9,350.3 122.0,351.3 122.1,352.3 122.2,353.3 122.4,354.3 122.5,355.3 122.6,356.3 122.8,357.3 122.9,358.3 123.1,359.2 123.3,360.2 123.4,361.2 123.6,362.2 123.8,363.2 124.0,364.2 124.2,365.1 124.5,366.1 124.7,367.1 125.0,368.0 125.2,369.0 125.5,370.0 125.8,370.9 126.1,371.9 126.4,372.8 126.8,373.8 127.1,374.7 127.4,375.7 127.8,376.6 128.1,377.5 128.5,378.5 128.8,379.4 129.1,380.4 129.5,381.3 129.8,382.2 130.1,383.2 130.5,384.1 130.8,385.1 131.2,386.0 131.5,386.9 131.8,387.9 132.2,388.8 132.5,389.8 132.9,390.7 133.2,391.6 133.6,392.6 134.0,393.5 134.3,394.4 134.7,395.4 135.1,396.3 135.5,397.2 135.8,398.1 136.2,399.0 136.6,400.0 137.1,400.9 137.5,401.8 137.9,402.7 138.4,403.6 138.8,404.5 139.3,405.4 139.7,406.2 140.2,407.1 140.7,408.0 141.2,408.9 141.7,409.7 142.2,410.6 142.7,411.4 143.3,412.3 143.8,413.1 144.3,414.0 144.9,414.8 145.4,415.6 146.0,416.5 146.6,417.3 147.1,418.1 147.7,418.9 148.3,419.7 148.9,420.6 149.5,421.4 150.1,422.2 150.7,422.9 151.3,423.7 151.9,424.5 152.6,425.3 153.2,426.0 153.9,426.8 154.6,427.5 155.3,428.3 155.9,429.0 156.6,429.7 157.3,430.4 158.1,431.1 158.8,431.8 159.5,432.5 160.2,433.2 160.9,433.9 161.6,434.7 162.3,435.4 163.0,436.1 163.7,436.8 164.4,437.5 165.2,438.1 166.0,438.7 166.8,439.2 167.7,439.8 168.6,440.2 169.4,440.7 170.3,441.1 171.3,441.6 172.2,442.0 173.1,442.4 174.0,442.8 174.9,443.2 175.8,443.6 176.8,444.0 177.7,444.3 178.6,444.7 179.5,445.1 180.5,445.4 181.4,445.8 182.3,446.2 183.3,446.5 184.2,446.9 185.2,447.2 186.1,447.5 187.0,447.9 188.0,448.2 188.9,448.5 189.9,448.9 190.8,449.2 191.8,449.5 192.7,449.8 193.7,450.1 194.6,450.4 195.6,450.7 196.5,451.0 197.5,451.3 198.4,451.6 199.4,451.9 200.4,452.1 201.3,452.4 202.3,452.7 203.3,452.9 204.2,453.1 205.2,453.4 206.2,453.6 207.2,453.8 208.1,454.0 209.1,454.2 210.1,454.4 211.1,454.6 212.1,454.8 213.0,455.0 214.0,455.2 215.0,455.4 216.0,455.6 217.0,455.8 218.0,455.9 218.9,456.1 219.9,456.3 220.9,456.4 221.9,456.6 222.9,456.8 223.9,456.9 224.9,457.1 225.8,457.2 226.8,457.4 227.8,457.5 228.8,457.7 229.8,457.8 230.8,458.0 231.8,458.1 232.8,458.2 233.8,458.3 234.8,458.4 235.8,458.5 236.8,458.6 237.8,458.7 238.7,458.8 239.7,458.9 240.7,459.0 241.7,459.0 242.7,459.1 243.7,459.2 244.7,459.3 245.7,459.4 246.7,459.5 247.7,459.6 248.7,459.7 249.7,459.8 250.7,459.9 251.7,460.0 252.7,460.1 253.7,460.3 254.7,460.4 255.7,460.5 256.6,460.7 257.6,460.8 258.6,460.9 259.6,461.1 260.6,461.2 261.6,461.4 262.6,461.6 263.6,461.7 264.6,461.9 265.5,462.0 266.5,462.2 267.5,462.4 268.5,462.6 269.5,462.7 270.5,462.9 271.5,463.1 272.4,463.2 273.4,463.4 274.4,463.6 275.4,463.8 276.4,463.9 277.4,464.1 278.3,464.3 279.3,464.5 280.3,464.6 281.3,464.8 282.3,465.0 283.3,465.2 284.2,465.4 285.2,465.5 286.2,465.7 287.2,465.9 288.2,466.1 289.2,466.3 290.1,466.5 291.1,466.7 292.1,466.8 293.1,467.0 294.1,467.2 295.1,467.4 296.0,467.6 297.0,467.8 298.0,468.0 299.0,468.2 300.0,468.4 300.9,468.6 301.9,468.8 302.9,469.0 303.9,469.2 304.9,469.4 305.8,469.7 306.8,469.9 307.8,470.1 308.8,470.3 309.7,470.5 310.7,470.8 311.7,471.0 312.6,471.2 313.6,471.5 314.6,471.7 315.6,471.9 316.5,472.2 317.5,472.4 318.5,472.6 319.5,472.8 320.4,473.1 321.4,473.3 322.4,473.5 323.4,473.7 324.3,473.9 325.3,474.1 326.3,474.4 327.3,474.6 328.3,474.7 329.2,474.9 330.2,475.1 331.2,475.3 332.2,475.5 333.2,475.7 334.1,475.9 335.1,476.1 336.1,476.2 337.1,476.4 338.1,476.6 339.1,476.8 340.1,476.9 341.0,477.1 342.0,477.3 343.0,477.4 344.0,477.6 345.0,477.7 346.0,477.9 347.0,478.0 348.0,478.2 348.9,478.3 349.9,478.5 350.9,478.6 351.9,478.8 352.9,478.9 353.9,479.0 354.9,479.2 355.9,479.3 356.9,479.4 357.9,479.6 358.9,479.7 359.8,479.8 360.8,479.9 361.8,480.0 362.8,480.2 363.8,480.3 364.8,480.4 365.8,480.5 366.8,480.6 367.8,480.7 368.8,480.9 369.8,481.0 370.8,481.1 371.8,481.2 372.8,481.3 373.7,481.5 374.7,481.6 375.7,481.7 376.7,481.8 377.7,482.0 378.7,482.1 379.7,482.2 380.7,482.3 381.7,482.5 382.7,482.6 383.7,482.7 384.7,482.9 385.6,483.0 386.6,483.1 387.6,483.2 388.6,483.4 389.6,483.5 390.6,483.6 391.6,483.7 392.6,483.9 393.6,484.0 394.6,484.1 395.6,484.3 396.6,484.4 397.6,484.5 398.5,484.6 399.5,484.8 400.5,484.9 401.5,485.0 402.5,485.2 403.5,485.3 404.5,485.4 405.5,485.5 406.5,485.7 407.5,485.8 408.5,485.9 409.5,486.1 410.4,486.2 411.4,486.3 412.4,486.5 413.4,486.6 414.4,486.7 415.4,486.9 416.4,487.0 417.4,487.2 418.4,487.3 419.3,487.5 420.3,487.6 421.3,487.8 422.3,488.0 423.3,488.1 424.3,488.3 425.3,488.4 426.3,488.5 427.3,488.7 428.3,488.8 429.2,488.9 430.2,489.0 431.2,489.1 432.2,489.2 433.2,489.3 434.2,489.4 435.2,489.5 436.2,489.5 437.2,489.6 438.2,489.7 439.2,489.7 440.2,489.8 441.2,489.8 442.2,489.9 443.2,490.0 444.2,490.0 445.2,490.1 446.2,490.1 447.2,490.2 448.2,490.3 449.2,490.3 450.2,490.4 451.2,490.5 452.2,490.5 453.2,490.6 454.2,490.7 455.2,490.8 456.2,490.9 457.2,491.0 458.2,491.1 459.2,491.2 460.1,491.3 461.1,491.4 462.1,491.5 463.1,491.7 464.1,491.8 465.1,491.9 466.1,492.0 467.1,492.2 468.1,492.3 469.1,492.4 470.1,492.5 471.1,492.7 472.1,492.8 473.0,492.9 474.0,493.1 475.0,493.2 476.0,493.3 477.0,493.5 478.0,493.6 479.0,493.7 480.0,493.8 481.0,494.0 482.0,494.1 483.0,494.2 484.0,494.3 485.0,494.4 485.9,494.5 486.9,494.7 487.9,494.8 488.9,494.9 489.9,495.0 490.9,495.1 491.9,495.1 492.9,495.2 493.9,495.3 494.9,495.4 495.9,495.5 496.9,495.6 497.9,495.7 498.9,495.7 499.9,495.8 500.9,495.9 501.9,496.0 502.9,496.1 503.9,496.1 504.9,496.2 505.9,496.3 506.9,496.4 507.9,496.4 508.9,496.5 509.9,496.6 510.9,496.7 511.9,496.7 512.8,496.8 513.8,496.9 514.8,497.0 515.8,497.0 516.8,497.1 517.8,497.2 518.8,497.2 519.8,497.3 520.8,497.4 521.8,497.4 522.8,497.5 523.8,497.6 524.8,497.7 525.8,497.7 526.8,497.8 527.8,497.9 528.8,497.9 529.8,498.0 530.8,498.1 531.8,498.1 532.8,498.2" fill="none" stroke="#111111" stroke-width="2.09" stroke-linejoin="round" stroke-linecap="round" />
</g>
<path d="M44.4,498.4H48.4 M46.4,454.4H48.4 M44.4,410.4H48.4 M46.4,366.4H48.4 M44.4,322.4H48.4 M46.4,278.4H48.4 M64.6,499V502.8 M103.7,499V501 M142.7,499V502.8 M181.8,499V501 M220.8,499V502.8 M259.9,499V501 M298.9,499V502.8 M338.0,499V501 M377.0,499V502.8 M416.0,499V501 M455.1,499V502.8 M494.1,499V501 M533.2,499V502.8" stroke="#8c8c8c" stroke-width="1" fill="none"/>
<text x="43" y="502.6" font-size="11.5" font-weight="bold" text-anchor="end" fill="#111" stroke="#111" stroke-width="0.3" >0</text>
<text x="43" y="414.6" font-size="11.5" font-weight="bold" text-anchor="end" fill="#111" stroke="#111" stroke-width="0.3" >2</text>
<text x="43" y="326.6" font-size="11.5" font-weight="bold" text-anchor="end" fill="#111" stroke="#111" stroke-width="0.3" >4</text>
<text x="64.6" y="517.6" font-size="11.5" font-weight="bold" text-anchor="middle" fill="#111" stroke="#111" stroke-width="0.3" >400</text>
<text x="142.7" y="517.6" font-size="11.5" font-weight="bold" text-anchor="middle" fill="#111" stroke="#111" stroke-width="0.3" >450</text>
<text x="220.8" y="517.6" font-size="11.5" font-weight="bold" text-anchor="middle" fill="#111" stroke="#111" stroke-width="0.3" >500</text>
<text x="298.9" y="517.6" font-size="11.5" font-weight="bold" text-anchor="middle" fill="#111" stroke="#111" stroke-width="0.3" >550</text>
<text x="377.0" y="517.6" font-size="11.5" font-weight="bold" text-anchor="middle" fill="#111" stroke="#111" stroke-width="0.3" >600</text>
<text x="455.1" y="517.6" font-size="11.5" font-weight="bold" text-anchor="middle" fill="#111" stroke="#111" stroke-width="0.3" >650</text>
<text x="533.2" y="517.6" font-size="11.5" font-weight="bold" text-anchor="middle" fill="#111" stroke="#111" stroke-width="0.3" >700</text>
<text transform="translate(31.0,451.8) rotate(-90)" font-size="14" font-weight="bold" fill="#111" stroke="#111" stroke-width="0.3" textLength="133.5" lengthAdjust="spacingAndGlyphs">Absorbance (a. u.)</text>
<text x="225.5" y="535.2" font-size="15.2" font-weight="bold" text-anchor="start" fill="#111" stroke="#111" stroke-width="0.3" textLength="131" lengthAdjust="spacingAndGlyphs" >Wavelength (nm)</text>
<text x="52.2" y="298.2" font-size="14.5" font-weight="bold" text-anchor="start" fill="#111" stroke="#111" stroke-width="0.3" textLength="19.5" lengthAdjust="spacingAndGlyphs" >(b)</text>
<text x="72.9" y="349.6" font-size="10" font-weight="bold" text-anchor="start" fill="#111" stroke="#111" stroke-width="0.3" textLength="40.6" lengthAdjust="spacingAndGlyphs" >417-420</text>
<path d="M170.5,310.9H187.6" stroke="#7a7a7a" stroke-width="1.9"/>
<text x="194.9" y="314.2" font-size="8.8" font-weight="normal" text-anchor="start" fill="#222" stroke="#222" stroke-width="0.15" textLength="36.3" lengthAdjust="spacingAndGlyphs" >dMeDEOS</text>
<path d="M170.5,320.8H187.6" stroke="#ff2a2a" stroke-width="1.9"/>
<text x="194.9" y="324.1" font-size="8.8" font-weight="normal" text-anchor="start" fill="#222" stroke="#222" stroke-width="0.15" textLength="26.5" lengthAdjust="spacingAndGlyphs" >EtTEOS</text>
<path d="M170.5,330.8H187.6" stroke="#ff3cff" stroke-width="1.9"/>
<text x="194.9" y="334.1" font-size="8.8" font-weight="normal" text-anchor="start" fill="#222" stroke="#222" stroke-width="0.15" textLength="28.3" lengthAdjust="spacingAndGlyphs" >VyTEOS</text>
<path d="M170.5,340.7H187.6" stroke="#2a2aff" stroke-width="1.9"/>
<text x="194.9" y="344.0" font-size="8.8" font-weight="normal" text-anchor="start" fill="#222" stroke="#222" stroke-width="0.15" textLength="36" lengthAdjust="spacingAndGlyphs" >AllyTMOS</text>
<path d="M170.5,350.7H187.6" stroke="#3cf5ff" stroke-width="1.9"/>
<text x="194.9" y="354.0" font-size="8.8" font-weight="normal" text-anchor="start" fill="#222" stroke="#222" stroke-width="0.15" textLength="32" lengthAdjust="spacingAndGlyphs" >AmTEOS</text>
<path d="M170.5,360.6H187.6" stroke="#3cf03c" stroke-width="1.9"/>
<text x="194.9" y="363.9" font-size="8.8" font-weight="normal" text-anchor="start" fill="#222" stroke="#222" stroke-width="0.15" textLength="30" lengthAdjust="spacingAndGlyphs" >DoTEOS</text>
<path d="M170.5,370.5H187.6" stroke="#111111" stroke-width="1.9"/>
<text x="194.9" y="373.8" font-size="8.8" font-weight="normal" text-anchor="start" fill="#222" stroke="#222" stroke-width="0.15" textLength="29.2" lengthAdjust="spacingAndGlyphs" >&#934;-TEOS</text>
<path d="M170.5,380.5H187.6" stroke="#8a8a2a" stroke-width="1.9"/>
<text x="194.9" y="383.8" font-size="8.8" font-weight="normal" text-anchor="start" fill="#222" stroke="#222" stroke-width="0.15" textLength="28.7" lengthAdjust="spacingAndGlyphs" >Blank-c</text>
<rect x="289.3" y="293.3" width="231.2" height="140.7" fill="#fff" stroke="none"/>
<g clip-path="url(#cbi)">
<path d="M289.5,388.2 290.5,388.5 291.4,388.8 292.4,389.1 293.3,389.4 294.3,389.6 295.3,389.9 296.2,390.2 297.2,390.5 298.2,390.7 299.1,391.0 300.1,391.2 301.1,391.4 302.1,391.6 303.1,391.7 304.1,391.8 305.1,391.9 306.1,391.9 307.1,391.9 308.1,391.9 309.1,391.9 310.1,391.8 311.1,391.8 312.1,391.7 313.1,391.7 314.1,391.7 315.1,391.7 316.1,391.7 317.1,391.8 318.1,391.9 319.1,392.1 320.1,392.3 321.0,392.5 322.0,392.8 323.0,393.0 323.9,393.3 324.9,393.6 325.9,393.9 326.8,394.2 327.8,394.6 328.7,394.9 329.6,395.2 330.6,395.6 331.5,395.9 332.5,396.3 333.4,396.7 334.3,397.0 335.2,397.4 336.2,397.8 337.1,398.2 338.0,398.5 339.0,398.8 340.0,399.1 340.9,399.4 341.9,399.6 342.9,399.8 343.9,400.0 344.9,400.2 345.9,400.3 346.8,400.5 347.8,400.7 348.8,400.8 349.8,401.0 350.8,401.2 351.8,401.4 352.7,401.7 353.7,401.9 354.7,402.2 355.6,402.5 356.6,402.8 357.5,403.1 358.5,403.5 359.4,403.9 360.3,404.3 361.2,404.6 362.2,405.0 363.1,405.4 364.0,405.8 364.9,406.2 365.9,406.6 366.8,407.0 367.7,407.4 368.6,407.8 369.6,408.2 370.5,408.5 371.4,408.9 372.3,409.3 373.3,409.7 374.2,410.1 375.1,410.5 376.0,410.8 377.0,411.2 377.9,411.5 378.9,411.8 379.9,412.1 380.8,412.3 381.8,412.6 382.8,412.8 383.8,413.0 384.7,413.3 385.7,413.5 386.7,413.6 387.7,413.8 388.7,414.0 389.7,414.2 390.6,414.4 391.6,414.5 392.6,414.7 393.6,414.8 394.6,415.0 395.6,415.2 396.6,415.3 397.6,415.5 398.6,415.6 399.6,415.8 400.6,415.9 401.5,416.1 402.5,416.2 403.5,416.4 404.5,416.5 405.5,416.7 406.5,416.8 407.5,417.0 408.5,417.1 409.5,417.3 410.5,417.4 411.5,417.6 412.4,417.7 413.4,417.9 414.4,418.1 415.4,418.2 416.4,418.4 417.4,418.5 418.4,418.7 419.4,418.9 420.4,419.1 421.3,419.3 422.3,419.4 423.3,419.6 424.3,419.8 425.3,420.0 426.3,420.2 427.2,420.5 428.2,420.7 429.2,420.9 430.2,421.1 431.2,421.3 432.1,421.5 433.1,421.7 434.1,422.0 435.1,422.2 436.0,422.4 437.0,422.6 438.0,422.8 439.0,423.1 440.0,423.3 440.9,423.5 441.9,423.7 442.9,423.9 443.9,424.1 444.9,424.3 445.9,424.4 446.9,424.6 447.8,424.8 448.8,425.0 449.8,425.1 450.8,425.3 451.8,425.4 452.8,425.5 453.8,425.7 454.8,425.8 455.8,425.9 456.8,426.0 457.8,426.1 458.8,426.2 459.8,426.3 460.8,426.4 461.8,426.4 462.8,426.5 463.8,426.6 464.8,426.7 465.8,426.7 466.8,426.8 467.8,426.9 468.8,427.0 469.8,427.0 470.8,427.1 471.8,427.2 472.8,427.3 473.8,427.4 474.8,427.5 475.8,427.6 476.8,427.7 477.8,427.8 478.8,427.9 479.8,428.0 480.8,428.1 481.8,428.2 482.7,428.3 483.7,428.5 484.7,428.6 485.7,428.7 486.7,428.8 487.7,429.0 488.7,429.1 489.7,429.2 490.7,429.4 491.7,429.5 492.7,429.6 493.7,429.8 494.7,429.9 495.7,430.0 496.7,430.2 497.7,430.3 498.7,430.4 499.6,430.6 500.6,430.7 501.6,430.9 502.6,431.0 503.6,431.1 504.6,431.3 505.6,431.4 506.6,431.6 507.6,431.7 508.6,431.8 509.6,432.0 510.6,432.1 511.6,432.3 512.6,432.4 513.5,432.5 514.5,432.7 515.5,432.8 516.5,432.9 517.5,433.1 518.5,433.2 519.5,433.4 520.5,433.5" fill="none" stroke="#3cf5ff" stroke-width="1.65" stroke-linejoin="round" stroke-linecap="round" />
<path d="M289.5,373.6 290.4,374.0 291.3,374.4 292.3,374.8 293.2,375.2 294.1,375.6 295.0,376.0 295.9,376.4 296.9,376.7 297.8,377.1 298.7,377.5 299.7,377.8 300.6,378.2 301.5,378.5 302.5,378.8 303.4,379.1 304.4,379.4 305.4,379.7 306.3,379.9 307.3,380.2 308.3,380.4 309.3,380.6 310.2,380.8 311.2,381.0 312.2,381.2 313.2,381.4 314.1,381.6 315.1,381.9 316.1,382.1 317.1,382.3 318.0,382.6 319.0,382.9 319.9,383.2 320.9,383.5 321.8,383.8 322.8,384.1 323.7,384.5 324.6,384.9 325.6,385.3 326.5,385.6 327.4,386.1 328.3,386.5 329.2,386.9 330.1,387.3 331.0,387.7 331.9,388.2 332.8,388.6 333.7,389.0 334.6,389.4 335.5,389.9 336.5,390.3 337.4,390.7 338.3,391.1 339.2,391.5 340.1,391.9 341.0,392.3 341.9,392.7 342.9,393.1 343.8,393.5 344.7,393.9 345.6,394.3 346.5,394.7 347.5,395.1 348.4,395.5 349.3,395.9 350.2,396.2 351.2,396.6 352.1,397.0 353.0,397.3 354.0,397.7 354.9,398.1 355.8,398.4 356.8,398.8 357.7,399.1 358.6,399.4 359.6,399.8 360.5,400.1 361.5,400.5 362.4,400.8 363.3,401.1 364.3,401.5 365.2,401.8 366.2,402.2 367.1,402.5 368.0,402.8 369.0,403.2 369.9,403.5 370.9,403.8 371.8,404.1 372.8,404.5 373.7,404.8 374.7,405.1 375.6,405.4 376.6,405.7 377.5,406.0 378.5,406.3 379.4,406.6 380.4,406.9 381.4,407.2 382.3,407.4 383.3,407.7 384.2,408.0 385.2,408.2 386.2,408.5 387.1,408.7 388.1,409.0 389.1,409.2 390.1,409.5 391.0,409.7 392.0,409.9 393.0,410.1 394.0,410.3 394.9,410.6 395.9,410.8 396.9,411.0 397.9,411.2 398.9,411.4 399.8,411.6 400.8,411.8 401.8,412.0 402.8,412.2 403.7,412.4 404.7,412.6 405.7,412.8 406.7,413.0 407.7,413.2 408.6,413.4 409.6,413.6 410.6,413.8 411.6,414.0 412.6,414.2 413.5,414.5 414.5,414.7 415.5,414.9 416.5,415.1 417.4,415.4 418.4,415.6 419.4,415.9 420.3,416.1 421.3,416.4 422.3,416.6 423.2,416.9 424.2,417.2 425.1,417.5 426.1,417.8 427.1,418.1 428.0,418.4 429.0,418.7 429.9,419.0 430.9,419.3 431.8,419.6 432.8,419.9 433.7,420.2 434.7,420.5 435.6,420.9 436.6,421.2 437.5,421.5 438.5,421.8 439.4,422.1 440.4,422.4 441.3,422.7 442.3,423.0 443.2,423.3 444.2,423.5 445.2,423.8 446.1,424.1 447.1,424.3 448.1,424.5 449.0,424.8 450.0,425.0 451.0,425.2 452.0,425.4 453.0,425.5 454.0,425.7 454.9,425.9 455.9,426.0 456.9,426.2 457.9,426.3 458.9,426.4 459.9,426.5 460.9,426.6 461.9,426.8 462.9,426.9 463.9,427.0 464.9,427.0 465.9,427.1 466.9,427.2 467.9,427.3 468.9,427.4 469.9,427.5 470.9,427.6 471.8,427.7 472.8,427.8 473.8,427.8 474.8,427.9 475.8,428.0 476.8,428.1 477.8,428.3 478.8,428.4 479.8,428.5 480.8,428.6 481.8,428.7 482.8,428.8 483.8,429.0 484.8,429.1 485.8,429.2 486.8,429.3 487.7,429.4 488.7,429.6 489.7,429.7 490.7,429.8 491.7,429.9 492.7,430.1 493.7,430.2 494.7,430.3 495.7,430.4 496.7,430.5 497.7,430.7 498.7,430.8 499.7,430.9 500.7,431.0 501.6,431.2 502.6,431.3 503.6,431.4 504.6,431.5 505.6,431.7 506.6,431.8 507.6,431.9 508.6,432.0 509.6,432.1 510.6,432.3 511.6,432.4 512.6,432.5 513.6,432.6 514.5,432.8 515.5,432.9 516.5,433.0 517.5,433.1 518.5,433.3 519.5,433.4 520.5,433.5" fill="none" stroke="#6e6e6e" stroke-width="1.65" stroke-linejoin="round" stroke-linecap="round" />
<path d="M289.5,368.2 290.4,368.7 291.2,369.2 292.1,369.7 293.0,370.2 293.9,370.6 294.7,371.1 295.6,371.6 296.5,372.1 297.4,372.6 298.3,373.0 299.2,373.5 300.1,374.0 300.9,374.4 301.9,374.8 302.8,375.3 303.7,375.7 304.6,376.1 305.5,376.5 306.4,376.9 307.4,377.3 308.3,377.6 309.2,378.0 310.1,378.4 311.1,378.7 312.0,379.1 313.0,379.4 313.9,379.8 314.8,380.2 315.8,380.5 316.7,380.9 317.6,381.2 318.6,381.6 319.5,382.0 320.4,382.3 321.4,382.7 322.3,383.1 323.2,383.5 324.1,383.9 325.1,384.3 326.0,384.7 326.9,385.1 327.8,385.5 328.7,385.9 329.6,386.3 330.6,386.7 331.5,387.1 332.4,387.4 333.3,387.8 334.3,388.2 335.2,388.6 336.1,388.9 337.1,389.3 338.0,389.6 338.9,390.0 339.9,390.4 340.8,390.7 341.8,391.0 342.7,391.4 343.6,391.7 344.6,392.1 345.5,392.4 346.4,392.8 347.4,393.1 348.3,393.5 349.3,393.8 350.2,394.2 351.1,394.5 352.1,394.9 353.0,395.2 354.0,395.6 354.9,395.9 355.8,396.3 356.8,396.6 357.7,396.9 358.7,397.3 359.6,397.6 360.6,398.0 361.5,398.3 362.4,398.6 363.4,399.0 364.3,399.3 365.3,399.7 366.2,400.0 367.2,400.3 368.1,400.6 369.1,401.0 370.0,401.3 370.9,401.6 371.9,402.0 372.8,402.3 373.8,402.6 374.7,402.9 375.7,403.2 376.6,403.5 377.6,403.8 378.6,404.2 379.5,404.5 380.5,404.8 381.4,405.0 382.4,405.3 383.3,405.6 384.3,405.9 385.3,406.2 386.2,406.4 387.2,406.7 388.2,407.0 389.1,407.2 390.1,407.5 391.1,407.7 392.1,407.9 393.0,408.2 394.0,408.4 395.0,408.6 396.0,408.8 397.0,409.0 397.9,409.2 398.9,409.4 399.9,409.6 400.9,409.8 401.9,410.0 402.8,410.2 403.8,410.4 404.8,410.6 405.8,410.8 406.8,410.9 407.8,411.1 408.7,411.3 409.7,411.5 410.7,411.7 411.7,411.9 412.7,412.1 413.7,412.3 414.6,412.5 415.6,412.8 416.6,413.0 417.6,413.2 418.5,413.4 419.5,413.7 420.5,413.9 421.4,414.2 422.4,414.5 423.4,414.7 424.3,415.0 425.3,415.3 426.3,415.6 427.2,415.9 428.2,416.2 429.1,416.5 430.1,416.8 431.0,417.1 432.0,417.4 432.9,417.8 433.9,418.1 434.8,418.4 435.8,418.7 436.7,419.0 437.7,419.4 438.6,419.7 439.6,420.0 440.5,420.3 441.5,420.6 442.4,420.9 443.4,421.2 444.4,421.5 445.3,421.8 446.3,422.0 447.3,422.3 448.2,422.5 449.2,422.8 450.2,423.0 451.1,423.3 452.1,423.5 453.1,423.7 454.1,423.9 455.1,424.1 456.0,424.3 457.0,424.5 458.0,424.7 459.0,424.8 460.0,425.0 461.0,425.2 462.0,425.3 462.9,425.5 463.9,425.7 464.9,425.8 465.9,426.0 466.9,426.1 467.9,426.3 468.9,426.4 469.9,426.5 470.9,426.7 471.9,426.8 472.9,427.0 473.9,427.1 474.8,427.3 475.8,427.4 476.8,427.5 477.8,427.7 478.8,427.8 479.8,428.0 480.8,428.1 481.8,428.3 482.8,428.4 483.8,428.5 484.8,428.7 485.7,428.8 486.7,429.0 487.7,429.1 488.7,429.2 489.7,429.4 490.7,429.5 491.7,429.7 492.7,429.8 493.7,429.9 494.7,430.1 495.7,430.2 496.7,430.3 497.7,430.5 498.7,430.6 499.6,430.7 500.6,430.9 501.6,431.0 502.6,431.1 503.6,431.3 504.6,431.4 505.6,431.5 506.6,431.7 507.6,431.8 508.6,431.9 509.6,432.1 510.6,432.2 511.6,432.3 512.6,432.4 513.5,432.6 514.5,432.7 515.5,432.8 516.5,433.0 517.5,433.1 518.5,433.2 519.5,433.4 520.5,433.5" fill="none" stroke="#8a3ce6" stroke-width="1.65" stroke-linejoin="round" stroke-linecap="round" />
<path d="M289.5,360.0 290.4,360.4 291.3,360.9 292.2,361.3 293.1,361.7 294.0,362.2 294.9,362.6 295.8,363.0 296.7,363.5 297.6,363.9 298.5,364.3 299.5,364.7 300.4,365.1 301.3,365.5 302.2,366.0 303.1,366.3 304.0,366.7 305.0,367.1 305.9,367.5 306.8,367.9 307.8,368.2 308.7,368.6 309.6,368.9 310.6,369.3 311.5,369.6 312.5,370.0 313.4,370.3 314.3,370.7 315.3,371.1 316.2,371.4 317.1,371.8 318.0,372.2 319.0,372.6 319.9,373.0 320.8,373.4 321.7,373.8 322.6,374.2 323.5,374.6 324.4,375.1 325.3,375.5 326.2,376.0 327.1,376.5 328.0,376.9 328.9,377.4 329.7,377.9 330.6,378.4 331.5,378.9 332.4,379.3 333.3,379.8 334.2,380.2 335.1,380.7 336.0,381.1 336.9,381.6 337.8,382.0 338.7,382.4 339.6,382.8 340.5,383.2 341.4,383.6 342.4,384.0 343.3,384.4 344.2,384.7 345.2,385.1 346.1,385.5 347.0,385.9 347.9,386.2 348.9,386.6 349.8,387.0 350.8,387.3 351.7,387.7 352.6,388.0 353.6,388.4 354.5,388.7 355.4,389.1 356.4,389.4 357.3,389.8 358.3,390.1 359.2,390.5 360.1,390.8 361.1,391.2 362.0,391.5 363.0,391.9 363.9,392.2 364.8,392.5 365.8,392.9 366.7,393.2 367.7,393.6 368.6,393.9 369.6,394.2 370.5,394.6 371.5,394.9 372.4,395.2 373.3,395.5 374.3,395.8 375.3,396.2 376.2,396.5 377.2,396.8 378.1,397.1 379.1,397.4 380.0,397.6 381.0,397.9 382.0,398.2 382.9,398.5 383.9,398.8 384.8,399.0 385.8,399.3 386.8,399.6 387.7,399.9 388.7,400.1 389.7,400.4 390.6,400.7 391.6,401.0 392.6,401.2 393.5,401.5 394.5,401.7 395.5,402.0 396.4,402.3 397.4,402.5 398.4,402.8 399.3,403.1 400.3,403.3 401.3,403.6 402.2,403.8 403.2,404.1 404.2,404.4 405.1,404.6 406.1,404.9 407.1,405.1 408.0,405.4 409.0,405.7 410.0,405.9 410.9,406.2 411.9,406.4 412.9,406.7 413.8,407.0 414.8,407.2 415.8,407.5 416.7,407.8 417.7,408.0 418.7,408.3 419.6,408.6 420.6,408.9 421.5,409.2 422.5,409.4 423.5,409.7 424.4,410.0 425.4,410.3 426.3,410.6 427.3,410.9 428.3,411.2 429.2,411.5 430.2,411.8 431.1,412.1 432.1,412.4 433.0,412.7 434.0,413.0 434.9,413.3 435.9,413.6 436.8,414.0 437.8,414.3 438.7,414.6 439.7,414.9 440.6,415.2 441.6,415.5 442.5,415.9 443.5,416.2 444.4,416.5 445.4,416.9 446.3,417.2 447.2,417.6 448.2,417.9 449.1,418.3 450.1,418.6 451.0,419.0 451.9,419.3 452.9,419.6 453.8,420.0 454.8,420.3 455.7,420.7 456.7,421.0 457.6,421.3 458.6,421.6 459.5,421.9 460.5,422.2 461.4,422.5 462.4,422.8 463.3,423.1 464.3,423.4 465.3,423.6 466.3,423.9 467.2,424.1 468.2,424.4 469.2,424.6 470.2,424.8 471.1,425.0 472.1,425.2 473.1,425.3 474.1,425.5 475.1,425.7 476.1,425.8 477.1,426.0 478.1,426.1 479.0,426.3 480.0,426.4 481.0,426.6 482.0,426.7 483.0,426.9 484.0,427.0 485.0,427.2 486.0,427.3 487.0,427.5 488.0,427.7 488.9,427.8 489.9,428.0 490.9,428.2 491.9,428.3 492.9,428.5 493.9,428.7 494.9,428.9 495.9,429.0 496.8,429.2 497.8,429.4 498.8,429.6 499.8,429.8 500.8,429.9 501.8,430.1 502.8,430.3 503.7,430.5 504.7,430.6 505.7,430.8 506.7,431.0 507.7,431.2 508.7,431.4 509.7,431.5 510.6,431.7 511.6,431.9 512.6,432.1 513.6,432.3 514.6,432.4 515.6,432.6 516.6,432.8 517.5,433.0 518.5,433.1 519.5,433.3 520.5,433.5" fill="none" stroke="#ff2a2a" stroke-width="1.76" stroke-linejoin="round" stroke-linecap="round" />
<path d="M289.5,361.8 290.4,362.1 291.4,362.5 292.3,362.8 293.3,363.1 294.2,363.5 295.2,363.8 296.1,364.1 297.1,364.5 298.0,364.8 299.0,365.1 299.9,365.4 300.9,365.7 301.8,366.0 302.8,366.2 303.8,366.5 304.8,366.7 305.8,366.9 306.7,367.1 307.7,367.2 308.7,367.4 309.7,367.5 310.7,367.6 311.7,367.8 312.7,368.0 313.7,368.2 314.7,368.4 315.6,368.6 316.6,368.9 317.6,369.2 318.5,369.5 319.4,369.9 320.3,370.4 321.2,370.9 322.0,371.4 322.9,372.0 323.7,372.5 324.5,373.1 325.3,373.8 326.1,374.4 326.9,375.0 327.6,375.6 328.4,376.2 329.2,376.9 330.0,377.5 330.8,378.0 331.7,378.6 332.5,379.1 333.4,379.7 334.3,380.1 335.2,380.6 336.1,381.0 337.0,381.3 338.0,381.7 338.9,382.0 339.9,382.3 340.8,382.6 341.8,382.9 342.7,383.2 343.7,383.5 344.7,383.8 345.6,384.0 346.6,384.3 347.6,384.6 348.5,384.8 349.5,385.1 350.5,385.4 351.4,385.7 352.4,386.0 353.3,386.4 354.3,386.7 355.2,387.1 356.1,387.5 357.0,387.9 357.9,388.3 358.8,388.8 359.7,389.3 360.6,389.7 361.5,390.2 362.4,390.7 363.2,391.1 364.1,391.6 365.0,392.1 365.9,392.5 366.8,393.0 367.7,393.4 368.6,393.8 369.5,394.2 370.5,394.6 371.4,395.0 372.3,395.4 373.2,395.8 374.2,396.2 375.1,396.6 376.0,397.0 376.9,397.4 377.9,397.7 378.8,398.1 379.7,398.5 380.7,398.8 381.6,399.2 382.6,399.5 383.5,399.8 384.4,400.2 385.4,400.5 386.4,400.8 387.3,401.1 388.3,401.4 389.2,401.6 390.2,401.9 391.2,402.1 392.2,402.3 393.2,402.5 394.2,402.6 395.2,402.8 396.2,402.9 397.1,403.0 398.1,403.2 399.1,403.3 400.1,403.5 401.1,403.6 402.1,403.8 403.1,404.0 404.0,404.3 405.0,404.6 406.0,404.9 406.9,405.2 407.9,405.5 408.8,405.9 409.7,406.2 410.7,406.6 411.6,407.0 412.5,407.4 413.4,407.8 414.4,408.1 415.3,408.5 416.2,408.9 417.2,409.2 418.1,409.6 419.1,409.9 420.0,410.2 421.0,410.5 421.9,410.8 422.9,411.1 423.8,411.5 424.8,411.8 425.8,412.1 426.7,412.4 427.7,412.7 428.6,413.0 429.6,413.3 430.5,413.6 431.5,413.9 432.4,414.2 433.4,414.5 434.4,414.8 435.3,415.1 436.3,415.4 437.2,415.7 438.2,416.0 439.2,416.3 440.1,416.5 441.1,416.8 442.0,417.1 443.0,417.4 444.0,417.6 445.0,417.9 445.9,418.1 446.9,418.4 447.9,418.6 448.8,418.8 449.8,419.1 450.8,419.3 451.8,419.5 452.8,419.7 453.8,419.9 454.7,420.0 455.7,420.2 456.7,420.4 457.7,420.5 458.7,420.7 459.7,420.8 460.7,420.9 461.7,421.0 462.7,421.2 463.7,421.3 464.7,421.4 465.7,421.5 466.7,421.6 467.7,421.7 468.7,421.9 469.7,422.0 470.7,422.1 471.6,422.2 472.6,422.4 473.6,422.5 474.6,422.7 475.6,422.8 476.6,423.0 477.6,423.2 478.6,423.4 479.6,423.5 480.6,423.7 481.5,423.9 482.5,424.2 483.5,424.4 484.5,424.6 485.5,424.8 486.4,425.0 487.4,425.2 488.4,425.5 489.4,425.7 490.3,425.9 491.3,426.2 492.3,426.4 493.3,426.6 494.2,426.9 495.2,427.1 496.2,427.4 497.2,427.6 498.1,427.8 499.1,428.1 500.1,428.3 501.1,428.6 502.0,428.8 503.0,429.1 504.0,429.3 504.9,429.5 505.9,429.8 506.9,430.0 507.9,430.3 508.8,430.5 509.8,430.8 510.8,431.0 511.7,431.3 512.7,431.5 513.7,431.8 514.7,432.0 515.6,432.3 516.6,432.5 517.6,432.8 518.6,433.0 519.5,433.3 520.5,433.5" fill="none" stroke="#2a2aff" stroke-width="1.76" stroke-linejoin="round" stroke-linecap="round" />
<path d="M289.5,340.0 290.4,340.5 291.2,341.0 292.1,341.5 293.0,342.0 293.8,342.5 294.7,343.0 295.6,343.5 296.4,344.0 297.3,344.5 298.2,345.0 299.0,345.5 299.9,346.0 300.8,346.6 301.6,347.1 302.5,347.6 303.3,348.1 304.2,348.6 305.1,349.1 305.9,349.7 306.8,350.2 307.6,350.7 308.5,351.2 309.3,351.8 310.2,352.3 311.0,352.8 311.9,353.4 312.7,353.9 313.6,354.4 314.4,355.0 315.3,355.5 316.1,356.0 317.0,356.6 317.8,357.1 318.7,357.6 319.5,358.2 320.4,358.7 321.2,359.2 322.1,359.7 322.9,360.3 323.8,360.8 324.6,361.3 325.5,361.8 326.3,362.4 327.2,362.9 328.1,363.4 328.9,363.9 329.8,364.4 330.7,364.9 331.5,365.4 332.4,365.9 333.3,366.4 334.1,366.9 335.0,367.4 335.9,367.9 336.8,368.3 337.7,368.8 338.6,369.3 339.5,369.7 340.4,370.1 341.3,370.6 342.2,371.0 343.1,371.4 344.0,371.8 345.0,372.2 345.9,372.5 346.8,372.9 347.8,373.2 348.7,373.5 349.7,373.9 350.6,374.2 351.6,374.5 352.5,374.8 353.5,375.0 354.5,375.3 355.4,375.6 356.4,375.9 357.3,376.2 358.3,376.4 359.3,376.7 360.2,377.0 361.2,377.3 362.1,377.6 363.1,377.9 364.1,378.2 365.0,378.6 365.9,378.9 366.9,379.3 367.8,379.6 368.7,380.0 369.7,380.4 370.6,380.8 371.5,381.3 372.4,381.7 373.3,382.1 374.2,382.6 375.1,383.1 375.9,383.5 376.8,384.0 377.7,384.5 378.6,385.0 379.5,385.5 380.3,385.9 381.2,386.4 382.1,386.9 383.0,387.4 383.8,387.9 384.7,388.4 385.6,388.9 386.4,389.4 387.3,389.9 388.2,390.4 389.1,390.9 389.9,391.4 390.8,391.9 391.7,392.3 392.6,392.8 393.5,393.2 394.4,393.7 395.3,394.1 396.2,394.6 397.1,395.0 398.0,395.4 399.0,395.7 399.9,396.1 400.8,396.4 401.8,396.7 402.8,397.0 403.7,397.2 404.7,397.5 405.7,397.7 406.7,397.9 407.6,398.1 408.6,398.3 409.6,398.4 410.6,398.6 411.6,398.8 412.6,398.9 413.6,399.1 414.6,399.3 415.5,399.5 416.5,399.7 417.5,400.0 418.5,400.2 419.4,400.6 420.3,400.9 421.3,401.3 422.2,401.8 423.0,402.3 423.9,402.8 424.8,403.3 425.6,403.8 426.4,404.4 427.2,405.0 428.0,405.6 428.8,406.2 429.7,406.8 430.5,407.3 431.3,407.9 432.2,408.4 433.0,408.9 433.9,409.4 434.8,409.9 435.7,410.3 436.6,410.7 437.6,411.1 438.5,411.5 439.4,411.8 440.4,412.2 441.3,412.5 442.2,412.9 443.2,413.2 444.1,413.5 445.1,413.8 446.0,414.1 447.0,414.4 448.0,414.7 448.9,415.0 449.9,415.3 450.8,415.6 451.8,415.8 452.8,416.1 453.7,416.4 454.7,416.6 455.7,416.8 456.7,417.0 457.7,417.2 458.7,417.4 459.7,417.5 460.7,417.5 461.7,417.6 462.7,417.6 463.7,417.7 464.7,417.7 465.7,417.7 466.7,417.8 467.7,417.9 468.7,418.1 469.6,418.2 470.6,418.4 471.6,418.6 472.6,418.8 473.6,419.0 474.5,419.3 475.5,419.5 476.5,419.8 477.4,420.0 478.4,420.3 479.4,420.6 480.3,420.9 481.3,421.1 482.3,421.4 483.2,421.7 484.2,422.0 485.1,422.3 486.1,422.6 487.1,422.9 488.0,423.2 489.0,423.5 489.9,423.8 490.9,424.1 491.8,424.4 492.8,424.7 493.8,425.0 494.7,425.3 495.7,425.6 496.6,425.9 497.6,426.2 498.5,426.5 499.5,426.8 500.5,427.1 501.4,427.4 502.4,427.7 503.3,428.0 504.3,428.3 505.2,428.6 506.2,428.9 507.1,429.2 508.1,429.5 509.0,429.8 510.0,430.1 511.0,430.5 511.9,430.8 512.9,431.1 513.8,431.4 514.8,431.7 515.7,432.0 516.7,432.3 517.6,432.6 518.6,432.9 519.5,433.2 520.5,433.5" fill="none" stroke="#ff3cff" stroke-width="1.76" stroke-linejoin="round" stroke-linecap="round" />
<path d="M289.5,331.8 290.3,332.4 291.0,333.1 291.8,333.7 292.6,334.3 293.5,334.8 294.4,335.3 295.3,335.6 296.3,335.7 297.3,335.7 298.3,335.4 299.2,335.1 300.1,334.6 301.0,334.1 301.8,333.5 302.6,332.9 303.4,332.3 304.2,331.7 305.0,331.1 305.9,330.6 306.7,330.0 307.6,329.5 308.5,329.1 309.4,328.6 310.3,328.2 311.2,327.8 312.2,327.5 313.1,327.2 314.1,327.0 315.1,326.9 316.1,326.9 317.1,327.0 318.1,327.3 319.0,327.7 319.8,328.2 320.6,328.9 321.3,329.6 322.0,330.3 322.6,331.1 323.2,331.9 323.8,332.7 324.4,333.5 324.9,334.4 325.5,335.2 326.1,336.0 326.6,336.9 327.2,337.7 327.8,338.5 328.4,339.3 329.0,340.1 329.6,340.9 330.2,341.7 330.9,342.5 331.5,343.3 332.1,344.1 332.7,344.8 333.3,345.6 333.9,346.4 334.6,347.2 335.2,348.0 335.9,348.7 336.6,349.4 337.3,350.1 338.0,350.8 338.8,351.4 339.7,352.0 340.5,352.5 341.4,352.9 342.4,353.3 343.3,353.5 344.3,353.8 345.3,353.9 346.3,354.1 347.3,354.2 348.3,354.3 349.3,354.5 350.3,354.7 351.2,354.9 352.2,355.2 353.1,355.6 354.1,356.0 354.9,356.4 355.8,357.0 356.6,357.5 357.4,358.1 358.2,358.7 359.0,359.4 359.8,360.0 360.5,360.7 361.3,361.4 362.0,362.0 362.7,362.7 363.4,363.4 364.1,364.1 364.9,364.9 365.6,365.6 366.3,366.3 367.0,367.0 367.7,367.7 368.4,368.4 369.1,369.1 369.8,369.8 370.5,370.6 371.2,371.3 371.9,372.0 372.5,372.8 373.2,373.5 373.9,374.3 374.5,375.0 375.2,375.8 375.8,376.5 376.5,377.3 377.2,378.1 377.8,378.8 378.5,379.5 379.2,380.3 379.9,381.0 380.6,381.7 381.3,382.4 382.1,383.1 382.9,383.7 383.7,384.3 384.5,384.8 385.4,385.3 386.3,385.7 387.3,386.0 388.3,386.2 389.3,386.4 390.2,386.5 391.2,386.6 392.3,386.6 393.3,386.7 394.3,386.7 395.3,386.8 396.3,386.9 397.3,387.0 398.3,387.1 399.3,387.2 400.2,387.3 401.2,387.4 402.2,387.7 403.2,387.9 404.1,388.2 405.1,388.6 406.0,389.0 406.9,389.4 407.8,389.8 408.7,390.3 409.6,390.7 410.5,391.2 411.4,391.7 412.3,392.2 413.1,392.6 414.0,393.1 414.9,393.6 415.8,394.1 416.7,394.5 417.6,395.0 418.4,395.5 419.3,396.0 420.2,396.4 421.1,396.9 422.0,397.4 422.9,397.9 423.7,398.3 424.6,398.8 425.5,399.3 426.3,399.8 427.2,400.3 428.1,400.8 429.0,401.3 429.8,401.8 430.7,402.3 431.6,402.8 432.5,403.3 433.4,403.7 434.3,404.2 435.2,404.6 436.1,405.0 437.0,405.5 437.9,405.8 438.8,406.2 439.8,406.5 440.7,406.9 441.7,407.1 442.7,407.4 443.7,407.5 444.7,407.7 445.7,407.8 446.7,407.9 447.7,407.9 448.7,408.0 449.7,408.0 450.7,408.0 451.7,408.0 452.7,407.9 453.7,407.9 454.7,407.9 455.7,407.9 456.7,407.9 457.7,408.0 458.7,408.1 459.7,408.2 460.7,408.3 461.7,408.5 462.6,408.8 463.6,409.0 464.6,409.3 465.5,409.7 466.4,410.1 467.3,410.5 468.2,410.9 469.1,411.3 470.0,411.8 470.9,412.3 471.8,412.8 472.7,413.3 473.5,413.8 474.4,414.3 475.3,414.8 476.2,415.3 477.0,415.8 477.9,416.2 478.8,416.7 479.7,417.2 480.6,417.7 481.4,418.1 482.3,418.6 483.2,419.1 484.1,419.5 485.0,420.0 485.9,420.5 486.8,421.0 487.6,421.4 488.5,421.9 489.4,422.4 490.3,422.9 491.2,423.3 492.1,423.8 493.0,424.2 493.9,424.6 494.8,425.1 495.7,425.5 496.6,425.9 497.5,426.3 498.5,426.7 499.4,427.0 500.4,427.4 501.3,427.7 502.2,428.0 503.2,428.4 504.1,428.7 505.1,429.0 506.1,429.3 507.0,429.6 508.0,429.9 508.9,430.2 509.9,430.4 510.9,430.7 511.8,431.0 512.8,431.3 513.8,431.6 514.7,431.8 515.7,432.1 516.6,432.4 517.6,432.7 518.6,432.9 519.5,433.2 520.5,433.5" fill="none" stroke="#3cf03c" stroke-width="1.76" stroke-linejoin="round" stroke-linecap="round" />
<path d="M289.5,304.0 290.3,304.6 291.1,305.3 291.8,305.9 292.6,306.5 293.4,307.2 294.1,307.8 294.9,308.4 295.7,309.1 296.5,309.7 297.3,310.3 298.1,310.9 298.9,311.5 299.7,312.1 300.6,312.6 301.4,313.2 302.2,313.7 303.1,314.2 304.0,314.7 304.9,315.1 305.8,315.5 306.7,315.9 307.6,316.3 308.6,316.7 309.5,317.0 310.5,317.4 311.4,317.7 312.3,318.1 313.3,318.4 314.2,318.8 315.2,319.1 316.1,319.5 317.0,319.9 317.9,320.3 318.8,320.7 319.7,321.2 320.6,321.6 321.5,322.1 322.4,322.6 323.2,323.1 324.1,323.6 324.9,324.2 325.8,324.7 326.6,325.3 327.4,325.8 328.3,326.4 329.1,327.0 329.9,327.5 330.7,328.1 331.5,328.7 332.4,329.3 333.2,329.9 334.0,330.4 334.8,331.0 335.6,331.6 336.5,332.1 337.3,332.7 338.1,333.2 339.0,333.8 339.8,334.3 340.7,334.8 341.6,335.3 342.5,335.8 343.3,336.3 344.2,336.8 345.1,337.3 345.9,337.8 346.7,338.4 347.5,339.0 348.3,339.6 349.1,340.3 349.8,340.9 350.6,341.6 351.3,342.2 352.1,342.9 352.8,343.6 353.6,344.3 354.3,344.9 355.0,345.6 355.8,346.3 356.5,347.0 357.2,347.7 357.9,348.4 358.7,349.1 359.4,349.8 360.1,350.5 360.8,351.2 361.6,351.9 362.3,352.5 363.0,353.2 363.7,353.9 364.5,354.6 365.2,355.3 365.9,356.0 366.7,356.7 367.4,357.3 368.1,358.0 368.9,358.7 369.6,359.4 370.4,360.0 371.1,360.7 371.8,361.4 372.6,362.1 373.3,362.7 374.1,363.4 374.8,364.1 375.5,364.8 376.3,365.4 377.0,366.1 377.8,366.8 378.5,367.4 379.3,368.1 380.0,368.8 380.8,369.4 381.5,370.1 382.3,370.7 383.1,371.3 383.9,372.0 384.7,372.6 385.5,373.2 386.3,373.8 387.1,374.3 388.0,374.9 388.8,375.4 389.7,375.9 390.5,376.4 391.4,376.8 392.3,377.3 393.3,377.7 394.2,378.1 395.1,378.4 396.1,378.8 397.0,379.1 397.9,379.5 398.9,379.8 399.8,380.1 400.8,380.4 401.7,380.8 402.7,381.1 403.6,381.5 404.5,381.9 405.4,382.3 406.3,382.7 407.3,383.1 408.1,383.6 409.0,384.0 409.9,384.5 410.8,385.0 411.7,385.5 412.6,386.0 413.4,386.5 414.3,387.0 415.2,387.5 416.0,388.0 416.9,388.5 417.7,389.0 418.6,389.5 419.4,390.1 420.3,390.6 421.1,391.1 422.0,391.7 422.8,392.2 423.6,392.8 424.5,393.4 425.3,393.9 426.1,394.5 426.9,395.1 427.7,395.7 428.6,396.3 429.4,396.8 430.2,397.4 431.0,398.0 431.8,398.5 432.7,399.1 433.5,399.7 434.4,400.2 435.2,400.7 436.0,401.3 436.9,401.8 437.8,402.3 438.7,402.8 439.5,403.2 440.5,403.6 441.4,404.0 442.3,404.4 443.2,404.7 444.2,405.0 445.2,405.3 446.1,405.5 447.1,405.7 448.1,405.9 449.1,406.0 450.1,406.2 451.1,406.3 452.1,406.4 453.1,406.4 454.1,406.5 455.1,406.6 456.1,406.7 457.1,406.8 458.1,406.9 459.1,407.1 460.1,407.3 461.0,407.4 462.0,407.6 463.0,407.8 464.0,408.0 465.0,408.2 466.0,408.4 466.9,408.7 467.9,408.9 468.8,409.2 469.8,409.5 470.7,409.9 471.7,410.3 472.6,410.6 473.5,411.1 474.4,411.5 475.3,411.9 476.2,412.4 477.1,412.8 478.0,413.3 478.9,413.7 479.8,414.2 480.6,414.7 481.5,415.1 482.4,415.6 483.3,416.1 484.2,416.5 485.1,417.0 486.0,417.5 486.9,417.9 487.8,418.4 488.7,418.8 489.6,419.2 490.5,419.7 491.4,420.1 492.3,420.5 493.2,420.9 494.1,421.4 495.0,421.8 495.9,422.2 496.8,422.6 497.7,423.1 498.6,423.5 499.6,423.9 500.5,424.3 501.4,424.7 502.3,425.2 503.2,425.6 504.1,426.0 505.0,426.4 505.9,426.8 506.8,427.2 507.7,427.7 508.7,428.1 509.6,428.5 510.5,428.9 511.4,429.3 512.3,429.7 513.2,430.2 514.1,430.6 515.0,431.0 515.9,431.4 516.9,431.8 517.8,432.2 518.7,432.7 519.6,433.1 520.5,433.5" fill="none" stroke="#111111" stroke-width="1.87" stroke-linejoin="round" stroke-linecap="round" />
</g>
<rect x="289.3" y="293.3" width="231.2" height="140.7" fill="none" stroke="#8c8c8c" stroke-width="1.1"/>
<path d="M284.8,434.0H289.3 M284.8,369.9H289.3 M284.8,305.8H289.3 M289.7,434V436 M300.7,434V438 M311.7,434V436 M322.7,434V436 M333.7,434V436 M344.7,434V436 M355.6,434V438 M366.6,434V436 M377.6,434V436 M388.6,434V436 M399.6,434V436 M410.6,434V438 M421.6,434V436 M432.6,434V436 M443.6,434V436 M454.6,434V436 M465.5,434V438 M476.5,434V436 M487.5,434V436 M498.5,434V436 M509.5,434V436 M520.5,434V438" stroke="#8c8c8c" stroke-width="1" fill="none"/>
<text x="282" y="437.3" font-size="9" font-weight="bold" text-anchor="end" fill="#111" stroke="#111" stroke-width="0.3" >0</text>
<text x="283" y="373.2" font-size="9" font-weight="bold" text-anchor="end" fill="#111" stroke="#111" stroke-width="0.3" >0,5</text>
<text x="282" y="309.1" font-size="9" font-weight="bold" text-anchor="end" fill="#111" stroke="#111" stroke-width="0.3" >1</text>
<text x="300.7" y="449.8" font-size="9" font-weight="bold" text-anchor="middle" fill="#111" stroke="#111" stroke-width="0.3" >500</text>
<text x="355.6" y="449.8" font-size="9" font-weight="bold" text-anchor="middle" fill="#111" stroke="#111" stroke-width="0.3" >550</text>
<text x="410.6" y="449.8" font-size="9" font-weight="bold" text-anchor="middle" fill="#111" stroke="#111" stroke-width="0.3" >600</text>
<text x="465.5" y="449.8" font-size="9" font-weight="bold" text-anchor="middle" fill="#111" stroke="#111" stroke-width="0.3" >650</text>
<text x="520.5" y="449.8" font-size="9" font-weight="bold" text-anchor="middle" fill="#111" stroke="#111" stroke-width="0.3" >700</text>
<text x="328.7" y="315.7" font-size="10.5" font-weight="bold" fill="#111" stroke="#111" stroke-width="0.3">Q<tspan font-size="6.3" font-weight="normal" stroke-width="0" dy="0.8">IV</tspan><tspan dy="-0.8">=517</tspan></text>
<text x="369.6" y="343.6" font-size="10.5" font-weight="bold" fill="#111" stroke="#111" stroke-width="0.3">Q<tspan font-size="6.3" font-weight="normal" stroke-width="0" dy="0.8">III</tspan><tspan dy="-0.8">=551</tspan></text>
<text x="411.1" y="375.4" font-size="10.5" font-weight="bold" fill="#111" stroke="#111" stroke-width="0.3">Q<tspan font-size="6.3" font-weight="normal" stroke-width="0" dy="0.8">III</tspan><tspan dy="-0.8">=595</tspan></text>
<text x="469" y="401.4" font-size="10.5" font-weight="bold" fill="#111" stroke="#111" stroke-width="0.3">Q<tspan font-size="6.3" font-weight="normal" stroke-width="0" dy="0.8">I</tspan><tspan dy="-0.8">=652</tspan></text>
</svg></body></html>
